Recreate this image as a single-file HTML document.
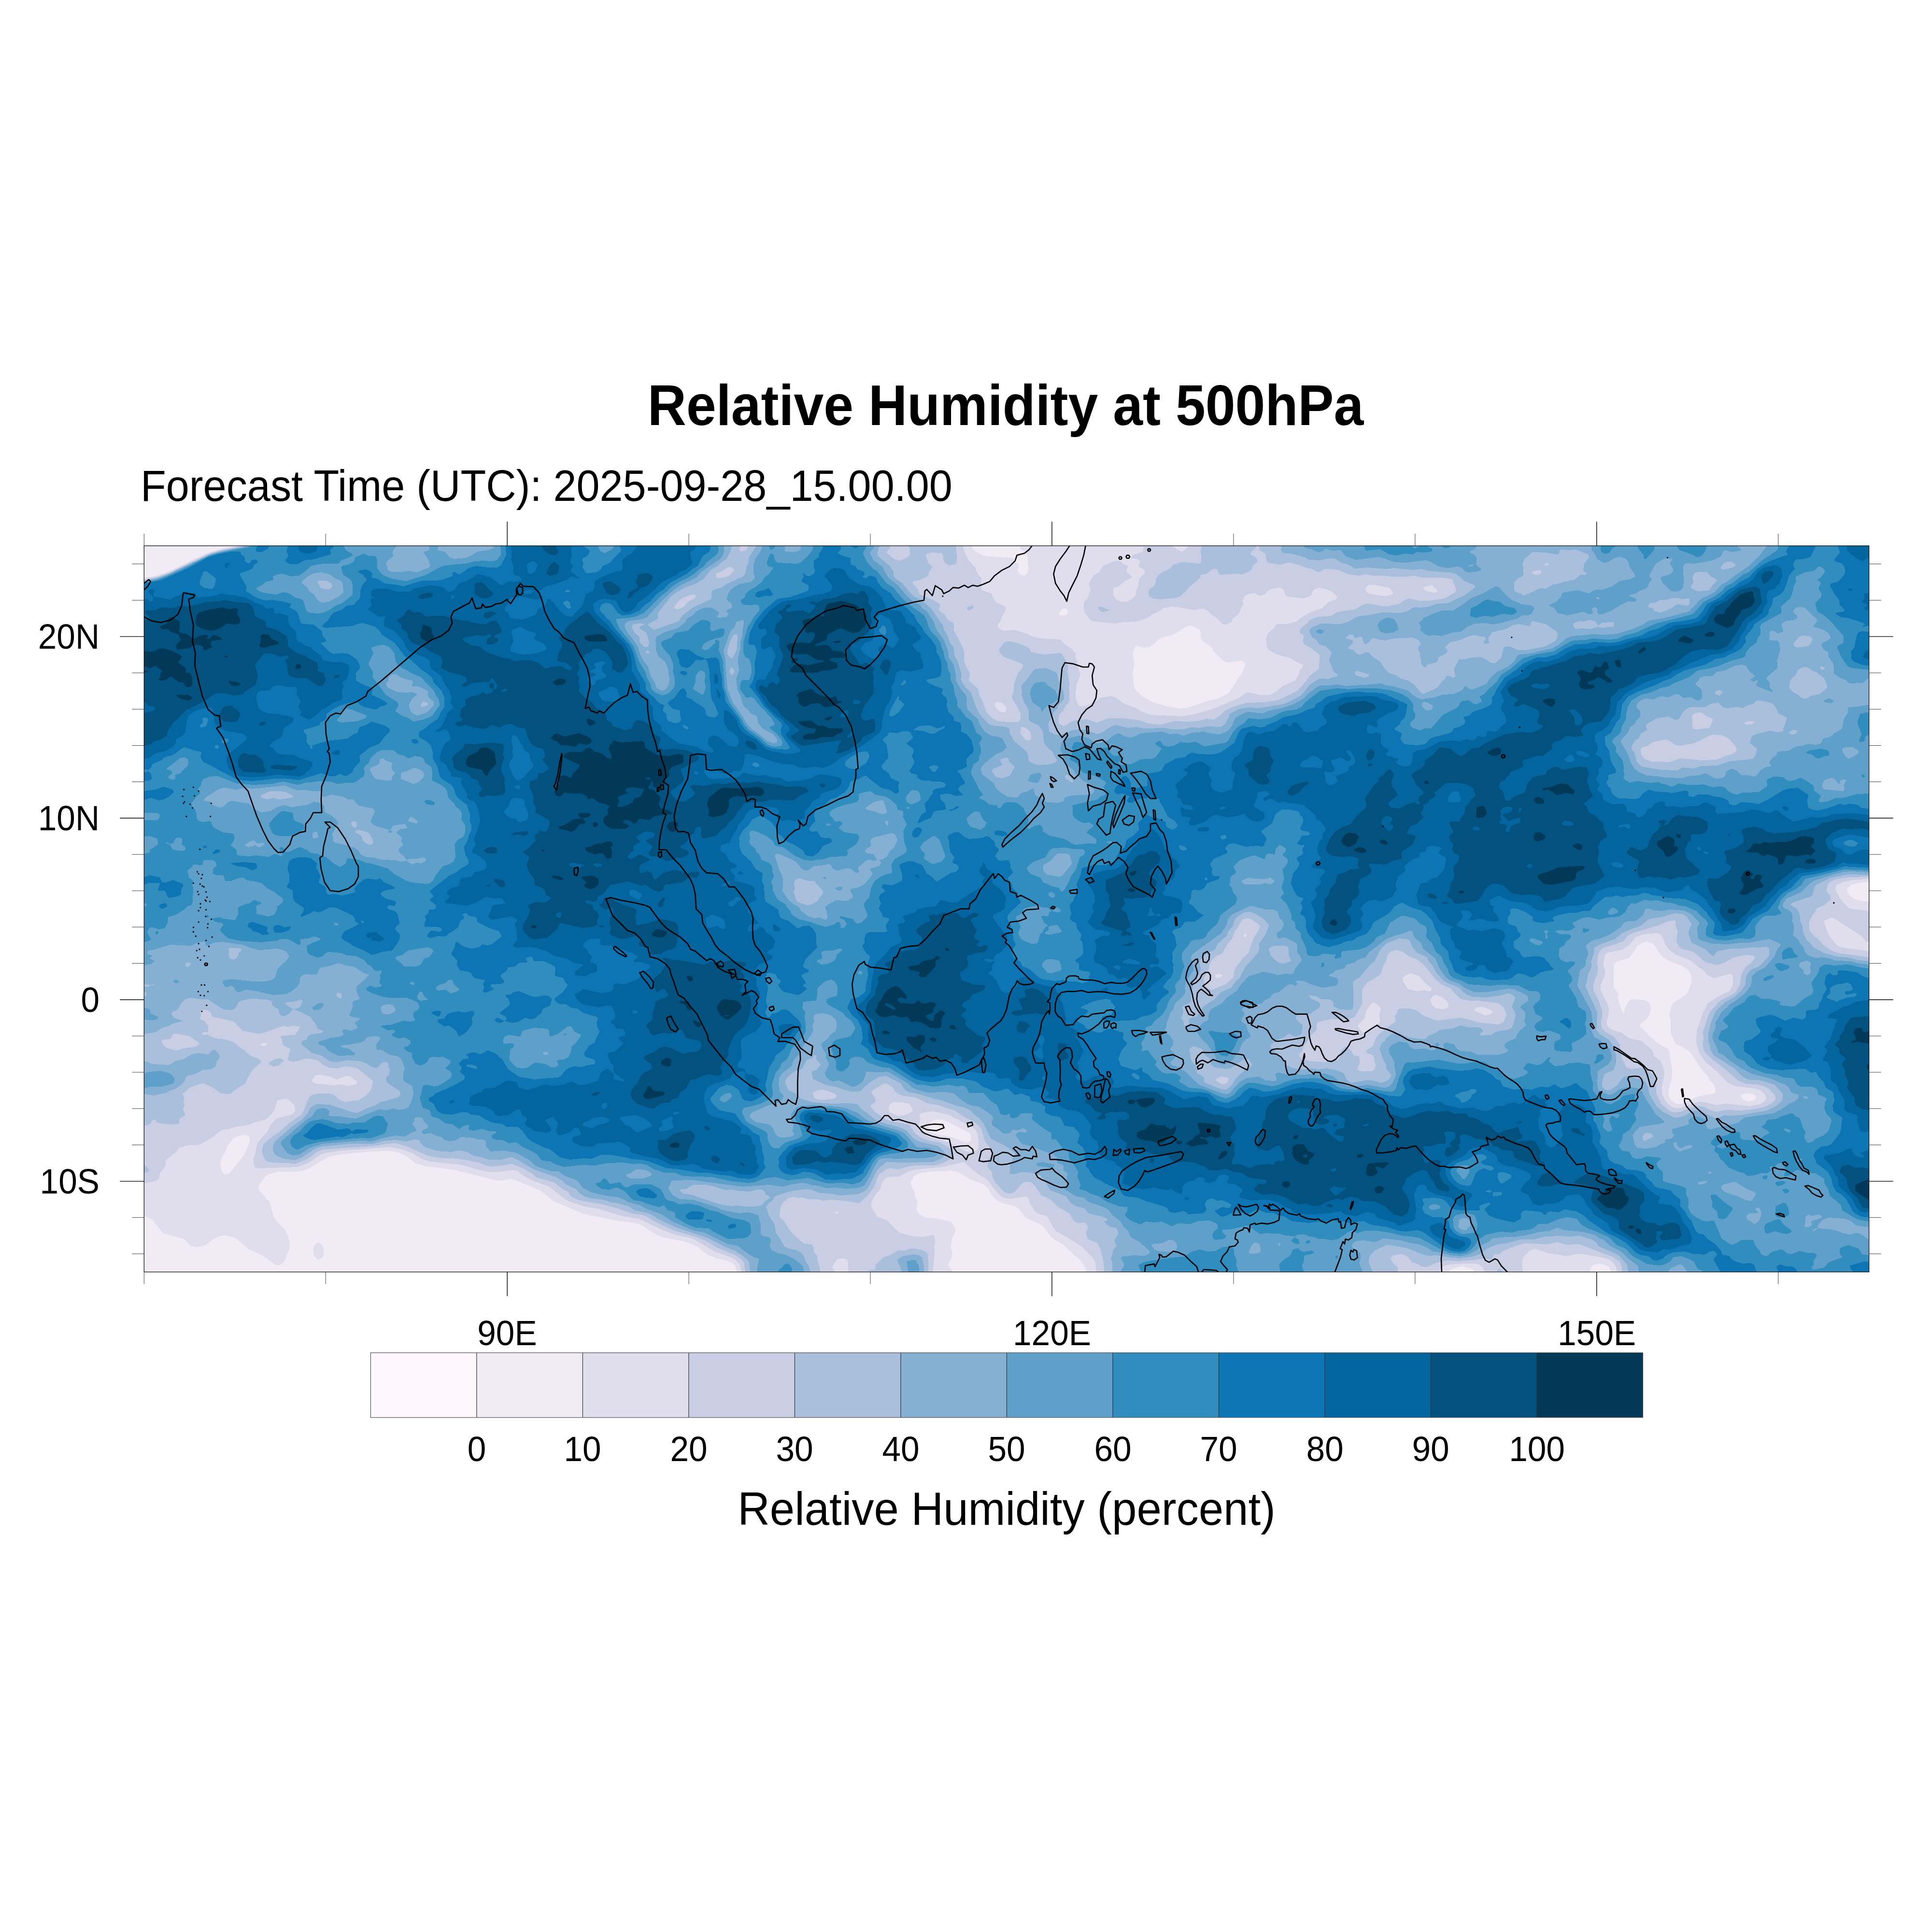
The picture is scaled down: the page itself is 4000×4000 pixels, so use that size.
<!DOCTYPE html><html><head><meta charset="utf-8"><title>Relative Humidity at 500hPa</title><style>html,body{margin:0;padding:0;background:#fff}body{width:4000px;height:4000px;overflow:hidden;position:relative;font-family:"Liberation Sans",sans-serif;color:#000}svg{position:absolute;left:0;top:0}.t{position:absolute;white-space:nowrap;line-height:1}</style></head><body><svg width="4000" height="4000" viewBox="0 0 4000 4000"><defs><clipPath id="c"><rect width="3571.3" height="1503.5"/></clipPath></defs><g transform="translate(298.3,1130.0)" clip-path="url(#c)"><g fill-rule="evenodd" shape-rendering="crispEdges"><rect width="3571.3" height="1503.5" fill="#f1ebf5"/><path fill="#e0dded" d="M175 3l16-3 1523 0 2 6 2 3 20 12 60 4 13 14 0 6-2 6 2 6 5 3 6 2 6-4 2-7 1-9-2-6 1-12-4-9-12-9 0-6 1757 0 0 696-21 2-15 4-8 6-1 6 4 9 11 8 12 4 18 2 0 767-534 0-2-7-5-6-8-3-9-2-9 2-7 3-5 13-108 0-129 0-3-5-6-3-18-4-18 4-6 3-3 5-750 0-4-13-8-11-27-24-9-9-24-14-15-21-6-6-33-15-13-17-8-6-27-7-12-6-8-8-10-17-9-8-27-10-27-16-12-2-45 2-21 3-12 6-7 12 1 6 7 15 1 9 5 9-2 18 5 9 14 8 15 1 33 6 6 3 6 9 2 9-7 15-3 18 4 12-4 15-6 9 1 3 7 8 1 5-445 0-4-12-6-7-15-6-18-4-18-7-20-16-13-6-16-6-47-9-18-9-21-14-12-5-42-6-33-7-18-3-18-4-63-27-25-21-56-23-9-1-15 3-12 0-87-22-63-8-18-6-19-15-11-5-12-4-15-1-33 1-63 6-20 3-10 4-36 22-12 5-15 2-38 0-21 6-4 3-14 18-2 6 5 9 19 21 8 30 8 12 15 14 6 11 3 8 1 18-1 6-10 24-8 7-9 0-27-19-30-14-24-21-12-5-12-2-9 1-13 5-20 15-18 3-9-2-6-3-7-10-5-2-42-12-22-28-8-5-9-1 0-1322 21-4 28-9 77-37 27-9zM198 1221l-12 5-4 4-9 12-3 9-7 12-4 9-1 12 3 12 4 5 3 1 9-3 29-36 12-27 1-9-4-6-8-1zM1639 1188l-9 4-6 8 1 9 5 6 12 4 30 5 27 11 9 0 4-5 0-9-4-6-48-24-9-3zM1900 131l-6 10 3 3 10 0 5-3 1-3-1-5-6-4zM2158 167l-19 13-14 6-15 3-7 3-14 13-9 5-9 1-18-4-6 15 3 21-3 24 3 27 4 6 13 12 23 12 26 8 27 5 18-2 45-15 18-4 20-10 5-6 17-27 9-12 5-15-2-5-6-3-27 3-9-1-21-21-5-9-18-12-4-9 0-11-3-4-6-4-9-4-6-1zM3103 821l-11 7-7 12-9 12-9 4-18 5-4 3-2 6 0 45 10 12-2 9 10 31 3 0 2-10 9-15 4-3 27 1 6 3 6 5 2 12-4 12-6 9-12 9-1 3 1 3 34 33 22 12 3 4 7 41-1 18-6 21 0 12 1 6 5 6 9 6 12 0 33-15 33-6 3-3 0-9-3-6-6-6-9-15-11-12-24-36-13-8-15-7-11-21 0-27-3-12 3-15 2-6 5-6 22-14 6-7 8-21 0-9-3-9-4-6-12-9-31-12-9-6-8-9-9-15-7-6-9-2zM3313 1134l-6 3-1 3 4 6 9 4 11-1 6-3 2-3-3-6-10-3zM357 1443l6 0 4 3 4 6 1 15-2 6-4 3-6 2-3-2-3-3-3-6 0-15z"/><path fill="#c9cee4" d="M184 3l16-3 1495 0 3 12 10 19 13 14 4 12 8 9 1 6-1 18 2 2 20 7 3 9 6 9 19 9 1 3-1 7-6 9-4 11-5 6 0 6 1 3 11 5 21-2 27 8 12 6 18 4 39 2 6 7 18 13 7 8 1 3 0 9 3 6 1 9 6 18-9 21-1 15 0 12 4 12 3 4 6 2 6-1 12-5 21-12 21-4 9 3 18 13 26 9 7 6 21 8 66 3 21-3 42-12 55-23 17-12 27 6 18 0 15-7 12-11 27-12 9-15 1-6 7-9 0-3-14-5-12-8-29-8-16-9-4-6-1-6-1-12 3-10 13-11 3-6 2-2 6-1 15 0 21-5 12-10 16-9 25-9 16-14 12-3 3-4 0-3-9-9-12-6-15-3-6 1-6 3-2 2-3 9-4 3-15 4-31-4-4-3-4-12-9-4-18 4-5 3-5 6-11 5-12-6-12 2-6 2-3 4-4 8 1 4 2 2-5 7-4 11-5 6-8 6-5 9-11 4-6-1-12-12-9-6-12-11-6-3-21 3-33-6-12-1-18 3-9 7-12 5-15 10-21 6-27 1-15 3-48-5-4-3-12-15-2-18 3-5 6-7 4-12 2-6-4-12 10-17 12-7 7-12 23-10 6-1 6 0 9 8 6 1 3 2-5 9 2 4 10 8 0 3-18 9-9 9-11 3 0 15 1 3 6 7 9 4 12 0 12-7 6-7 1-9 4-9 2-15 11-12 1-3-1-4-12-8 0-3 3-6 0-3-6-3-12-1-1-2 7-6 18-5 1-13 59 0 12 9 9 3 10-6 2-6 1410 0 0 690-27 1-26 5-13 6-2 3-1 6 2 6 10 17 15 16 6 2 36 4 0 65-7-2-6-9-4-3-55-36-6-1-6 2-9 5 0 3 9 24 12 17 6 6 9 4 9 2 48 6 0 79 0 586-522 0-1-10-6-9-7-6-10-4-48-9-12 0-21 5-12-3-24-3-27-9-6 1-8 4-12 12-2 15 2 16-79 0-5-10-7-6-9-2-21 0-30 2-12 3-7 3-2 3 0 7-711 0-3-22-6-9-21-21-27-18-27-15-7-9-9-18-5-5-15-4-9-6-2-6-7-9-3-12-6-3-30 5-9-1-9-2-9-8-24-30-20-12-18-15-7-7-3-1-42 10-60 6-13 4-17 10-15 0-11 2-5 3-5 8-4 13-10 12-8 15-1 6 2 6 11 18 19 7 21 21 6 5 24 7 24 2 21-4 3 1 2 12-2 12 1 9-4 43-173 0-3-7 1-12-2-6-3-3-9-1-9 2-9 14-1 3 6 10-194 0-4-16-9-10-15-7-30-11-38-23-18-6-22-4-27-10-48-23-39-7-45-14-30-5-33-11-11-7-31-24-36-13-14-8-13-10-6-2-9 0-24 3-24 0-21-5-36-10-36-3-30-4-12-4-22-13-17-6-15-4-15-2-96 7-36 5-9 3-24 17-24 9-81 3-6-1-3-4-2-15 4-9 3-18 4-9 17-18 4-6 3-9 11-12 7-4 24-5 6-4 3-4 1-7-2-6-11-11-6-2-18 3-7 22-13 15-5 3-23 6-12 5-26 4-16 5-12 1-24 18-21 12-9 2-18 0-18 6-4 7-23 18-1 12-11 15-3 12-9 5-21 4 0-1251 29-6 25-9 57-28 27-12zM246 1029l-5 3 1 3 7 1 6-4-3-3zM363 1095l-9 2-5 7-1 3 1 3 5 3 39 4 15-2 12 3 9-1 9-2 2-2 1-3-3-3-13-9-9 0-17 7-16-7zM1432 1379l-2 1 5 4 2-4-2-2zM1552 1152l-6 3-3 3-2 9 3 6 17 7 12-1 6-2 14-7-8-14-15-4zM1615 1173l-10 3 2 12-3 12 3 9 7 9 13 7 39 10 33 18 9 2 6 0 12-5 2-8-1-18-4-12-5-6-10-6-18-9-24-13-33-7zM1765 323l-4 4 3 9 7 7 9 2 3-1 2-5-1-6-7-8zM2218 888l0 5 3 2 6-1 5-3 1-3-9-2zM2278 804l-2 3 1 3 3 0 3-3 0-3-2-1zM2536 81l-5 3-3 6 3 6 5 3 30 5 12-1 8-4 0-3-8-9-30-6zM2623 885l-6 2-12 7 2 9 10 15 18 4 15-2 12 3 3-2 0-6-12-9-13-15zM2656 84l-8 3 1 3 7 4 15 3 5-1 2-3-1-3-6-2-1-4-5-3zM2758 956l-3 4 1 3 5 3 15 6 9-1 7-5-1-3-5-3-13-5-9 0zM3106 804l-17 6-16 18-12 8-30 6-6 4-1 3-3 18 4 15 0 6-9 20-1 7 1 6 14 27 2 6 1 12-5 21 3 9 6 5 22 7 17 12 24 5 22 19 2 3 2 9 13 11 4 7 5 18-6 30 1 12 6 15 14 13 9 2 9 0 30-11 12-2 9 1 24 6 18-3 51 5 21-4 9-6 4-7-5-9-7-6-10-4-42-5-18-9-20-21-25-21-12-18-7-24 2-24 5-12 6-21 7-12 4-9 19-13 28-14 6-15-1-17-6-3-27 8-6 1-6-2-9-6-6-8-14-9-10-9-9-5-24-9-13-10-8-9-6-15-6-9-9-2zM2542 947l-12 16-3 15-14 15 0 3 11 12 8 0 24-18 3-6-2-15 4-9 0-3-13-11-3-1zM2674 929l-3 1-8 9 4 12 7 7 18 1 6-2 3-3 0-6-5-6-10-8z"/><path fill="#a9bfdc" d="M192 3l15-3 1028 0-3 6 1 4 3 2 10-3 3-3 2-6 295 0-3 6-5 6 0 3 14 12 12 4 15-6 7-7 0-12-5-6 100 0 2 27-2 10-3 2-12 1-7-4-4-6 0-9-4-6-21-1-7 1-4 3 0 3 5 15 7 6 1 3-7 9-2 9-17 8-12 2-2 2 0 3 10 12 3 9 4 3 24 10 14 8 2 3-3 9 1 3 10 6 6 11 11 7 3 3-1 12 19 36 3 12 0 18 5 12 7 12 0 6-3 6 1 3 19 18 2 12 7 12 8 24 12 12 12 6 21 2 21 0 4-5 1-6-1-9-8-15-8-12-1-6 4-12 0-12 3-10 5-14 10-12 1-3-1-3-6-4-31-11-4-3-8-9 1-6 9-12 6-3 9 0 12 3 21 8 5 4 3 6 4 2 24 4 30-3 6 2 3 4 10 18-1 15 4 24-1 9 1 21-1 8-8 10-4 9-7 6-2 6 0 15 9 4 5-1 13-9 9-2 21-2 21 7 12-4 12-5 30 0 33 4 21 7 21 2 9-1 24-6 30 1 18-1 18-5 15 2 13-9 9-9 14-7 18-6 15-4 36-1 30-5 38-19 19-21 6-10 19-14 2-24-1-6-15-12-16-9-3-6 2-12-8-6-1-3 3-6 12-10 7-8 17-6 27-2 11-7 7-2 30-4 18-10 6-2 9 0 24 5 12 0 23-5 14-9 8-2 21 5 21 0 30-5 23-13 2-6-6-12-1-6-2-3-4-1-18-2-39 0-18-4-15 2-30 0-18-2-21 0-15-3-15 3-21-3-21-9-18-2-11 0-10 6-6 0-9-6-12-2-15-6-18-5-6 0-15 4-24-3-3-2-3-7 0-10-14-8 0-9 1262 0 0 685-39 1-27 4-15 6-4 6-3 12 9 12 0 6-13 12-15 6-5 9-5 6-7 15 1 15 3 5 6 7 11 9 7 9 16 12 15 6 65 9 0 652-324 0-187 0 0-10-5-12-15-10-69-26-27 1-18-5-21 4-48-2-27 9-18 8-6 6-11 0-4 9-3 2-18-2-21 3-27 2-27-1-21 5-15 7-6 1-9-1-6-5-12-3-9-11-6-4-6-2-9 0-11 3-5 6 7 10 9 8 0 10-609 0 1-7-2-15-6-27-7-12-16-6-4-3-3-12 5-12-7-9-15 1-6-3-6-7-4-9-26-15-15-15-19-9-12-18-6-6-5-3-9 0-6 2-15 17-6 4-6 1-11-3-17-18-7-12-2-12-8-9 0-15 3-4 7-5-2-12-14-18-8-27-5-6-11-8-15-7-24-16-15-4-18-7-21-3-27-13-24-3-9-3-8-5-7-10-12-8-4 0-23 13-5 5 6 9 4 9-2 3-8 6-1 3 10 12 26 17 42 8 3 2 13 18 8 6 18 7 24 5 17 9 8 6 3 6-1 6-2 3-8 6-11 6-18 5-39 0-15 2-21 6-15-2-8 1-17 12-10 27-13 16-15 14-3 2-30-5-30-2-15 2-9-3-18 0-16-4-9 1-9-2-9 2-11 9-6 9-3 21 10 9 13 21 22 21 8 5 13 1 3 3 3 6-1 6 8 9 0 9 5 15 1 10-155 0-3-19-4-6-7-6-10-6-33-13-27-16-21-8-42-12-37-17-26-15-27-4-24-9-36-10-42-7-10-3-12-6-6-9-14-8-15-12-36-10-11-9-21-12-16-6-6-1-25 4-14 1-12-2-15-6-24-5-30-4-21 0-21-3-12-3-39-18-24-7-21 1-18 4-114 8-9 4-21 15-24 10-48-2-12-2-6-6-5-15 3-15 10-9 21-15 20-18 26-18 5-6 12-30 4-4 6-3 12-2 21 0 9 3 12 10 6 3 6 1 27-3 13-8 12-12 5-18-1-3-20-16-10-8-8-3-18-2-18 4-15-1-14-7-11-9-17-3-10 0-14 5-12 1-8-3-1-3 3-6 0-6 3-6-1-3-11-5-4-4-2-11-3-4 3-3 27-1 10-14 1-3-2-1-12-1-12 2-9-2-39 14-12 2-13-2-20-4-16-17-5-3-42-9-3-9-6-4-6-1-6 0-4 2 2 9-2 6 2 3 7 3 4 6 4 3 0 9-1 5-9 0-4 4 7 2 6-1 6 4 12 4 18 2 18 6 12 10 9 6 12 11 18 7 6 6-21 20-3 7-6 9-3 9-21 13-9 8-6 1-15-1-18-13-18-8-6 1-23 8-6 6-8 6 3 9-2 9 3 6-4 9 5 9 0 3-10 6-2 3 0 6-2 3-17 1-21-2-6-2-3-5-3-1-5 3-3 6-7 3-6 0 0-1129 25-5 26-9 84-40 21-7zM1131 102l-18 7-9 8-6 9 0 3 3 2 6 0 9-4 12-13 9-3 3-3 3-6-6-1zM1209 44l-10 7-13 6-2 3 1 5 3 2 9-1 13-3 12-12-2-3-5-4zM1393 1128l-7 3-1 3 1 6 4 5 9 2 24-1 8-3 3-3-1-3-4-3-12-5-12-3zM1816 375l-2 12 1 3 11 12 5 1 4-1 2-6-3-12-9-7-6-2zM2275 773l-4 4-6 12-7 9-5 15-10 12-10 18-15 8-7 7-5 9-1 9-11 18 2 18 13 7 6-1 6-3 18-7 16-14 1-3 1-10 5-11 8-9 3-6 14-12 2-9 8-21 14-24-3-5-18-12-6-1zM2593 837l-12 3-6 6-3 12-5 9-7 20-14 10-12 6-10 12-2 6 0 27-15 27-7 4-9 2-33-1-27 6-3 4 0 12-13 12-4 9-11 15-3 9-6 6 2 6 4 3 16 5 33 2 24-4 5-3 0-9 1-3 9-12 3-1 10 7 5 10 3 2 9 1 1 2 1 12-4 9-1 3 2 3 7 2 18 0 6-2 3-3 2-9-5-18-3-2-10-4-2-3 2-3 13-9 5-15 4-6 18-16 17-11 2-3-1-9 1-3 4-6 1-6 6-2 18 0 9 2 7 3 11 9 30 11 48-6 15 3 24 7 39 4 10-4 7-12 1-3-5-15-10-9-9-2-36-4-18 0-18-4-21-22-18-8-13-11-21-27-8-7-9-7-15-5-15-11zM2881 51l-6 2-1 4 6 3 7 0 5-3 1-5-3-1zM2902 36l-3 3 3 2 3 0 4-2-1-1-2-2zM3217 345l-9 3-3 3 1 24 2 4 6 1 18-2 9-1 7-17-3-3-8-3-11-8zM3322 363l-9 3 3 4 9 0 5-1 5-3-4-3zM60 1011l-6 10-17 2-1 3 5 9 7 5 18 5 18-5 24-3 6-5 0-3-21-14-27-5zM2224 1101l-4 3 0 3 3 3 10 5 8-2 4-6 1-3-2-3-14-2zM3241 393l-15 8-18 8-27 5-12-2-8-7-10-4-27 5-10 8-11 3-4 3 0 9 2 6 5 6 15 6 18 0 18 1 24-8 42 4 30-1 9-2 12-6 13-3 9-6 1-6-3-6-11-13-8-5-10-4-18-1zM3157 777l-23 9-52 16-10 5-5 7-6 5-15 6-21 6-6 3-6 6-3 9-2 15 2 12-1 9-7 18-2 12 1 6 12 24 6 18 0 12-3 12 2 12 6 6 20 12 11 15 5 30 9 18 10 3 18-2 9 2 19 12 5 15 1 24 10 21 16 14 9 4 15-1 27-11 9-1 12 1 12 7 15 4 18-4 36 1 20-2 25-5 15-8 8-8 0-3-2-6-11-12-11-6-14-4-24-1-16-7-20-18-36-28-11-11-4-6-2-15 2-9-2-12 14-42 22-24 24-12 8-6 9-15 3-21 3-6 6-10 11-8 9-12-5-4-15-1-27 6-15 9-18 6-24-6-21-19-12-5-15-3-5-4-7-12 3-21-4-12 0-9-5-1zM2190 0l113 0-3 6-7 6-2 6 11 6 2 3 1 6-9 8-4 10-17 8-12-1-33 2-5-3-4-9-6 0-6 3-9 7-13 2 0 6-8 7-15 12-9 11-11 9-7 3-33 3-15-2-7-4-2-3-1-6 3-6 8-6 4-6 1-9 3-6 9-8 16-7 8-9 15-5 24 1 12 2 5-1 2-3 0-12-2-9zM1707 126l7-2 3 1 1 1-1 2-3 3-6 3-3-1-2-4zM1978 126l4 0 11 5 6 1-3 2-9 3-6-1-4-4-1-3zM273 1062l9-1 8 4-13 12-10 1-7-4-2-3 3-3zM0 1281l9 9 1 3-2 3-8 4zM1586 1455l8 0 12 2 9 3 6 4 2 6 1 34-84 0-41 0 2-3 3-2 9 0 1-2 1-9 16-15 12-4 18-10 15 0zM2806 1497l5 3 1 4-11 0 2-6z"/><path fill="#86b0d3" d="M200 3l13-3 1004 0-3 12-8 15-12 8-6 7-15 8-15 19-15 9-24 9-21 12-7 6-26 33-1 3 0 9-2 2-18 10 0 3 12 9 51-18 8-12 22-17 36-16 2-3 0-12 4-5 18-5 9-7 35-16 4-6 2-12 5-12 0-9 16-24 255 0-5 15 1 6 25 21 8 12 0 9 2 3 16 12 15 18 9 9 15 7 20 17 25 36 2 9 7 11 6 16 7 9 2 18 7 12 7 24-1 12 1 3 9 15 8 6 4 6 7 21 9 21 21 22 6 2 29 3 7 3 0 9 9 17 26 22 4 9 0 9 3 3 9 5 9 2 27-2 9-5 2-3-10-18-13-12-4-6-2-24-9-12-18-9-2-3-1-21-9-15-5-15 1-9-2-6 1-6 11-11 13-19 5-3 21-2 19 8 4 3 3 15 5 6 0 6 5 9 2 12-1 6-11 12-2 7-8 8-11 24 2 15 11 7 15 0 21-9 15-2 12 1 24 8 6 0 6-3 18-12 9-3 27 6 15-2 18 3 42-1 15 3 24 0 15-4 18 1 15-3 30 1 8-6 7-12 3-9 16-9 20-4 24 1 51-8 33-16 12-12 9-12 18-12 6-1 15 1 9-4 10-2 0-3-10-9-2-9-5-9 0-6 5-12-2-3-11-11-13-4-6-9-9-6-6-12 3-6 4-3 18-7 39 1 18-5 11-7 13-5 14-1 31-6 39 1 12-3 15-9 15 1 15-2 18-6 21-1 36-16 20-16 2-3-3-3-19-8-15-13-9-4-51-4-15-4-18 2-39-4-15 2-39-3-27 2-12-8-15-4-13-8-11-1-21 4-21-1-15-7-24-6-15-1-4-3-1-3 1-9 1216 0 0 681-42-1-36 7-31 15-3 3-5 18-3 3-36 12-5 3 0 3 11 7 4 5 4 12 0 9 4 9 3 18 6 12 6 5 9 11 21 11 24 7 30 3 18 5 21 2 0 644-189 0-309-1-3-15-15-17-9-6-31-13-4-3-4-6-8-6-25-8-27 1-12-1-33 1-24 6-27 0-30 8-18 2-23 9-10 9-6 3-15 5-24 3-18-1-30-5-18 1-12-3-33-13-33-6-9 0-24 11-8 8-4 9 0 9 8 19-540 0 1-19-4-9 4-9 1-9 8-9-5-9 2-6 6-9-1-6-2-5-3-2-12-2-10-9-1-3 5 0 2-3-4-3-10-4-23-5-5-3-4-6-4-3-15-3-12-8-9-13-33-13-12-20-7-9-4-3-22-5-15 0-15 4-9-1 1-19 4-6 2-9 5-6-1-3-17-13-33-17-15-31-9-11-9-6-8-9-13-7-15-3-33-12-18-4-33-10-18-3-8-6-7-12-30-15-15 1-21 13-18 17-3 1-15 0-20-5-10-4-24-5-26-12-3-15 11-5 8-10-10-12 1-6-5-2-3 6-12 5-10 18-17 6-14 12-4 9 6 15 2 2 12 6 12 11 25 8 39 3 36-1 18 2 9 11 12 8 18 15 21 7 21 5 15 6 7 4 11 13 12 8 39 9 9 6 7 9-2 6-5 6-18 7-60 1-36-1-15 12-6 8-17 33-7 7-12 6-39 3-21-4-21-1-18-7-13-1-33 5-29 10-4 7-15 14 4 9 2 9 12 18 3 18 9 13 6 11 3 5 9 4 15 3 11 6 5 6 4 12 6 9 4 13-125 0-3-22-10-10-18-12-20-8-37-19-66-22-36-17-18-11-33-8-9-7-24-7-15-2-15-5-27-3-12-4-10-6-8-9-21-10-7-8-14-7-48-17-27-17-15-7-6 0-15 5-27 0-15-5-16-3-14-8-9-2-9-1-15 3-30-2-24-8-9-8-4-7-8-1-18 4-24-3-21 2-24 6-48 0-60 6-12 4-27 18-15 6-22-3-14-5-5-4-5-9 2-12 3-6 38-33 18-12 11-12 6-12 10-7 6-1 24 1 48 16 9 1 10-4 11-6 18-6 9-7 9-1 27-8 6-5 0-3-3-6-23-15-4-6 0-6 6-6 2-9-3-6 0-6-2-4-3-1-6 0-6 5-5 6-4 1-9-2-12-8-12-4-27-2-21 4-10-1-5-1-18-12-18-5-21-17-1-4 1-3 3-2 6-1 2-3 0-3 4-4 6-2 18-2 3-1 2-3-2-2-9-2-5-11-11-15-29-14-6-1 12-4 3-3 4-11-4-3-12 5-18 1-2 3 17 12-3 2-9 9-9 3-6-2-4-12-2-2-8-4-3-3 0-6-2-3-11-3-33-1-18 4-5 3-7 12-6 4-9 0-9-1-6-3-27-18-15 0-18-3-9 1-6 3-8 8-6 12-12 6-2 3 7 9 18 6-18 4-12 6-15 5-12 8-24 4 0-77 3-2 3-5-2-3-4-1 0-10 9 0 6-3 8-1-2-1-9 1-12-2 0-834 27-6 24-9 87-41 30-8zM258 509l-15 7-2 3 3 3 11 3 12-3 12 3 12-1 12-2 7-3-16-9-12-2-18 0zM363 72l-4 3 6 12 10 3 9 0 6-6-2-6-11-6zM399 927l-1 3 1 3 6 4 3-1 2-3-2-6-6-2zM432 570l-3 3 0 4 3 4 6 3 3-5-1-6-4-3zM576 323l-2 4-1 7 6-1 8-3 1-3-6-4zM1014 162l-4 3 1 7 3 6 12 11 0 9 3 5 6 6 6 1 3-3 2-6-6-21-14-9 0-3 11-6-11-1zM1137 1323l-6 3-6 5-15 2 0 2 2 3 6 3 16 3 60 20 21 3 12-1 20 2 19 0 13-3 5-6 12-9-1-3-8-4-4-8-5-2-9 0-15 4-21-1-15-3-15 1-21-7-18-4zM1224 183l-6 5-5 10-5 18 0 9 5 6 2 2 3 0 9-17 2-30-2-3zM1353 689l-5 4-3 6 3 9-3 9 6 18 4 3 16 6 10-1 10-5 4-3 4-8 6-6 1-4-1-3-18-20-12 0-16-5zM1786 438l-11 3-3 3 5 10-19 8-3 3 7 12 5 3 10 1 15-5 10-17-1-3-9-8-3-8zM1909 474l-3 3 3 6 12 7 3-1-3-6-6-7zM2278 759l-15 9-6 9-3 11-9 10-3 9-20 18-4 9-2 3-14 6-16 15-1 6 3 12-9 20-7 7-1 12-4 15 1 12-4 5-10 4-4 3 0 3 2 9-5 12 5 6 1 9 5 2 4-2 2-3-1-9 3-3 7-2 6-1 2-3 12-18 23-15 14-15 21-9 8-12 10-9 2-6 6-9 2-6 27-30 3-9-1-9 14-21 7-18-9-12-21-13-9-3zM2341 828l-9 3-3 3 0 3 4 12 14 13 9 3 6-1 10-3 3-3-5-9-1-18-7-3zM2932 8l-3 9-3 1-24-4-27-1-17 14-4 12 2 6-1 9 1 6-2 3-9 4-8 8-1 12 1 6 4 3 10 3 2 3 4 1 21-9 9-5 6-1 9 1 15-9 9-1 12-4 24-5 12-10 9 0 3-2 1-1-7-5 0-4 2-12 10-12 0-3-2-3-25-10-15 1-12-1zM3166 108l-15 4-12 0-9 5-12 2-4 4 1 4 9 3 3 5 12 3 10-3 14-6 9-7 6-1 15 3 4-1 2-3 1-6-1-4-3-1-12 2-9-3zM3217 54l-6 2-3 4-2 6 2 9-5 9 0 3 5 4 9 3 18-1 6-2 7-10 9-9-2-3-11-5-9-10zM3277 33l-6 3-7 9 2 3 2 1 9-1 12-3 5-3 1-3-9-6zM3337 321l-4 6-11 3-12 6-12-2-21 2-6-1-4-2-8-8-15 2-12 7-30 0-6 2-11 9-6 12-4 3-6 0-12-6-6 0-21 4-19 11-2 3 3 9-14 9-3 9-7 3-8 12-1 5 7 10 4 18 10 10 42 7 33 1 9-6 24 2 15-5 33-1 27-9 42-4 6-1 6-9 2-12-15-12 6-15 10-4 15-3 9-3 6 0 12 3 9-1 2-1 1-6 7-18 0-3-3-3-13-6-9-16-4-5-8-3-21-4zM3436 186l-9 2-11 13-1 3 3 5 3 1 9 0 9-1 9-3 6-11-2-6-4-2zM3472 249l-2 3 1 3 4 2 3-1 2-1-1-3zM87 863l-2 4 1 3 4 2 4-2 4-6-8-2zM177 833l-2 1 1 18 2 3 8 2 6-4 3-4 1-6 6-6-1-3-9-1zM438 590l0 4 11 6 2 3 1 6 2 3 11 7 8-1 1-9-9-15-21-6zM1041 217l-2 2 0 3 5 1 2-1 0-3zM1215 252l-3 9 3 6 3-1 3-3 1-5-4-5zM2170 1037l-5 4-1 6 3 6-1 3 3 12 8 9 3 15 11 6 3 3 1 9 5 3 27 11 9 2 6-1 11-9 4-9 14-15 10-8 13-7-1-6-6-8-12 1-17 13-10 5-9 1-21-3-6-3-3-3-3-13-11-8-3-9-3-3-13-4zM2875 156l-4 3 0 6-2 1-9-1-12-3-9 1-7 2-11 7-30 7-7 10-1 3 2 9-3 1-6 1-3-2 1-3 4-6-2-3-21-4-9 1-21 9-21 5-11 10 6 6-2 6-17 9-1 6-5 5-15 3-6 7-3-1-7-8 1-6-3-9 1-6-5-9 1-3 5-6 0-3-5-6-12-5-39 2-18 4-9-1-15-4-3 1-5 6-7 6-3-1-3-5-2-9-4-1-9 3-3-1-3-5-6-2-8 6-1 3 13 3 2 3 0 3-10 9 0 3 12 3 4 6 4 3 7 0 10-5 6 1 6 7 17 12 10 15 9 9 12 3 12 8 16 4 12 9 14 17 6 1 21-9 9-6 6-9 7-6 3-6 5-1 9 4 3-1 2-2-3-15 10-20 12 0 12-3 21-2 9 4 12 8 9 1 12-10 2-5 3-15 2-3 2-1 9-1 18 8 15 0 39-7 21-11 5-6 2-9-3-6-22-15zM2974 156l-6 1-10 5 4 9 3 1 12-1 18 1 15-4 9 2 12-2 10 0 3-6-1-3-3-1-21 1-9 6-6-9-3-1-9-1-12 3zM3256 300l-4 3 1 3 4 3 5 1 5-4 1-3-2-3-4-1zM3163 762l-18 6-30 5-15 13-39 15-15 13-33 12-9 5-2 3-1 12-5 15 1 12-7 12-2 12-4 15 25 54-2 36 6 8 20 13 9 12 6 21 0 12-4 15-4 4-14 5-3 3-4 15 0 9 1 3 5 4 6 1 6-1 14-10 3-6 10-11 6-1 6 0 12 5 12 2 8 5 6 12 2 12 16 27 14 12 23 11 6 0 12-3 18-10 6-2 15 3 27 13 6 0 12-6 12 1 21-1 57-10 18-9 9-8 4-6 1-9-2-5-15-16-9-3-24-7-18 0-13-5-20-19-42-27-7-11-1-9-3-9 0-18 5-21 10-24 19-18 19-10 15-14 8-12 2-18 2-4 9-10 15-6 5-4 14-15 3-6 0-12-3-3-4-1-15 2-15-1-21 3-24 0-27 6-6 9-3 0-15-14-28-13-7-21 7-18-10-15-10-6-12-1zM3433 252l-10 6-3 9-10 9-2 3-2 15 9 10 9 4 9 8 9 0 9-5 18-4 16-13 0-3-7-18-10-6-5-5-9-3-9-7-6-1zM2506 261l2 6 5 3 14 3 9-3 0-4-24-7zM2599 813l-24 9-5 3-11 12-11 23-9 7-23 27-10 6-3 3 1 39-1 15-3 3-6 1-18-1-13-6-1-9-8-6-17 0-9-6-15-2-1 2 7 6 14 6 2 6-3 6-16 11-6 2-15 0-10 5-1 3 2 3 13 12-3 18-5 3-8 2-6-2-3-3-6 0-7 6-11 4-17 11-2 3 4 7 13 11 4 6 10 6 2 3 1 7 15 7 21 2 15-2 15 2 18-2 21 4 14 6 5 12 6 6 5 2 33-6 15 2 12 4 9-2 9-6 4-6 0-3-10-12 0-9-5-6-9-27 5-12 6-4 5-8 13-9 6 0 27 10 30 4 4-2 5-6 12-4 12-8 27-3 15-6 18 4 18 0 7 2 3 3 1 3-7 6 2 3 21-1 9-6 12-3 15-2 6-3 3-3 7-24-2-6-6-12 7-18-5-6-7-3-6 0-12 4-30 4-27-1-12-4-9-6-8-9-4-2-21-8-9-6-15-17-6-12-8-9-4-9-21-10-9-11-5-12-2-3-8-2zM3112 1215l-7 3-3 6 1 5 3 3 6-2 12-6 1-3-7-5zM3415 381l-7 3-3 3 7 4 6-1 4-3 1-3-2-2zM141 1044l7 0 9 12 0 3-7 9-1 9-5 4-6 3-15 1-18 9-15 3-2 1-5 12-6 6-11 8-12 4-6 4-27 6-15-2-6-1 0-69 18 7 33 2 6-3 9-6 15-3 18-10 15-3 18 3 4-3zM1592 1467l11 1 8 5 4 21-1 10-29 0-17 0-3-13-5-9-1-3 5-4 6-4z"/><path fill="#5ea0ca" d="M208 3l11-3 304 0-9 12 2 9-14 12-1 3 4 15 8 3 21 0 15-2 15 3 24-9 4-4-2-9-5-10-6-8 1-3 10-3 1-3-2-6 20 0-1 9 16 4 9 11 9 3 24-2 10-4 14-9 27-4 6-4 2-4 475 0 1 12-4 9-4 6-39 27-11 12-33 16-15 11-20 18-34 37-6 3-31 5-6 3-2 3-1 6 6 12 10 12 12 18 4 15 6 12 10 12 6 21 8 12 4 12 7 5 6 1 6-3 6-9 2-12-2-9-1-12-6-15-14-11-5-13-1-21 1-6 17-10 27-8 16-12 5-9 11-6 8-9 17-7 12 0 10 4 7 6 0 3-4 6 2 2 15-1 3-1 4-6-5-6 3-3 8-3 2-3-2-6-10-9 1-6 4-9 4-6 18-11 22-4 8-6 2-3-3-9 0-18 4-12 12-19 1-8 48 0-1 10 4 2 14 1 8-1 6-3 2-3 0-6 152 0-2 6-6 6-1 3 7 15 18 13 13 23 20 16 14 17 15 15 16 8 5 7 10 7 15 23 2 9 3 6 15 21 9 24 1 12 10 15 5 21 0 12 10 18 10 12 3 9-2 9 3 12 22 21 3 9 10 15 13 9 18 3 6 3 8 15 1 3-9 9-12 5-17 13-13 12-3 6 3 11 25 19 3 9 11 10 13 8 11 2 9 0 3-2 6-7 12-3 12-7 3 2 0 6 3 7 12 5 5 6 7 3 24 1 9-3 3-7 6-3 9-2 39-2 4-2 4-6-2-3-9-6-3-7-12-6-14-14-6-9-13-8-6-7-1-15-5-9 0-3 4-15 3-3 8-3 24-6 21 6 12 9 6 1 6-1 14-6 16-12 6-2 15 7 9 2 6-1 18-8 42-3 6 1 9 4 15-1 15 4 18-6 24-2 18 4 15 1 12-4 7-5 7-9 6-15 7-5 15-7 6-1 30 3 10-5 29-6 24-8 22-13 8-9 9-6 9-8 9-3 15 0 18-2 18 3 54-3 18-2 9 3 18 3 30 9 10 9 11 7 6 2 27-4 18-6 21-1 18-7 6-9 3 0 8 6 7 0 27-11 9-13 13-12 23-11 12-10 7-12 5-3 15-1 51-11 16-9 14-12 12-5 27-2 15-2 30 1 21-2 37-11 17-8 12-8 30-5 54-14 24-26 29-14 13-15 16-9 8-7 33-23 22-21 16-21 211 0 0 275-4 1-6 6-5 2-24 1-3-1-6-6-13-5-12-9 1-9-2-12-9-12-2-12-8-3-5-9 0-3 2-3 17-9 0-3-6-9-11-7-18-5 0-3 7-9 0-3-25-24-6-2-9 0-5 2-3 3-1 3 0 3 7 6 1 3-2 4-6 3-15 1-10 7 4 15-3 2-9 2-6-4-6-1-3 1-2 3 1 6-2 7 3 3 12 0 5 2 2 3 0 6 2 6-7 24 1 16-23 20 0 3 6 6 1 12 6 6-1 3-31-12-3-3 4-6-1-5-6 4-3 0-4-2-1-3 8-4 1-2-4-5-7-4-8-13-9-2-15 3-18 9-18 3-9 9-15 0-11 3-3 6-6 6 1 3 11 9 1 3 1 15-6 5-6 0-12-7-15 2-9-7-6-1-15 6-18-1-15 6-15-2-9 3-9 8-1 6 1 3 6 6 1 6-1 6-6 6-5 9-9 6-5 12-12 12-3 6 16 28 4 14 9 15 8 6 18 8 21 1 18 3 33 1 12-4 24-2 12-4 6 2 12 8 9 1 10-2 4-3 2-9 8-5 6-1 9 4 9 9 15 0 12 3 6-4 6-9 12-7 11-2-4-6 2-6 12-11 4-7 23-2 12-8 15-2 12-4 15 2 9-2 4-2 3-9 14-3 11-9 11-6 3-3 5-21 8-12-1-9 2-2 18-1 24-4 0 347-36-2-15 1-25 6-37 12-9 6-18 18-25 11-6 3-5 7-2 6 0 3 3 3 10 5 5 4 2 9-1 9 3 6 1 9-2 12 1 4 11 8 1 6 9 9 2 9 7 8 15 5 15-1 12 2 15 5 30 1 15 4 24 3 0 544-27-4-10-9-14-5-33-2-12 5-8 8-2 6 1 3 24 2 18 4 9 4 15 3 12-3 6 0 6 3 7 5 8 4 0 69-3 0-374 0-1-5-7-8-4-3-4 0-19 9-2 3 0 4-62 0-2-13-20-15-12-12-8-6-19-9-12-12-9-3-9-7-27-7-36-3-15-5-18 7-18 1-21 6-30 5-18 0-30 3-5 6-16 7-9 10-7 4-14 7-15 3-21-2-21-6-15-2-12-8-18-7-18-3-18-5-36-4-12 6-9 1-18-3-15 1-8 4-4 6 3 5 15 10 1 9-3 12 7 19-503 0 9-13-1-6-5-9 0-3 3-2 9 0 12-2 24 1 8-3 3-3 0-3-11-11-6-4-6-6-12-6-6-5-3-10-9-8-8-13-16-12-9-12-12-6-30-10-7-8-17-3-24-15-2-3 8-6 1-3-3-9 2-12-8-6-1-10-3-2-9-3-1-12-8-7-15-4-27-11-21-5-3-2-11-16 0-3 5-4 3-1 12 2 3-3-3-4-6-2-9 4-12-1-2 3-4 4-9 1-6-1-9-9-12-7-1-6 3-9-1-3-4-4-12-9-14-8-16-3-7-3-11-7-16-14-17-3-39 1-24-7-9-5-6-7-42-24-15 1-30-1-2 9-4 9-6 6-12 7-8-1-13-7-12-5-12 2-5-2-8-6-3-6 0-6 7-12 1-6-6-9-1-12-6-9-3-9 3-4 11-8 4-7 11-8 2-3 1-15-2-6-9-8-10-4-11-1-9 1-6 3-1 6 2 6-5 9 3 9-6 12-19 27-5 12-11 12-4 12-20 15-4 6-2 6-1 9 2 15 1 3 6 6 1 3-3 6-7 6-20 6-35 15-5 6 2 6 10 8 24 4 6 2 6 7 5 12 7 6 6 1 17-1 8-3 1-3-4-6 3-12-6-12 1-12 7-9 6-5 9-3 22-1 51 3 18 3 24 10 18 14 6 3 35 12 22 6 12 5 6 4 24 27 27 2 12 7 3 3 0 4-6 4-21 3-36 0-15 1-30-1-9 1-4 3-11 18-9 18-9 15-6 4-12 3-21 1-21-2-21 1-15-5-12-1-13-4-9-1-21 3-18 5-30-4-54 4-105-14-39 1-4 3-5 12 0 3 8 12 16 9 27 1 45 14 15 7 36 7 15-2 9 1 15 5 2 12 3 6 0 21 4 4 11 2 5 3 1 3-3 12 4 9 15 7 12 2 21 10 17 14 3 13-97 0-1-7 4-18 0-3-13-4-20-14-11-9-20-3-48-24-21-4-21-8-27-12-21-14-33-12-12-7-23-6-19-10-27-3-30-7-19-10-11-15-27-10-12-9-15 0-33-11-12-12-27-15-27-5-27 2-10-12 1-9-6-4-12 0-9-3-21-2-6 1-9 6-12 2-12-3-6-6-9-2-12-6-15 2-4-3 0-3 3-3 7-3 3-3 0-3-7-6-5-9-6-2-6 0-4 2 0 6-5 6 9 12-2 3-7 2-15 9-21-2-27 6-21 6-18-1-24 1-60 5-27 9-18 12-6 2-9 1-12-4-14-19 1-6 52-45 11-6 10-15 12-3 9 2 6 4-2 9 5 2 15 0 36 5 48-19 18 1 12-3 12 3 15-3 5-4 5-9 5-18-3-15-3-3-12-6-4-6 1-15 3-6-6-18-3-4-6-4-19-4-11-8-6-2-6 1-2-3 0-9 8-12-1-3-8-2-18 2-6 8-6 3-27 5-15 1-1 1 2 3 14 3 13 9 2 3-6 2-30 1-18-9-4-3-5-7-12-4-3-4 2-3 4-1 12-3 9-4 15-1 9-3 2-3-3-6 1-3 6-1 12 3 12-5 1-3-5-6 0-3 9-6 1-3-18-3-4-3 7-18 0-10 3-2 11-3-1-6-5-9 0-12 15-12 11-12-10-3-21-13-21-4-12-4-21 7-15 2-3 3-4 9-2 2-6 1-15-1-6 1-7 6-1 12-7 9-12 9-9 4-27 2-39-9-18-2-12 5-6 0-3-3-2-6-4-3-3-1-9 3-5-2-3-6 0-3 1-3 16-3 45 5 24 0 15-3 6-4 2-4 4-15 19-18 5-6 0-3-6-9-12-5-12-1-12 2-21 1-15-4-18-7-42-6-19 2-11 7-4-1-1-6-4-3-12 3-15 6-42-2-33 10-9 1-5 3-1 3 3 3 9 3-5 3 0 3 7 3 1 3-6 5-15 2 0-794 24-4 24-9 91-43 36-9zM276 498l-51 5-18-2-18 4-12-3-13-1-14 5-12 9-8 4-6 6 0 3 11 1 8 8 13 5 8-2 9-9 7-3 33 5 6 2 6 8 18 9 20-3 10-7 12-4 6-1 15 4 33-5 12-6 9 1 11 6 3 3-1 6 2 6 9 4 12 9 6 8 0 3-7 9-2 7-4 5 2 6 1 9 4 3 16 3 23 7 8 5 6 9 4 3 9 3 11 0 19 5 30 1 11 3 10-2 12 8 9-4 9 1 8-3 3-3-2-4-3-2-15 3-12 0-9 2-6-8-8-6-2-6 1-3 7-6 1-3-4-6 2-6-1-3-11-9 9-8 14-1-2-6-3-3-24 3-6 9-2 0 6 3-1 3-8 0 2-6-30-9-7-6-1-3 9-21-4-5-30-6-11-13-10 0-12-6-9-1-12-3-18 5-2-1-1-3 1-6-4-2-15 0-15-2-21 0-24-10zM351 57l-11 6-11 9-2 3 0 3 12 9 2 6 12 9 5 9 5 4 6 3 15-3 18-9 11-10-2-18-1-3-5-4-9-3-12-9-18-4zM489 441l-1 3 0 6-5 4-13 5-2 3 0 3 6 12 6 6 21 3 9 0 3-3 1-6 6-6-7-8-1-4 2-9-15-6-4-4zM513 266l-7 7 0 6-5 6 1 6 5 4 18 8 18 1 12-1 9 3 1 3-9 6-8 15 4 12 3 4 9 5 9-1 12-5 15-15 0-7-10-8-2-3 0-11-3-2-18-8-13 0 3-9-3-3-20-5-12-8zM828 1048l-3 2 2 3 4 1 5-1 1-3-3-2zM1017 1292l-9 7-10 3 1 3 3 3 6 2 24 0 16-5 3-3-1-3-6-4-9-3-12-1zM1230 156l-5 3-2 9-9 9-14 39 1 9 3 9 0 12 4 51 11 27 21 30 6 12 14 15 12 8 18 15 12 5 6-1 3-3-1-6-8-9-22-12-9-12-2-12-3-3-9-3-7-9-8-6-3-6-4-15-7-15-2-21 6-18-2-12 0-15 5-18 0-15 4-14 0-10 3-15 0-3-3-2zM1522 528l-12 3-17 12 3 3 20 5 6 3 9 2 6-3 1-4-7-21-3-1zM1543 596l-30 7-7 3-2 6 1 9-3 3-6 3-3 3 0 3 5 4 12 1 8 13-8 1-9-2-5 1-18 15 2 9-3 2-6-1-6-6-6-2-6 0-15 4-6 0-6-4-5-8-4-1-15 3-15 1-12 9-7 0-6-3-12-14-6-4-27-12-6-1-4 1-1 3 6 18 2 9 8 15 1 21-2 9 12 18 10 9 11 6 3 3 3 6 15 11 12 4 12-1 10 4 5-1 1-5-2-12-3-6 1-3 6-5 15-8 24 1 10-6 2-3-5-9-1-6 6-2 9-1 15-8 16-19 0-3-6-9 20-6 4-6-1-4-5-2 8-1 9-6 4-5 2-6 10-9 7-15-6-12-5-2zM1891 637l-15 16-13 7-2 6 2 9 7 6 24 4 6-1 20-24 1-3-4-15-2-3-6-2zM2287 687l-14 6 0 3 5 5 33 0 9-2 0-1 6 2 6 1 8-5 0-3-8-6-12 3-21-1zM2650 323l-3 1-2 6 4 6 7 5 9-1 3-4 0-6-12-6zM3109 752l-2 1-2 9-2 3-12 10-6 2-12 0-9 3-6 9-24 16-21 9-12 2-14 9-2 3 5 15 0 3-5 12-1 12-11 9-5 27 0 6 28 51 3 21-3 18 5 12 3 4 10 5 8 9 12 9 5 15 0 6-8 12-18 11-4 4 1 9-2 9 2 18 8 6 16 6 6-2 15-10 15-4 6 0 18 2 8 8 6 12 22 34 17 14 0 3-9 3-41 6-12 12-3 6 4 18 4 6 4 2 18 1 18-3 9-6 9-3 1-6 2-1 12-2 5-6-4-6-1-7 36-10-2-7 1-3 10-7 12 1 12 6 2 3 0 9 2 6 8 2 12-3 39-9 6-2 10-9 8-2 48-7 9-2 23-13 7-6 12-5 7-7 1-3 0-3-2-1-12-3-3-3-3-8-9-7-12-4-15-7-42-11-21-11-29-20-7-7-11-5-3-9-10-21 1-9 6-15-1-9 6-9 6-12 11-9 7-8 12-7 18-14 13-16 3-12 0-9 3-3 6-6 18-9 20-24 6-15 6-6 0-3-6-4-18-7-42 8-18 0-24 3-33-1-24-7-5-4-3-18 1-6 4-6 0-3-14-15-9-6-10-4-27-2-18 3-15-1-12-4zM3484 483l-6 3-3 6-1 6 1 3 3 3 39 4 3-2 1-5-2-6 5-9-1-2-6 0-5 2-1 3 1 3-4 1-9-11-6-1zM3523 417l-7 3-1 3 7 12 7 6 3-1 9-5 9-6 0-3-2-3-10-6zM3433 861l-5 3-2 6 10 9 0 6 6 4 6-2 3-5-2-9 2-9-3-3-6-2zM219 612l-9 6 0 3 6 3 15-4 5 4 4 0 9-6-2-3-13 1-6-6zM351 593l-3 4 1 6 2 3 6-1 4-2-2-9-2-2zM495 951l-4 3-1 3 1 6 4 6 9 1 9-2 6-4 2-4-6-9-8-2zM555 461l-9 5-12 3-2 2 0 12 26 10 9-3 11-10 2-6-2-6-8-5-9-3zM1534 570l0 3 3 5 3 1 1-3-1-6-3-1zM2287 747l-36 17-7 10-3 12-11 16-60 44-3 6 3 9 3 18-15 21-3 15 1 9-1 3-7 9-11 9-4 6-2 9-6 6-8 24 0 6-4 6 3 6 8 6 7 12 0 6-6 9 0 3 7 6 3 6-1 4-8 8-1 3 1 3 14 5 15 9 29 28 49 18 9 1 6-2 20-23 16-8 24-3 15 8 18 1 3-1 1-3-3-9 2-3 6-1 15 3 15-1 15 2 51-2 16 5 15 15 17 6 12 1 27-4 33 6 9-1 4-2 5-6 6-12 2-9-3-12 0-9-5-12-6-8-1-10 7-8 15-7 16 3 7 9 7 4 24-1 12 4 5-1 5-3 1-3-2-1-2-5 5-3 3 1 2 2-4 6 11 4 2-4-1-6 4-3 4 0 14 3 7 10 6 4 21 1 15 7 42 0 12-3 8-4 1-3-7-6 0-6 7-6 16-6 3-9 4-6 14-12 0-3-4-6 3-9 0-6-3-6-7-6 0-3 2-3 14-9 0-6-4-6-19-9-7-3-12-1-45 7-24 0-18-7-15-11-18-6-8-6-9-12-6-9-7-18-26-21-4-12-12-9-4-6-2-9-6-1-9 4-24 7-15 6-37 29-6 9-14 4-9 7-16 4-5 8-18 4-6 6-8 3 1 3 13 3 5 3 0 9-5 5-27 4-24-7-15-7-13-1-4 3 4 3-1 3-4 2-6-3-6 0-6 3-15 13-12 3-3 3-4 6-11 5-6 7-21 2-18 7-3 3 7 9-6 9-1 6 10 9 2 9 7 12-1 3-9 5-7 7-7 18-8 9-5 9-15 9-9 0-8-6-6-15-16-22-9-8-13-18 0-3 13-13 13-8-1-6 3-12 7-6 18-9 11-13 21-14 6-10 18-20 30-9 21 4 9 3 15-3 15 1 3-2 3-9 14-18-4-9-5-6 0-12-1-6-3-3-19-10-6-1-9 2-4-3 0-9 9-6 5-12-3-6-6-6-4-12-2-3-7-3-15 0-30-7zM3166 1236l2 9 10 9 3 0 9-4 12-3 4-2-1-3-3-1-9 1-9 5-3 0-4-2-3-3 0-6-2-1zM3220 1317l-2 0-1 3 3 3 12-3 4-3-1-2zM3241 1296l-2 0-1 3 3 2 4-2-1-3zM3292 1317l-24 6-3 3 1 6 5 5 15 6 15 4 11 6 10 3 6 0 9-12 0-3-3-3-15-6-21-13zM3436 1140l-1 0 0 3 7 3 3-3-2-3zM3445 1385l-3 2-3 5 1 6-2 9 0 3 7 1 8-4-1-6 1-3 19-6 2-3-3-3-5-1-12 2zM549 564l-3 6 18 5 3-5-4-3-8-5-3-1zM2122 1437l-15 7-20 2-1 3 6 8 6 3 9 1 21 1 9-4 2-6-2-9-6-5zM2299 1443l-6 5-6 16 6 2 9-1 9-2 1-5-2-12-5-3zM2350 1443l-2 3 1 3 2 0 2 0 0-5zM2731 1392l-8 3-2 15 7 6 9 1 9-10 1-6-7-9zM3337 1371l-1 3 6 6-5 2-12 0-7 4 0 6 1 3 7 3 5 5 3 1 6-3 5-6 4-15-5-9zM3460 1413l-7 6 4 0 9-6zM2401 0l359 0-5 7-10 5 1 3 6 2 7 7-1 15 10 9-1 3-9 3-18 1-6-3-6-7-9-2-18 3-10-1-12-3-15-9-11-3-42 5-21-1-33-11-48 6-21-7-9-12-3-1-15 1-15-4-9 6-6 1-15-6-12-3-3-1zM2749 39l-9 3 3 1 7-1 3-3zM2996 0l301 0 8 6 2 3-3 1-18 3-12-4-5 3-4 10-17 8-37 7-18-1-5 3-2 6 2 27-2 15-2 3-5 3-10 2-9-2-15-15-5-9 0-3 2-2 15-4 8-6 1-6-7-12 6-9-17-1-18 11-13 23-1 3 6 6-5 6-2 3-1 6-5 5-12 4-9 6-12 3 0 3 9 2 5 4 0 3-5 2-12-1-15 7-21 13-16 6-5 1-5-1-2-3 0-6-2-4-3-1-6 3-1 2 3 6-5 4-6-1-6-3-6-1-30 7-21-5-6-10-12-6 15-7 9-8 2-3 1-6 3-2 15-3 15-2 18 5 6 1 12-7 15 0 18-6 18-12 22-4 11-6-5-9-7-9-3-12-6-6-9-4-6 0-9 3-12 8-6 1-6-1-11-7-3-9-8-9zM3007 106l0 4 5 1 2-3-4-2zM2798 84l5 1 4 2 4 6 12 12 10 8 9 3 9 5 18 2 8 3 1 6-6 9-6 3-12 0-12 7-33 9-18 3-12-3-24 1-16 7-11 9-21 3-21 7-15-2-12 1-7-3-11-9 3-6-4-6 0-3 4-3 6-7 27-12 12-3 21 0 21-13 15-12 25-10zM2569 150l6-1 9 1 5 3 4 6 4 12 0 3-12 6-16 1-9-3-3-4-3-9 2-6 4-4zM2429 174l5-1 6 1 2 3-2 4-6 1-6-2-1-3zM1857 282l7 0 6 6 17 12 5 12 0 6-3 3-17 9-7 6-1 3-6 5-2-8-17-12-5-18 3-12 6-9zM3482 318l5-2 6 1 5 4-1 3-4 2-14-2-1-3zM1845 471l10-1 3 4 0 3-6 11-3 3-3 0-15-3-1-2 5-12zM1405 687l3-2 3 1 2 4-5 0zM1432 708l6-2 6 0 2 2-2 4-6 2-3-1-3-2zM61 900l5-2 3 1 4 4-1 2-6 1-5-3zM359 948l7-2 5 2 1 3-6 8-6 2-9 0-3-4 2-3zM0 957l0-1 9 3 3 2 2 8 15 6 0 3-2 2-9 2-18-1zM11 1089l22-2 20 5 9 9 1 6-3 6-12 4-12 3-24 0-12 3 0-31zM1849 1278l12-2 24 5-3 6-6 2-9-3-15-1-5-4zM1589 1479l8 0 7 12 1 13-8 0-15 0-3-22z"/><path fill="#328dbf" d="M216 3l10-3 188 0 2 6 4 5 9 4 3 3-1 3-8 4-15 5-4 6-5 1-30 0-21 4-3 1-9 9-15 11-18 1-15-5-12 1-9 4 0 3 1 3-3 3-13 2-7 7-12 6 0 3 4 3 9 4 27 4 15-5 12 2 12 9 15 4 3 3 5 18 4 5 6 2 15 1 9-1 15-6 12-9 15-6 20-16 1-6-1-21-5-6-14-9-4-15 3-4 12-2 11-6 4-10 15-6 3 0 9 4 12 0 3 2 3 7 0 18 12 13 18 7 30 5 39-12 33-18 6-2 27-3 18-1 18-5 21-1 15 1 9-2 3-2 7-10-1-18 201 0 6 11 9 4 15-8 5-7 214 0 2 9-2 6-6 6-16 12-8 10-12 8-6 6-15 10-18 8-17 12-9 9-10 7-36 36-18 8-21 3-18 1 0 5 6 15 29 36 12 33 13 21 3 12 7 12 3 12 8 7 12 5 6 0 9-4 11-11 2-6 0-12-4-15 1-15-7-18-12-13-6-9-1-5 2-3 20-8 5-7 4-3 24-4 11-11 19-12 12 2 6 4-1 12 1 4 3 2 18-6 6 0 2 3-2 12-6 4-9 1-19 7-8 6-3 6 0 3 6 3 6-1 16-14 0-6 2-1 6 4-1 18 8 21 4 57 10 30 24 33 6 12 10 12 23 16 15 14 9 4 9 1 12-2 2-6-2-6-9-12-15-12-1-3 8-3 3-3-7-12-28-30-8-11-6-3-9 2-3-2-11-16 0-6 2-10 3-3 12 0 3-3 4-14-1-15-3-9-3-4-6-2-4-9 0-24 9-30 15-24 8-9 1-6 0-3-5-4-18 1-9-1-4-2-3-6 2-3 6-3 3-9 6-6 14-8 13-10 5-9 9-7 10-14-10-2-3-4 0-6 4-12 2-4 3-1 4 2 3 12 5 5 39 2 9-2 15-14 10-12 1-3-1-6 113 0-9 15 8 18 14 15 9 6 15 20 8 7 10 6 9 12 18 19 36 26 6 12 2 9 6 12 12 12 8 12 1 6 5 12 3 15 6 9 0 12 6 12 0 12 5 9 4 21 4 9 1 15 6 5 11 16 13 9 9 24 9 6 3 6-6 9 3 9 1 9 0 3-5 9 1 6-12 9-5 15 1 6 12 21 3 9 8 9 1 3-6 3-3 3 13 6 9 8 16 1 2 6 6-1 5-8 6-3 13 0 9 1 14 11 3 9 5 6 2 9-2 12 0 6 2 2 15-8 9-1 5 4 1 9 13 9 32 7 18 11 6 1 24-3 15 1 3-2 0-6-2-3-19-12 5-6 8-6 2-3-9-6-12 1-6-2-12-8-4-6-1-21 53-12 5-6 7-2 4-4 1-3-5-9 0-3 5-6-1-3-4-3-17-9-25-7-6-5-8-15-13-6-1-3 6-15-2-9 4-9 2-1 6-1 15 3 3 2 3 9 9 4 9-1 15-5 6 0 3 2 3 7 9 8 12-1 7 4 1 3-2 3-8 3 0 3 2 3 6 1 6-2 12 0 18-9 12-2 12 0 8-3 13-18-13-9 0-3 7-4 3 0 6 9 2 1 10 2 12-3 12-7 12 2 18-2 6 2 9 6 6 1 42-7 6-5 9-16 9-11 16-10 7-9 22 2 15-1 12-3 15-8 12-5 24-3 11-6 7-9 31-24 35-5 24 2 21-2 36 0 30 4 21 7 16 9 8 10 2 5-1 9 5 9 0 6-1 3-9 9-1 6 5 5 15 5 5-1 5-3 14 0 24-28 28-14 6-6 2-6 6-3 12-1 9 7 6 1 10-4 2-3-5-9 11-6 7-9 17-15 10-15 19-12 25-22 27-8 36-6 36-21 6-2 24-1 15-3 33 2 18-1 15-7 24-6 42-19 75-19 5-4 19-22 24-12 14-11 8-9 14-7 21-17 12-5 27-24 32-22 4-9 186 0 0 257-36-4-8-4-13-18-9-21 2-3 11-6 1-6-1-9-28-32-12-10-11-6-3-3-4-15 3-5 8-7 2-6 0-3-6-9 0-3 4-9 0-3-5-3 0-3 5-3 9-12 0-3-6-6-5-2-3 0-9 9-18 3-18 8-2 3 2 6-6 12-1 9-4 12-1 3-20 18 1 12-2 2-40 22-2 6 1 15-7 9-2 9-13 9-9 12-1 6-3 3-26 7-24 10-21 6-24 4-18 14-33 13-9 6-15 3-24 10-18 4-17 10-4 3-7 12-3 15 0 9-10 18-1 10-4 5-11 9-4 6 1 3 8 9-1 9 14 18 3 15-1 6 2 9-2 6 4 5 9 5 18-3 24 4 18-2 4 3 11 2 12 5 15-7 18 3 18 0 15-1 18 6 15-2 9 2 3 1 6 7 12 6 6 1 12-4 33-1 17-12 1-3-2-9 3-3 11-5 9 0 12 1 8 7 4 1 9-1 15-6 6 3 18 12 3 3 1 9 12 9 1 3-4 9 3 3 14-1 18-8 15 0 30-8 24-1 0 159-51-2-81 20-9 13-12 9-15 7-13 13-8 18 8 9-1 3-13 4-18 0-6 2-11 12-6 9 2 12-2 6-2 3-8 4-24-1-21 4-24-1-15-5-6-3-2-4 1-12 4-9-1-3-4-6-8-6-11-12-24-10-12-1-12-5-18-2-15-4-15 1-12-2-18 8-9-1-6 6-7 13-8 6-7 3-23 2-15 4-21-5-12 1-22 10 0 3 5 6-7 6-6 2-21-1-6 1-2 1 10 6 19 0 4 3-1 6-9 6-4 9-8 4-2 2-1 15 3 7 6 4 9 2 9-2 6 2 1 2-2 3-13 12 0 3 7 9 2 6-1 5-6 7 0 3 15 24 4 18 14 9 2 3 1 15-3 9 3 9 0 12-12 10-17 8-2 3 3 12-5 4-27-2-5-2-1-3 0-12 3-4 6-2 4-3-1-6-2-3-19-7-6 0-9 3-12-3-3-3-2-5 0-3 5-6 10-6 1-3-2-3-12-6-5-15 4-6 8-6 3-6 0-6-4-6-6-2-12 0-24-12-42-1-15 2-45-3-16-8-17-5-9-10-2-9-8-12-5-14-12-10-8-18-10-9-2-6 2-12-3-6-3-3-9-4-7-8-5-3-21-5-6 1-22 13-11 23-17 7-6 9-15 12-16 5-30 3-4 1-3 3 1 6 0 3-12 3-3-3 4-6-1 0-27-1-8 4-10 1-9-1-5-3-3-15-10-21-1-9-10-9-1-12-7-6 0-9-5-12-6-12-12-12 1-3 6-6-5-12 5-18-3-21 9-9 2-6-1-6-8-6-2-3 6-6 1-6-2-2-9-5-3 0-7 7-2 12-12-2-6 2-3 10-21-8-6 1-25 9-12 12 0 3 5 9-1 3-9 6-2 3 0 9-2 6 5 6 4 12 6 6 1 6-3 9-32 24-1 6-6 12-19 18-4 9-7 4-18 2-6 3-5 9-11 12-2 6 0 12 5 12-7 18-1 9-7 6-4 6 0 6 2 6-1 3-12 15-5 9-2 9-10 15-15 12-6 9-9 3-4 3 2 9-4 12-7 9 3 9 0 3-3 3 4 2 9-2 3 2 11 16 6 6-4 6 2 3 12 13 9 3 12-1 9 1 8 5 2 3-4 6 1 3 20 12 24 2 18 6 18 9 15 5 6-1 11-6 10-12 18-13 15 0 36 7 15-3 12-6 21-6 39-2 24 2 27 17 9 3 24 2 27-3 36 6 15 1 6-4 2-4 7-24 6-12 3-9 3-5 6-3 9 1 54-6 39 8 15 0 24-4 12 0 9 3 10 9 17 5 3 3 3 7 3 2 21 7 21-7 7-5 1-3-9-6 1-3 6-8 3-1 18 4 6-1 6-3 12-12 4 0-3 6 0 3 11 9 18-1 12-5 21-1 21 4 2 0 1 21 5 18-1 9 1 6 10 13 13 11 6 3 8 1 18-9 6-7 3-2 18-3 6 2-2 6 1 3 7 6-1 9-8 15 4 9-1 6-7 9-5 9-14 9-2 12-7 12 3 6 5 5 13 1 8 12 6 3 9 0 15-5 27 3 2 2-10 9 3 9 10 9 1 9-1 9 5 3 32 8 9 4 3 3 0 12 5 9-1 18 5 10 9 8 15 8 9 2 12-2 4 1 15 36 20 13 9-2 12-8 23 0 3 3 3 9 8 9 4 9 7 3 6 0 9-8 18-5 6 1 6 6 6 2 6 0 15-6 18 4 12 0 5 3 1 3-6 9 0 9-5 6 1 3 4 2 22-5 7-9 5-3 26-9-6-6 0-12 6-4 12-3 21 7 7 12 14 2 0 35-345 0-1-4-8-3-3-4-5-11-19-9-9-2-15 2-6 9-15 7-9 1-24-3-31-17-11-12-6-4-15-6-17-17-25-11-19-7-14-9-6-9-3-2-18-3-15 3-27 11-18 0-11 9-8 3-23 2-12 4-24-2-30 6-17 11-7 12-9 9-9 6-12 2-21-2-23-9-40-22-18-3-15-1-30-7-27-4-24 0-15 5-3-1-3-4-3-1-9 3-21 15-15 3-15-3-12 0-9-4-9-1-9-4-15 0-6 4-24-3-9-3-12 0-15-1-12 2-23-15-7-2-30 7-18 1-1 3 1 3 7 6-1 4-3 3-18 2-5-3-1-9 4-6 7-6 0-6-5-5-12-5-24 1-15 6-27-1-12 6-21-10-15 2-18-2-3 1-6 5-6-1-18-8-11-10 6-9 0-6-1-2-15-1-27-10-18-12-15-4-9-6-14-4-1-3 3-6-1-3-6-15 2-9-7-12-10-12-2-6 0-9-3-4-9-4-15-20-9 0 0-11-2-3-15-9-22-17-3-4 3-6-1-3-2-1-21 0-9 9-10 1-4-3 0-6-13 3-7-3-7-18-14-9-14-16-30 0-5-11-7-4-15 1-15-3-33 4-18-4-15 0-57-35-15-1-26-9-6-3-7-7-6-3-12 0-9 4-2 3 1 9-4 6-10 8-6 0-6-2-3-6 1-12-4-6-5-18 0-12 4-6 7-4 23-5 6-3 9-15-8-15-12-9-6-8-29-16-6-6 2-6 6-4 12-2 3-3 1-18-7-11-6-3-12 3-16 14-1 3-1 19-3 5-19 1-7 2-1 12 6 9-2 9 3 15 0 15-5 9-11 15-13 12-9 21-12 9-3 9-10 12-7 24 2 18-2 9-25 13-33 8-3 4-1 5 7 16 5 5 37 19 4 5 0 9 1 6 8 12 5 2 9 0 13-11 28-9 7-5 1-4-5-15-9-15 0-9 3-6 4-4 6-3 9-2 31-1 30 3 18 4 51 29 54 15 8 4 16 15 3 6-1 6-14 11-36 5-12 5-9 10-15 28-12 13-15 5-21-3-33 1-39-11-43 5-24-7-21 2-24 9-15 1-36-4-36-8-60-2-18-7-21 0-21-7-15-9-12-3-18 1-18-3-33 1-27 5-27-1-36 4-18-5-12-7-15-1-3-2-9-11-9-6-20-9-13-10-15 2-15-7-12 0-6-2-3-4-1-3 11-6-3-3-13 0-15-5-15 4-9-1-2-1-1-3 2-6-5-1-9 3-6 5-3 0-13-10-14-1-15-11-12-3-3-3 0-6-3-4-3-2-11-3-6-21 3-9 3-15 2-2 6-1 15 3 9-1 9-5 15-10 4-5 0-6-4-5-8-4 0-3 9-9 1-3-2-3-12-6-3-1-9 1-12-1-6 2-5 8-4 4-9 4-6-1-6-4-3-6-3-6-1-9-11-4-5-5 1-3 7-2 5-4 1-6-3-3-9-5-12 2-10-3-4-3-1-3 6-3 1-3-1-1-3-2-12 1-13-7 1-3 18-1 27-9 12 2 9-1 3-3-4-9 1-6 10-6 2-6-2-6-4-4-20-8-34 0-15-2-24-8-9-5-2-3 1-3 7-4 12 4 12-3 0-3-4-3-1-3 2-6 0-9 3-6-1-3-8 1-6-1-7-9-8-4-6-8-18-9-18-1-12-5-27-2-6 3-5 5-10 4-18-7-3-3-1-3-1-12 11-6 16-6 2-3-9-3-6-1-12 4-12 1-4 2 1 9-3 1-4-1-17-10-6-1-9 0-12 4-15 1-15 2-42-3-26-5-11-9-8-9 8-9 0-3-5-3-12-1-5-5 0-3 14-2 9 3 21 3 3-1 6-12-1-12 3-3 10-4 12-3 9-7 13 5 2 3-9 3-2 3 1 15 22 5 9-1 7-4 4-9 1-6 11-9 1-6-3-4-8-5-7-6-15-8-11-10-13-4-17-2-10-6-9 1-15 6-12 0-3-10-3-2-12 0-8-4 1-9 7-6 0-3-3-6-4-3-19 0-2 3-1 6-1 1-18-1-4 6-8 6 3 15 8 6 1 3-2 6 2 9-2 30-3 3-8 3-6 6-17 11-15 4-2 3-1 12-6 9-12 2-12-4-6 0-5 8-1 3 8 12 0 3-14 5 0-74 6-3-1-3-5-1 0-103 9-1 3-3 0-3 17-12 0-3-2-9-15-5-12 1 0-34 27 0 4-4 2-6-3-4-6-1-24 0 0-477 27-5 18-7 33-14 56-29 21-6zM411 339l-3 3 1 6-2 3-7 9 0 3 8 3 34-3 16-6 3-3-1-3-31-12-9-2zM483 207l-11 3-1 3 4 9-10 21 0 3 9 15-1 9 1 3 27 36 24 15 2 6-7 12 14 10 12 4 12 8 19-4 14-5 6-4 15-21-2-12-6-9-4-9-27-28-21-9-9-6-9-4-9-7-4-6-3-18-11-13-12-4zM876 996l-20 15-13 5-4-2-1-12-4-2-27-2-21 5-3 2-3 9-3 2-18-3-9 1-4 3-3 6 1 7 3 1 12-1 7 2-1 6-5 3-2 3 0 6-2 9 1 6 5 6 9 9 12 2 9-1 15-10 6-1 18 3 12 7 6 0 7-3 2-3-3-6 1-3 14-2 8-4 6-12 1-10 9-8 11-15-2-3-12-5-6-10-3-1zM1152 258l-6 5-4 7 0 12-5 12 0 3 15 9 3 2 3 0 5-14-3-15 2-9 0-6-4-4zM1203 1134l-8 6-4 6 6 5 6 1 9-6 5-6-2-5-3-2zM1414 575l-2 1 2 4 6-1 3-3zM1492 510l-11 3-1 3 0 9-5 6-28 6-22 9-6 6 1 6 6 6 3 6 3 1 9-1 4 3 1 3-7 6 0 3 11 8 27 4 4 6-3 9-4 6-18 12 1 9-4 4-33 1-12 5-15 1-12 2-16-2-17-8-25-18-16-3-3-3-1-6-16-12-24-10-6 0-3 2-1 5 2 6-2 9 2 6 11 9 1 6 7 6 4 11 15 6 7 7 1 12 3 9-1 3-5 9 4 9 0 9 9 18 6 4 10 5 5 9 6 6 2 6 4 4 12 7 25 6 12 5 18 5 18-5 6-5 3 0 3 2 2 5-2 6-2 0 11-2 5-7-5-8-9-4-1-3 4-1 24 6 5 7 4 2 8-2 12-12 1-3-7-18 0-6 3-6 7-6 4-21 6-12 8-7 14-8 13-3 3-2-2-16 3-6 5-6 18-10 5-5 1-6-5-12-2-24 7-15-8-15 1-9-2-3-10-3-2-9-13-12-11-6-21-4-9-7zM1588 507l-10 12-1 3 2 9 9 4 6-1 9-4 5-5-2-12-1-3-5-3-9-1zM1633 601l-18 12-9 11 3 6 7 6 1 3-2 6 0 3 13 9 5 2 18-5 6-7 2-5-12-33-8-7zM1717 551l-14 13 3 12 6 6 20 6 8-6 5-9-8-6-8-16-6-1zM1882 626l-7 4-9 15-26 10-12 11 0 3 3 6 6 5 19 7 5 10 9 3 9 5 16 3 2 6 3 2 3-1 3-4 10-18 3-9 11-15 7-24 10-6 1-6-3-4-3-1-18 0-15-3zM1996 612l-2 0 0 3 8 1 2-1 0-3zM2872 812l-4 4 1 3 12 7 9 1 6-5-1-3zM2899 797l-1 1 4 6-1 9 4 0 1-3-2-6 4-6-6-2zM3040 749l-6 4-4 6 4 5 6 0 12-5 0-3-6-5zM2662 1365l-2 6 3 3 5 1 12-2 3-2 1-3-4-3-9-2zM2725 1283l-7 7-1 6 9 9 4 6 4 0 9-12 1-12-3-3-4-1zM3022 1176l-2 3 4 9-4 12 2 6 9 7 3 0 6-4-5-15-2-6 4-6 3-2 9 5 3-1 3-5-2-3-13 0-9-2zM75 439l-29 23 8 3 4 3 0 3-7 6-1 3 4 3 6 1 5-1 0-9 11-3 4-6 10-9 2-9-2-6-6-3zM492 423l-8 3-11 9-3 3-5 12-8 6-2 6 2 9-2 6-17 12-6 2-15 0-18 2-12-5-24-1-18 3-9 0-18 5-30-7-24 5-39 2-33-3-39-15-18 1-12 5-3 3-3 11-6 7 1 3 4 3 0 3-8 7-11 14 3 6 6 6 3 12 0 6 4 6 7 2 16-2 3 3 4 9 4 3 18 9 15 1 6 2 1 9-2 6-5 6 0 3 12 9 0 9 3 2 21 2 15-2 27 3 12-6 6 1 6 4 3-1 3-6-7-6-1-3 2-3 4 0 5 3 1 6 2 1 6 0 18-9 6-1 14 6 6 6 13 1 21 8 15 13 12 7 12-6 3-11 3-1 21 3 15 6 12 2 33 10 15 12 23 13 13 4 30 3 6-1 7-6 5-10 16-20 14-4 7-5 5-9-2-27 6-9 11-6 5-9 0-15-8-12 1-12-1-3-4-6-8-6-3-6-12-12-3-15-5-6-7-6-18-9-1-3 1-15-3-11-11-7-2-3-2-6-6-4-12-2-9 4-6 1-9-6-10-2-11-9zM1438 834l-12 4-15 0-7 2-2 3 2 9 0 3-10 3-1 3 9 6 15-2 12-6 3-4 3-9 11-9-2-3zM1480 881l-3 4 3 2 6 0 1-2-1-4-3-1zM1582 540l-4 3 4 2 3-2zM1837 747l-13 3-4 3-4 9-11 6 0 3 5 6 5 12-5 12 3 9 3 4 6 4 15 6 9 0 3-2 3-6 3-12 5-3 4-9 7-6-7-5-7-13 4-2 9 1 3-2 1-6 5-3-9-7-9 0-12-4zM1876 717l-3 1-1 5 4 4 6 2 4-3 0-3-4-5zM1888 750l-9 6 12 3 6-1 1-2-1-3-6-5zM2728 1383l-12 3-4 3-2 6 1 15 5 8 9 6 6 1 12-1 11-2 4-3 3-15-5-15-2-3-8-3-6-1zM66 605l-6 11-6 1-6-3-4 1 10 4 4 8 5 3 15 2 6-2 2-3-1-3-7-6 1-12-7-2zM393 781l0 2 3 3 5 0 2-3-7-3zM588 831l-42 7-12 10-9 1-4 3 0 3 11 9 5 6 3 1 24 0 9-4 6-12 12-4 8-11-1-3-3-3zM630 899l-6 6-15 5-5 5 1 3 4 3 15-2 4 2 5 5 6 0 12-5 2-3-11-9-3-9-6-2zM1879 786l-6 3 0 6-8 6 1 3 10 1 9-2 12-2 3-3-9-13zM552 903l-2 3 2 2 6 2 3-4-5-3zM570 924l-5 9 2 6 6 3 9-1 6-2-8-6-4-9-3-1zM1867 857l-7 7-1 6 11 14 9 1 12-4 6-2 3-3-4-15-2-2-12-3-9 0zM1294 0l13 0-2 4-6 4-3 0zM2527 0l97 0 5 5 3 0 10-5 13 0 11 6 2 3-3 3-15 2-15-1-9 5-15-2-18 4-15-2-18-11-30 3-3-4zM2686 0l18 1-3 3-6 1-6-2zM3016 0l33 0-9 5-7 10-8 2-5-2-5-6zM3093 0l34 0-1 9-8 9-8 9-5 0-1-9-10-12-2-3zM3173 0l63 0-6 15-7 7-9 1-9-5-26-9zM2773 114l9-3 9 3 12 1 6 2 9 8 19 4 5 6-1 3-5 4-6 1-15-2-6 1-18 5-15-2-18 4-10-2-3-3 2-15 11-4zM3566 345l5 0 0 46-8 5-1 9-9 1-2-1 0-3 5-12-8-21 0-6 5-15zM3471 420l14 3 3 3 1 6-1 3-7 0-12 5-6 0-9-7-13-4 2-3 5-2zM3556 474l5 0 2 3-1 2-3 1-3-3zM581 528l4-2 9 1 6 3 2 4-2 3-3 0-12-2-4-4zM280 552l8-3 18 3 2 3 2 12 5 4 15 5 2 9-2 3-21 11-9 2-18 0-12-3-5-4-6-15 1-6zM128 765l4-1 2 4-2 2-3 0-2-2zM2980 792l9 1 4 2-3 3-7 3-3 0-2-6zM26 798l1-1 2 1 1 3-3 4-3-1-1-3zM3406 831l7 3 3 9 8 6-3 4-15 1-12 3-2-2-1-12 4-6zM2438 864l2-1 3 1 0 5-3 4-3-2zM3381 864l7 0 18 5 1 4-4 3-12 5-6-2-6-5-2-4 0-3zM3478 867l9 0 12 2 12-1 18-1 30 7 12 1 0 524-15-2-12-4-27-16-2-3-2-9-11-10-12-9-3-14-8-12 0-9-4-3-15-9-18-1-18-6-6 2-6 6-6 4-9 1-2-3 5-9-1-3-8-11-3-1-6 1-6 7-9-1-2 2 3 6-7 6-14 0-7 3-18 3-3-1-6-5-12-3-21-9-10-12-7-6-4-9-7-6-1-3 2-5 2-1-10-6-2-3 10-12 21-3 6-2 6-6 6-1 12 3 1 3-1 7 2 2 4 3 33 1 9-8 10-5 3-3-4-4-13-8 9-6 2-6 5-3 15-1 9-5 21-7 6 1 3 5 10 4 7 21 4 6 1 3-3 9 5 11 3 1 9-2 8-7 15-6 10-9 7-21-2-6-9-9-4-12 1-12 4-6-2-3-16-7-1-8-5-5-6-3-24 0-7-4-7-12-4-2-18-1-15-6-23-3-31-12-7-6-5-7-15-6-6-8-6-11-11-13-13-5-3-4 6-15 11-6 3-3 0-3-10-9 2-5 8-7 13-16 21-11 6-9 6-5 11-1 13 8 15 0 19 4 6 3-3 3 1 3 25 3 6-1 21-17 12-6 3-3 2-6-3-12 0-6 13-18 3-12zM3262 1239l-5 3 0 3 11 3 6-2 3-4 0-3-3-1-6-2zM3397 1206l-2 3 5 4 6 2 3-3-1-3zM3424 1269l-2 3 2 2 6-1 3-1-1-3zM3362 891l8-2 5 2-2 3-9 5-9 2-3-4 3-3zM2205 1005l4-1 15 3 30 2 9 5 3 3 0 3-4 6-4 12-4 6-7 9-5 4-9-1-6-3-9-9-2-18-10-15-2-3zM868 1011l5-1 3 1-6 3zM3010 1053l9 0 4 6-1 3-9 6-6 4-7-1 6-6 1-9zM475 1182l8-2 9 1 3 1 10 15-4 15-2 3-4 3-27 9-15-1-18 1-72 7-27 7-15 8-6 1-8-5-5-9 1-6 6-9 14-9 10-12 12-9 24-4 15 3 12 5 27 2 12-3 21 0zM3352 1305l6-2 3 2 0 4-3 3-6-1-2-3zM950 1311l1-1 6 1 6 9 3 1 18-3 3 1 6 7 3 2 6 0 9-5 6-1 33 0 18 9 6 8 4 11 5 5 12 2 12 6 21-1 21 4 24 10 15 3 29 13 25 4 10 5 3 3 2 18-6 8-6 3-6 1-30 1-32-16-8-6-26-1-18-7-24-14-2-2 1-6-2-3-15-5-6-10-7 3-5 1-24-7-12-5-15-2-6-4-12-14-15-8-6 0-12 4-15-1-12-8-1-4 10-3zM3379 1317l12-2 6 2 1 3-1 1-6 3-9 2-3-3-2-3zM3393 1332l7-1 3 1 3 3 0 3-6 3-3-1-5-5zM3244 1344l6-1 5 1 19 17 15 10 0 4-9 11-3 5-6 3-6 0-6-2-3-15-8-6-2-3 1-9-4-12zM3390 1362l4-2 6 2 4 9 2 12-1 3-5 3-6 1-9 1-6-3-2-5 1-15zM3379 1395l6-1 3 2 5 8 16 12 2 3-2 3-9 3-15-3-9-3-15 5-5-2-2-12 3-6zM2379 1434l4-2 6 3 3 5 0 5-3 1-10-3-3-3 0-3zM2406 1440l4-2 3 0 2 2-1 3-7 2-3-2zM2233 1452l9-1 9 1 5 3 1 12 5 12-1 9 5 16-174 0-28 0-5-13 1-3 14-6 60-9 18-1 18-11 15-4 18 4 15-1zM2384 1455l5-1 6 6 6 2 15-3 5 2 1 3-6 3-9 1-5 2-1 12-4 9 5 13-4 0-46 0-2-17 12-11 11-6 5-12zM2466 1470l6 0 0 3-2 3-3-2zM1325 1488l7-2 4 2 6 9-2 7-8 0-19 0 1-5 7-5z"/><path fill="#0d75b3" d="M233 3l2-3 24 0-2 6-14 7-6 0-4-1-2-3zM298 0l96 0-9 9 2 6-1 3-14 4-21 6-19 2-14 8-15 0-9-4-2-4 7-9-4-9zM748 0l161 0 13 9 1 3-5 9-9 4-3 5 4 6-2 6 0 3 7 11 3 1 21-3 7-6 3-6 14-6 23-24 2-3-3-9 188 0-1 9-2 3-13 9-11 21-9 5-12 10-38 21-11 12-14 9-13 15-13 9-10 11-21 9-15 1-10-6-11-16-6-3-6-1-9 3-3 5-2 6 2 4 6 5 4 6 10 9 12 18 27 30 9 18 8 33 18 30 0 12 7 9 10 8 9 10 6 4 7 2-4 9 0 3 7 6 2 12 3 3 12 4 9-1 3-3 2-3-2-9 0-10-15-3-11-11 4-6 10-6 12-17 6-3 3 1 5 10-2 6 4 3 8 3 7 6 15 9 6 6 1 9 4 5 9 2 6 0 3-2 4-5-7-18-7-12-2-12 0-18-2-12 0-12-4-21-3-6-3-2-6 2-12-1-12 14-6 3-12-3-5-7-1-9-4-9 1-6 6-5 18 1 18 13 12 3 3 3 21-3 6 3 3 6 2 18 3 12 1 21 5 15 1 12 2 6 26 33 5 12 9 12 7 6 20 14 15 14 15 5 27 2 7-2 1-3-18-27-1-9 3-9-3-6-34-33-14-21-17-21 7-10 5-17-1-21 5-24-4-12-2-2-9 0-3-4 3-22 10-20 18-24 29-25 27-4 37-13 1-9-1-3-12-6-2-3 5-9-3-3 2-3 1 0 5 5 7 1 6-3 3-3 2-6-2-6 0-15 9-6 2-9 7-9 1-6 37 0 0 6-5 6-1 3 1 2 15 6 9 2 1 2 0 9 1 3 9 3 4 7 12 4 3 4 0 3-4 3 0 3 7 1 4-4 5-1 6 1 6 3 3 9 9 12 18 11 9 13 24 18 16 15 5 12 10 12 7 12 13 14 9 13 2 6 0 9 5 6 5 15-1 24-2 3-6 3-21 4-2 2 5 5 15 7 12 4 3 2-3 9 9 8 3 7-2 9 5 15 9 8 2 10 10 2 3 2 2 8-1 9 12 6 10 12 5 21-3 6-7 6-5 6-1 6 2 9-3 3-8 4-10 2 7 8 5 10 5 6 0 3-11 6-4 6 11 12-15 2-12-4-9-1-12 3 1 9 9 9 1 6 2 3-1 3-22 3-4 3-4 9-2 3-10 3-15 8-2-2 8-16 9-6 1-2-3-15 8-9 6-9 3-3 0-6 4-3 8-2 12-2 2-2 1-3-3-4-9-3-15 0-6-2-12 0-6-1-8-5-1-7-9-1-6-4 0-3 8-12 2-6-6-12 5-9-2-6-12-9-1-3 12-9 1-3-7-11-3-1-12 0-12 4-15-2-4 7-8 6-2 3 8 9 4 24-1 5-14 16 3 6 13 9 4 10 18 8-3 9 2 9 0 3-5 3-3 0-12-8-15-3-22-16-11-10-6 1-9 6-15 4-3 2-2 9-9 12-19 12-12 3-12 12-15 6-3 3-3 12 3 12-11 12-2 6 4 4 13-1 7 12 7 2 12 0 4 4 0 3-3 3-15 6-8 12-7 6-7 4-10-1-6-3-3-8-3-2-18-11-14-6-10-11-9-5-3-11-8-12-16-11-6-2-6 0-13 7-8 12-10 9-9 15 1 21 6 15 6 4 12 11 9 15 15 9-2 15 5 12-1 6 2 9 0 9 2 8 26 16 1 6 4 12 17 6 18 15 6-2 6-3 13 0 6 5 8 12 0 21 2 6-24 24-6 15 2 3 11 6-1 3-14 6-1 3 9 12 0 3-5 3 0 3 6 3 1 3-13 10-6 2-27-6-5-3-7-9-1-3 5-6 0-3-7-5-3-8-12-3-6 1-3 6 0 8 5 16-4 21 0 9 3 9-5 12 4 9 3 1 3-1 4-6 2-1 9-1 9-7 6 0 9 3 21 20 5 10 0 6-9 9-7 12-14 12-5 9-19 15-1 6-12 18-5 27-3 9 3 12-8 11-21 11-15-1-6-4-7-17-3-3-11-7-12-2-15 6-18 21-1 3 3 6 13 14 6 3 24 5 6 2 15 20 10 7 12 12 13 6 1 9 5 15 0 9 4 12-1 12 4 9-12 15-6 5-15 4-24-2-18-5-18-1-27-5-18 0-48-8-18-1-39-15-15-3-18-1-15-4-30-5-21 0-18 8-15-1-30 3-18-4-3-1-21-17-9-2-29-14-7-6-12-16-9-8-24 0-9-6-21-3-18-9-9-6-15-1-9-5-12 0-21 5-18-2-6-3-6-5-7-13-9-6-1-3 2-4 6-2 6-6 24-10 33-17 3-3 1-6-10-9 1-3 3-6-6-6 0-3 8-8 10-1 2-3-6-6 12-4 6 0 12 4 15-8 3 0 17 8 4 6 6 3 12 21 21 15 9 3 12 1 12 3 18-2 32-2 6-3 10-13 9-5 6-2 18 1 12-4 12-1 4-3-1-6-3-2-14-4-4-3-1-6 10-15 12-6 3-9 6-11 1-4-5-9-1-9 3-9-4-3-27-8-12-9-12-1-12-8-12 0-7-4-5-6 2-3 16-12 9-12 1-3-6-6-2-6-3-3-14-3-2-3 2-12-3-6-21-10-21 0-3-8-3-1-8 1-3 3 4 6-2 2-15 0-9 8-15 2-1 6-13 9-1 3 7 9 1 3-2 2-6 2-18 1-2 1-1 3 8 6-17 7-6-1-1-3 3-6-2-9 4-6-1-1-21-4-4-4-3-6-5-3-18-3-7-12 2-6-1-3-12-12 0-3 6-9 3-13 3-1 12 9 18 5 15-3 5-3 1-3 12 2 9-2 19-15 1-3-5-9-19-6-26-13-1-2 0-6-4-3-13-2-3-4-3-1-6 1-1 3 3 3 1 3-8 6-4 12-12 9-9 5-3 4-6 2-12-1-15 4-8-2 1-6 7-7 6 0 12 2 3-1 2-3-2-3-6-3-24 0-3 0-2-3 1-6 3-6-3-6 2-3 5-3 1-6 2-3 9 0 4-3 1-3-2-4-10-8-1-3 7-6-1-3-6-6 0-3 41-32 15-7 6-6 15-8 3-4 0-6-6-9-4-18 7-12 3-12 5-9 1-9 0-3-4-9 1-15-4-9-2-9-19-15-6-9-2-9-6-9-19-12-5-6-5-21-9-15 0-12-4-15-9-9-15-8-1-4 0-6 2-3 11-6 6-6 21-15 5-12 8-12 0-18-6-15-16-16-4-11-10-9-10-6-24-22-12-7-21-28-27-17-6-10-9-7-24-7-9 1-12 5-45 3-9 1-6-1-2-1-1-3 12-11 6-10 6-6 15-5 12-9 15-2 3-5 9-9 1-6 0-9 4-12 8-9 1-3-8-9-10-6 3-3 13-2 6 2 8 6-2 9 12 2 15 10 27 3 12 3 39-12 30 0 12-2 20-7 1-3-1-3 3-3 2 0 8 5 3 0 15-11 12-5 9-1 21 3 21 0 8-6 10-21zM873 92l-2 4 9 0 2-3-3-2zM1116 370l-1 2 4 6 6 2 3-2-2-3zM1263 448l-3 3 0 4 3 2 6 1 5-2 0-3-5-4zM1489 426l-9 2-18 10-10 9-1 6 1 3 7 4 6 2 15 1 4-7 11-6 5-9 2-6-4-9zM1531 165l-3 1-6 8 0 3 2 3 7 5 3 0 3-5-2-12zM1561 311l-14 25-4 12 0 3 3 3 8-3 10-8 9-13 0-3-11-9 1-6zM1573 279l-7 9 4 1 6-4 2-3-1-3zM1618 372l-15 2-10 7 1 1 18 1 15 6 9 0 9-6 11-5 2-3-1-2-9 4-6 1-15-6zM669 1074l-3 4 21 5 3-3-3-3-9-3zM873 114l-5 3 0 3 8 9 3 1 5-1-3-12-4-3zM1627 456l-2 3 8 9 5 0 2-3 5-6-1-3-8-2zM1464 0l16 1-6 4-3 0zM3406 0l54 0-1 6-4 6-3 9-4 3-15 4-12 0-3 3-4 8 4 9-12 13-5 17-6 15-9 9-13 6-3 15-6 9-1 9-5 5-24 16-4 9-15 18 0 3 2 6-10 14-12 8-15 6-7 5-18 3-23 12-42 12-18 9-9 7-15 5-21 10-37 14-17 9-12 15-1 3-4 27-6 6-13 24-13 9 2 18 7 9 3 18 3 9 9 15-2 6-13 3-2 3 1 6-4 5 0 4 3 6 5 3 2 9 2 4 11 8 4 1 36 1 6-3 6-8 12-8 15 4 24 1 9 2 27-5 4 0 4 3-1 6 2 3 9 1 9-5 21 0 12 4 12 1 12 4 6 4 2 6 7 3 7 0 8-5 6-1 18 1 15 3 18-9 33-20 9-3 21-2 22 15-3 12 2 12 3 4 9 3 9 1 21-5 24-9 9 3 9-3 18 2 9 7 15 1 0 123-51-3-15 5-42 10-30 5-23 24-19 12-29 36-13 6-18 10-21 28-9 3-27 5-18-1-6-3-2-3 4-15 0-6-14-15-3-6-7-6-11-11-27-11-36-2-18-4-15-2-9-4-9 0-12 5-15 0-15 3-12-3-12 3-12 0-25 20-6 9-14 0-15 4-15 0-15 3-17 5-2 3 4 6-21 4-13-1-9-3-3-3 2-3-2-3-14-10-18-7-9 0-5 2 1 9-5 6-1 12 4 4 12 3 3 3 2 8 6 6 0 3-2 3-12 9 0 12 2 3 10 6 4 9 5 3 18-2 12 0 9 2 5 3 1 3 6 5 4 7 7 6-5 3-12 1-12 4-10 7-5 2-6 0-9-5-15-3-3 1-9 8-9 4-33 1-12-2-12-5-15 2-21-3-17-9-2-3-5-15-5-9-2-15-15-15-2-13-12-23-2-9-4-6-11-12-10-7-17-5-22-11-6 2-11 6-6 9-6 6-31 18-5 12-10 12-18 6-9 7-15 2-13 6-23 6-9-2-18-7-6-9-9-10-5-14 1-9-2-9-3-4-8-5 5-11 0-4-3-6 0-3 5-6-1-3-10-3-3-3-4-6-8-18 5-21 8-9 5-9 0-3-6-9 3-4 9-5 2-3-3-6 5-9-1-2-6 1-6-2-2-3 6-6 2-6 3-3 12 0 4-3-1-3-5-3-10-1-3-2-2-3 6-12 1-6-2-6-5-3-1-6-5-3-19-3-12 0-13 9-8 20-15 10-7 6 1 3 6 6 4 6 0 3-4 6-1 6-5 2-9-2-24 2-24-7-12 2-6 6 0 4 4 5 0 3-28 12-7 9-1 3 5 9-2 6 2 6 3 3 12 0 0 3-2 3-22 8-3 2-5 8-4 3-6 2-12-1-3 2-2 6 0 9-4 6-1 3 1 3 9 6 9 11 12 7-18 13-15 0-6 1-9 12-12 3-5 4 0 3 5 6 4 21-10 15 2 9-2 9 4 6-2 6 1 9-5 12-7 6-9 12 1 3 9 6 2 3-2 3-12 9-10 12-2 6 1 9-14 8-18 4-12 7-63 3-6-4-1-3 1-3 6-2 12-2 2-2 7-15-9-9-1-6-11-1-24 5-25 11-2 3 12 3 4 3-1 3-8 6-13 6-2 3 5 6 11 6 3 6 24 9 7 0 9-6 12-2 25 8 1 3-2 9 9 9 0 3-11 12-7 18 6 15 30 9 12-6 2 0-1 6 2 3 11 6 10 11 30 7 33 16 18 2 15 0 20 3 16 14 15 5 9 0 12-6 11-7 10-11 12-7 15 3 12 5 9 0 18-3 36-13 27-4 12 0 21 4 15 5 9 7 15 3 21 2 33-1 24 3 21 6 24 1 6-9 3-6-5-15 2-9 9-12 9-5 36-6 15 4 45 5 21-1 15-4 15 3 18 10 9 10 8 2 5 12 23 7 18-2 18 2 18-6 18 1 12-6 11 7 4 1 12-3 15-7 4 0 9 9 12 6 5 12 12 22 1 8-4 9 0 9 0 3 6 6 2 9 5 9 2 9-3 12 6 7 10 8 1 12 4 9 9 6 15 4 12 9 21 2 12 3 7 6 0 6 11 9 6 9 9 4 15 2 10 3 3 3 1 3 15 12 1 3-1 9 1 3 9 10 6 11 8 9 3 9 7 13 3 3 12 3 7 8 17 12 11 12 4 10 12 2 3 2 2 4 10 6 15 4 15-1 6 2 2 1 6 16-17 0-58 0-14-25 0-3 7-9-4-5-3-2-9 1-8 6-4 1-9-2-12 0-18-5-24 2-12 4-10 9-11 4-8-1-10-8-18-3-9-5-20-20-22-13-15-6-42-29-9-9-15-8-21-4-6 1-9 5-18-2-5 2-4 5-3 0-6-5-9-2-24-2-5 1-5 6 1 10-15 8-36-8-16-7-9-12 13-12-3-2-6 1-12 4-3 3 2 6-2 2-36 0-15-2-6-2-13-16-8-4-12-2-24 1-4 2 4 9-4 9 4 10 18 9 18 0 12 4 3 4 2 12 8 12 11 7 18 3 6 4 2 7-5 9-9 8-12 2-15-2-12-5-45-33-9-4-6-1-24 3-15-2-24-8-30-4-18-8-30 4-12-4-12 0-15-2-12 5-12-2-18 3-33-3-6-2-12-8-15-3-9-5-15 0-18-7-6 2-6 4-9 4-6-1-6-3-6-4-3 0-24 12-9 1-11-9-3-3 2-1 15-7 12 2 3-1 3-5-3-3-12-6-6-1-9 1-9-5-9 2-4 3-3 9 4 9-3 5-6 3-30 2-3-4-6-3-18 4-9-1-4-3-3-6-5-3-41-12-16-7-24-2-5-3-6-9-5-3-27-12-8-6-12-5-9-10-5-9-6-6 3-9-6-6 3-12-6-12-11-9 5-15 0-3-4-6-9-9-12-1-7-2-5-12-6-6-15-2-9-4-4-3-1-3 1-9-14-9-17-3 0-6-2-3-17-6-12 3-3-1-11-11-4-1-18 5-9 0-24-10-12-10-30-6-30 0-18 6-9 1-12 0-24-5-9-4-39-26-39-12-5-4-10-18-14-9 4-12-3-24-8-15-11-9-10-15 7-18 14-4 12-8 5-6 0-9 5-24-2-18 6-18-1-3-7-6-7-12-1-3 5-6-1-6 3-12 7-4 33 0 5-2-4-12 8-12 0-2-14-4-1-6-6-9-1-3 5-9-4-9 0-6 3-5 8-4 1-3-6-6 0-6 6-1 15 2 21-10 0-12-6-18 1-3 5-3 12-4 9 0 18 7 3 3 8 15 13 9 6 7 3 1 3-2 24-15 12-3 5-6 1-3-3-5-9-4-2-3 5-9-9-12-2-12 0-9-4-9 3-4 12-6 9 0 12 10 9 4 27-2 9-4 6 2 10 9 2 3 0 6 7 6 1 3-8 12 6 8 3 2 18-1 3 3 2 6-1 6 6 9-1 3-9 9 0 3 1 3 8 9-1 6 13 12 0 9 6 9-24 22-5 8 1 6 6 12 5 21 1 9 5 9-9 15 4 12 14 9 4 9 16 7 18 16 6 4 27 4 18-2 15 3 12 0 12 4 10-3 5-3-1-9 3-6-2-3-15-2-6-3 0-11-9-8 13-9 5-6-2-21-1-3-4-3 3-9-3-6-7-9-1-11-9-4-5-6 4-9-4-18 8-9 3-9 7-12 0-3-4-9 9-21 2-12 4-3 21-5 24 0 19-7 10-21 11-9 4-15 13-8 13-13-2-12 1-3 9-9 1-6 2-2 6 1 12 6 12 2 11 5 4 3 0 6 1 3 11 6 8-3 4-6-1-3-5-6-15-10-10-20-6-9 0-6-11-3-12 0-24 3-9 7-6 0-4-1-2-3 1-3 5-6-15-6-12 1-3-2-2-5 2-7 10-8 3-12 4-3 5 0 6 6 4 6 0 12 4 2 6 0 12-5 11 0 2-3-1-3 1-9-1-9 3-3 21-3 6-3 6-12 22-12 8-2 12-1 9-8 6-2 12 3 27 1 9-1 12-4 27-19 9-21 4-6 5-3 21-5 15 3 9-1 6-5 15-5 18-10 24-5 12-4 15-7 12-3 5-9 10-5 12-10 33-7 24-3 9 0 18 2 18 0 16 2 46 21 3 3-1 3-4 21-9 9-3 7-10 8 1 3 12 6 2 3-3 9 4 7 6 5 24 2 15-2 5-3 7-8 9-4 34-9 4-3 2-6 12-3 11-6 2-6-4-6 1-3 10-2 9-9 18-5 17-8 4-6-1-9 7-9 3-9 17-24 26-18 14-12 27-12 18 0 21-6 19-12 21-9 23-1 15-4 33 2 18-2 18-6 30-7 15-9 21-6 24-12 30-4 21-4 6-4 10-12 5-9 5-6 25-13 18-16 12-6 12-10 18-9 18-19 15-10 18-8 31-11-5-6zM3529 609l-9 4-2 2 2 3 6 3 12 2 6-2 5-6-12-6zM2047 1092l-3 3 2 3 7 6 6 1 2-1 0-6-11-7zM2746 1125l-6 4-12 2-13 6-1 3 8 4 6 9 3 0 9-4 7-6 2-6 9-6 1-3-3-3zM2761 1260l-9 3-12 8-23 7-12 15 0 6 5 11 12 11 9 3 12 1 4-2 3-6 7-18 7-6 9-4 3 0 8 4 4 1 7-4-1-3-5-3-16-3-4-3-1-3 11-6 1-3-2-3-8-3zM2803 1298l-1 10 4 9 3 3 3 0 12-7 7-5-1-6-15-5-6 0zM2146 620l-3 1 0 3 3 5 6 2 5-1 2-3-3-3zM2200 687l-3 0-2 3 2 2 3 1 2-3zM2230 600l-2 3 1 3 4 2 6-1 2-4-2-4-3-1zM2779 1335l-1 3 10 1 2-4-2 0-3-1zM2794 1338l-2 3 1 6 16-2 3-4-2-3zM3507 0l64 0 0 165-12 3 0-2 5-4-6-3-23-7-9-3-12-1-12-7 2-3 13-1 4-2-1-3-9-9-2-12-8-9-10-18 0-3 2-3 12-3 5-3 12-15-1-12-1-3-6-6-11-3-3-3 0-3 8-9 3-6zM181 12l20 0-2 3 2 3 8 6-1 6 2 3 6 3 3 0 3-6 6-2 6 2 1 3-1 3-6 3-2 6-3 3-24 9-1 3 14 24-1 9 20 14 15 5 6 1 12-1 21 3 20 5-4 6 2 3 9 4 5 5 3 6 4 15 6 3 21 1 15 12 2 2 1 9 8 9-2 4-10 2 18 18 10 5 15-2 12 1 9 4 12 9 4 7 2 9-1 3-8 9 1 15 20 11 12 4 2 3-2 9 1 3 14 6 16 9 1 3-3 3-11 3-9 6-24-5-8-4-7-7-3-1-30 8-18 9-12 9-1 9-2 3-9 5-4 7-31 9-1 3 7 9-1 12 3 6 5 3-1 3 2 3 4 0 0-3-2-3 31-10 39-4 6-2 9-7 10-4 3-9 2-3 15-5 9-6 27 8 9 6 2 3 0 3-12 12-8 12-9 5-12 4-19 15-3 3 1 12-14 15-1 6-12 8-6 0-9-4-9 5-12 0-12-5-6-1-45 14-30-3-18 0-48 5-30-2-39-20-15-9-18-8-6-10 0-3 2-6-2-3-9-1-24-8-6 3-18 13-18 5-6 6-15 6-4 3-3 6-5 5-9-1 0-385 36-7 60-27 36-20 18-6zM123 53l-8 22 1 6 10 7 15 1 5-5 3-15-2-3-15-11-3-2zM168 399l-6 3-2 6 8 1 7-4 1-3-5-3zM123 356l-2 1 1 9-7 6 2 4 9-1 3-3 4-12-2-3-2-1zM147 414l-1 3 1 2 6 1 2-3-2-5zM1288 90l5-3 9 12-1 3-5 2-12 0-6 2-6 1-6-2 0-6 6-5 12-2zM3548 180l8-3 15 1 0 70-12-1-19-7-5-6-1-15 7-9 4-21zM1110 261l3-2 9 1 3 4-2 3-4 1-5-1-4-3zM554 402l4-2 6 0 4 5 0 3-7 2-5-2-2-3zM5 468l4-1 5 4 2 12-4 3-12 1 0-18zM34 501l5-2 9 2 9 3 4 3 0 3-10 10-10 5-11 2-6-2-9-3-15 4 0-18 27-4zM1681 540l3-1 3 1-1 3-14 6-8-3 11-1zM1596 585l4-2 6 0 5 5-4 9-4 5-6 2-3 0-4-4 1-9zM1761 591l7-2 12 2 6 3 2 3-1 3-10 1-12-2-4-2zM123 621l6 0 2 3-5 2-3-1zM147 630l3-2 8 2-1 3-4 3-9 2-3-2zM320 645l13 0 9 1 5 2 11 9-2 9 9 18-3 12 1 3 11 6 3 6 0 6 4 5 12-1 18 3 27-7-3-6 1-3 17-16 9-3 18 2 9-2 7 7 20 9 3 3-2 3-13 1-12 5-2 3 2 5 9 6 18 4 3 3-3 8-12-2-3 3 0 3 3 3 9 2 6 4 3 4 4 17-1 3-7 6-1 3 2 5 7 7 1 6-3 9-11 16-6 4-15 1-18 6-6 1-15-9-24-10-9-7-12-6-3-5 6-11 31-16-8-6-1-6-5-6-32-15-6-1-9 0-21 10-12-3-9 6-16 6-2-3 5-6 2-9-19-13-4-8 0-15-11-6-2-3 6-9 0-15-4-12 3-15 7-6zM450 776l-1 1 1 3 3 1 3-1-1-3zM179 657l28-2 24 2 3 5 0 5-6 4-6 0-12-6-15-1-11-4zM6 684l6-2 18 4 3 1 4 9 2 1 6 0 15-5 18 7 3 3 0 3-4 6 0 9-2 3-6 3-18 3-3-3-3-9-3-3-12 0-1-3 4-12-3-1-21 0-9 4 0-16zM36 741l9-1 3 4 0 3-6 3-6 2-5-5 1-3zM218 780l7-1 30 10 1 3-2 6 6 6-14 2-8-5-13-3-4-6-6-3-1-3zM271 786l8-1 12 5 12-2 1 1-1 3-3 4-15 5-12 0-3-1-2-5 0-6zM3509 879l8 0 30 4 11 8 13 4 0 495-9 0-9-2-9-5-6-5-14-25-10-10-9-5-5-6-4-9-2-12-8-15-24-18-1-6-5-9 4-9 12-10 12-1 9-4 17-21 3-9 3-24-2-3-12-7-5-5-1-12 4-9-3-18-15-9-5-12-9-9-5-9-3-3-9 2-12-8-33 1-15 2-27-3-16-6-8-5-13-16-14-9-1-9 1-9 3-4 12-3 18-14 1-3-1-3-6-7-4-14 7-5 24-5 12 3 18 9 18-6 18 4 6-3 2-6-1-6 2-4 15-1 9-3 2-10 6-9 2-9 8-12-5-12 3-15 8-7 6 5 9 0 2-4-1-3zM3520 906l-15 2-10 4-5 6 2 6-2 3-6 6 0 3 21 8 6-4 9-2 6-3 15-1 5-4-2-3-3-1-15 4-4-3-1-3 2-2 9 0 6-4-4-9-5-4-3-1zM765 924l12-2 25 11 8 1 21-3 6 1 5 4 2 3-3 12-4 3-9 3-3 3-2 6-13 12-6 2-6 0-9-3-15 9-12 2-15-4 4-6-2-3-11-6-1-3 19-14 1-4-2-9-6-6-1-3 11-1zM602 963l10 0 3 3-2 6-4 3-12-6-3-3zM677 963l4 0 3 6-6 9 2 9-2 6-9 12-12 9-6 1-4-10-11-9-6-3-9 2-3-2-9-6-1-3 1-4 12-1 8-10 13-4 9-1 15 2zM729 978l6 0 12 6-3 1-6 3-7-1-4-3-1-3zM2942 978l5 0 7 6 1 12-5 3-5-3-4-4-9-5 0-3zM1366 1170l12-2 18 0 33 3 15 4 6 3 24 16 21 9 60 18 4 3 10 12-2 6-19 9-23 6-9 4-9 8-10 15-5 6-4 9-17 9-9 3-15 0-15 2-21-1-25-13-8-2-13-1-15 6-9 1-16-4-8-6-4-9 2-6-1-9 2-6 20-21 32-11 13-10 0-3-10-9-13-21-1-6 2-6zM356 1197l4-1 6 0 36 13 19-3 7 3 1 3 3 0 4-3 5-1 21 1 3 3-4 3-26 3-6-2-9 5-9 3-12-1-45 7-9-1-13-5-3-3 10-7 6-8zM1026 1332l12-2 9 2 15 12 0 4-6 3-15-1-15-3-3-3-4-6 1-3zM1128 1380l6-2 15 0 8 2 3 3-3 9-5 3-24 0-6-5 0-4zM1163 1395l7 0 3 0 3 3-3 2-8-2zM1217 1404l7 0 2 3-2 4-6 2-6 1-4-4 2-3zM3561 1482l10 0 0 22-30 0-2 0-5-7-3-6 1-1zM3388 1488l12 4 12 0 8 5 3 7-2 0-37 0-4-10 1-3z"/><path fill="#04649d" d="M319 0l39 0 1 6-4 6-16 4-9-1-7-3-2-3zM759 0l127 0-2 9 2 12-4 12 6 9-5 9 1 3 17 12-4 2-9-4-6 0-4 5-5 2-24 9-18 4-6 5-7 4-1 3 8 9 1 3-4 2-15 1-27-6-20 3-4 3-3 9-6 9 0 5 6 5 4 8 2 2 24 4 25-9 4-3 3-9 18-12 1-9 3-1 6 2 18 23 12 10 9 2 6-2 20-22 7-23 15-7 3-9 0-9 2-3 7-5 27-11 20-5 2-3-1-18 9-9 12-6 10-15 122 0-2 6-9 6-1 3 1 9 3 9-2 6-11 10-12 4-9 8-29 14-14 15-25 21-10 6-7 12-8 6-9 3-6-1-6-5-9-16-3-3-9-2-15-1-7 1-11 6-3 3 0 3 1 9 5 9 24 23 8 10 29 30 10 21 3 21-1 12 18 30-1 12 20 18 1 9 7 9-1 9 2 15 15 12 1 11 9 6 11 10 19 11 33 6 18 9 12 3 6-1 0-4-9-9-2-3 0-9 2-4 6-5 9 0 3 2 12 9 6 7 6 3 12 2 3-1 3-4 1-9-2-6-11-10-9-5-7-12-2-9 1-15 0-3 2-2 9 4 12 13 9 21 4 6 11 8 19 10 20 20 42 9 21-2 9-3 0-3-23-21-7-9 0-4 8-8-2-6-14-15-10-7-21-20-23-36-1-9 3-9 3-2 12 0 3-2 5-11 9-12 1-12 5-9 1-3-9-19-6 1-9 4-3 0-3-2 0-20 11-9 0-3-2-9-12 2-3-2-1-6 24-30 25-19 9-2 25-3 39-10 12-1 17-7 2-3 1-6-11-16-6-5 4-6 11-9 6-2 18 2 3 3 9 15 12 8 12 7 18 3 12 7 15 17 9 23 6 2 15 1 9 2 9 14 1 9 17 8 4 4 2 6 9 12-3 5-15 10 0 3 9 12 8 3 0 9 4 9 1 12-4 3-21 5-21-2-8 3-4 9-2 12-6 9 2 12-4 15-3 6-8 12-6 27-1 18-8 9-27 20-27 18-26 13-15 12-19 7-18-3-16 3-15-1-13-6-20-1-24-6-30-12-18-3-7 1-1 9-3 15-4 8-3 2-12 0-9 5-9 1-9-2-9-5-12-4-6 0-7 4-1 3 8 11 6 3 6 1 43-3 11-3 6-6 3-1 27 6 18-1 15 5 15 0 9 6 6 2 30-2 19-5 12-6 9-2 36 6 6 4 0 9-6 8-9 5-24 7-3 1-4 9-14 7-6 10-10 10 0 13-2 2-10 4-9 2-12-3-15 2-7-2-3-3-1-6 5-6 1-3-4-5-6-2-21-2-18 3-12 4-5 5-9 15-9 9-3 9-11 18-3 9-3 3-14 4-3 3-1 8 2 3 9 6 8 14 13 7 2 3-1 3-11 3 0 3 0 3 9 9-2 6 1 3 28 8 9 4 4 6-1 9 0 4 5 5 0 3-20 12 0 3 3 6 0 6 12 10 9 11-3 3-15 2-4 7 1 6 3 1 12-3 9-7 3 0 5 3 4 8 9 6 7 7 4 6-3 6-1 6-12 9-1 3 11 6 0 3-2 3-9 6-17 6-11 15 1 6 5 9-1 12 8 18 0 6-8 12 0 3 3 9 0 12 6 12 3 9-12 15-22 10-9 8-1 6 2 15-1 6 2 6 0 3-8 12-2 6 2 3 12 3 4 6 0 3 17 5 9 7 3 3-4 9 0 15-3 3-5 2-6-1-4-4-2-6 1-12-9-12 2-9-3-3-6-1-18 6-3 7-3 2-18 7-12 3-15 8-7 13-1 9 1 9 3 9 3 12 2 3 8 5 26 7 16 3 19 15-3 9 2 3 12 1 9 5 2 12 6 6 1 3-1 12 4 12-2 6 6 9-1 5-8 10-4 2-6 1-21-1-15-7-21 1-18-2-21-3-12-8-9-2-33 3-12-1-27-13-30-5-15-5-9-2-5-3-1-9-3-2-15-9-6 0-9 2-30 1-6 1-3 4-6 2-21-1-16-7-4-6 2-6 13-3 4-3-5-11-3-2-6 0-9 9-18 6-6 0-3-3-2-5 4-18-11-12-14 6-1 3 10 12 2 6-1 3-8 3-24-3-6-3-1-3-11-4-4-5 5-9-1-3-9-6-3-9-3-3-6 0-12 9-6 3-21 1-6-3-3-7-17-9-28-2-6-4 3-6-1-6 8-6 16-6 7-7 21-2 21-13 6-2 17 3 6 12 19 5 31-11 8 0 12 2 21-2 18-7 15 7 12 0 27-8 3-4 3-12 12-9 6 2 9 7 1 12 17 5 5-2-21-15-3-9 1-6-1-3-6-3-1-6-3-6 0-9 2-1 12-2 15-14 1-4-9-9 3-3 9-3 3-3-3-9-7-2-9 0-1-1-2-6-9-6 1-3 8-6 1-6-6-18-4-2-6 0-18 3-33-5-13-11-3-6 0-6 10-4 6-5 3 0 10 3 26 5 18-3 6-5 0-9 6-3 18 2 24-10 6-4 4-9 18-12 0-3-2-3-17-5-15 0-1-1 1-3 8-6-1-3-10-6-48-16-15 0-4-2 0-3 1-6-3-3-18 1-6 3-7 5-2 6 1 3 8 6 2 6 6 6 1 3-3 9 12 6 2 3 0 12-13 3-10 6-18-1-4-2-1-3 0-3 15-12 2-3-3-1-18-3-12-8-27-6-14-9-25-8-15-1-24 1-6-3 0-4 8-9 0-3-2-19-3-8 0-3 5-6-1-3-7-5-6-2-18 4-18 3-6-1-4-5 0-3 5-9 2-9 3-3 24-3 1-3-7-8-6-1-12 1-15-3-21 12-18 6-42-5-4-2 1-3 7-6 2-3-6-6 2-6 7-5 14-4 3-3 1-9 3-5 21-3 6-9 17-4 7-4 2-5-3-9-13-12-13-6-2-6 8-12-3-6-1-6 9-21 4-18-4-21-5-12-3-4-12-5-3-3 0-9-13-21 0-3 2-6-1-3-21-2-2-10-6-6-2-9-11-6-3-6 3-15 7-15 3-3 10-6 0-3-5-14-4-4-5-1-9 5-8-1 1-3 7-3 6-8 11-25 11-9-6-12 3-9-5-15-12-18-3-9-1-3-21-15-3-6 0-9-5-6-5-3-19-6-14-6-9-12-2-9-13-14-10-10-14-5-4-4-1-9 4-9-2-1-12 1-21-14 0-4 7-6-3-9 0-3 2-3 7 0-7-4-2-8 5-5 9-2 21 0 18 6 27 0 12-7 30-6 15 1 12 3 3 1 6 7 6 2 11-6 3-6 5-6 17-6 12-6 6-6 3-1 9 1 18 5 21 16 7 0 5-6 6-1 9 1 15-3 2-3-2-3-3-3-9-2-4-7 1-12-5-12 1-15zM789 92l-4 4 3 3 4 1 8-1 5-3 1-3-8-2zM804 32l-9 4-2 3 0 3 1 12 1 2 3 2 6-1 5-3 6-15-5-5zM777 168l-15 6-2 3 5 21-7 12 1 8 6 3 18 4 18-1 12-2 9-2 9-4 3-3 0-3-9-9-15-6-3-3 5-9-2-2-18-6-9-6zM948 239l-15 4-2 3 5 6-3 3-8 3-2 3 10 3 2 3-2 3-12 2-2 4-1 4 9 5 0 4 6-1 3-9 18-6 4-3-2-3-7-6-1-3-1-6 8-9-2-3zM963 292l-7 5-14 6-2 3 8 13 4 2 11 2 15 0 3-2 4-9-4-9 0-6-9-5zM1008 712l-4 5 1 6 18 9 3-1 5-8-1-3-16-8zM1089 1182l-19 9 4 6-1 3-7 6 0 3 2 3 6 0 9-1 11-5 3-3-4-12 2-6-2-3zM1095 1173l1 3 2 2 8-2 3-3-2 0-6-1zM1140 467l-2 1 1 3 4 4 2-1 3-3-1-3zM1519 144l-4 6 1 9-5 15-1 19-3 3-15 5-9 12 6 9 14 9 7 3 6-1 3-2 5-6-1-3-3-6 2-7 6-3 9-2 3 1 6 6 6 0 3-4 8-12 0-3-11-15-2-12-5-12-17-10-6 0zM1173 765l-10 6 0 3 2 15 2 2 6 0 15-4 6 5 6 2 3-2 1-6-3-12-4-3-18-7zM1209 696l-12 5-1 1 1 2 3 1 9-3 4-3 1-3zM1224 727l-3 6-11 5-1 3 3 5 6 1 5-3 4-6 10-6-4-4zM945 1182l-16 3-8 5-9 3-4 4 1 4 18 5 3-1 9-6 15-3 9-5 1-3-7-4zM951 1154l-3 4-1 3 1 4 6 1 4-5 1-6-5-2zM1014 962l-2 1-1 3 3 3 3 0 6-3 0-3zM636 103l-1 5 4 1 3-1 1-3-1-1-3-2zM762 393l-2 12 4 12-2 9 3 9-9 15 0 6 9 22 6 7 6 1 9-7 18-20 2-3 0-3-7-12-2-12-10-6-3-9-5-6-5-11-6-5zM1011 1179l-24 4-3 2 12 14 9 3 12 11 6 1 27-11 2-3-5-6-9-7-18-8zM762 523l-5 8-3 9-7 6-2 6 2 3 9 8 12 2 6 6 6 1 12-4 4-7-3-15-5-9-1-12-7-2-15-1zM774 495l-7 3 1 3 3 2 6 1 2-3-2-4zM3525 0l46 0 0 25-5 2-7 4-3 0-15-8-15-14zM170 36l4-1 4 1-5 6-2 5-3-2-1-6zM3367 42l9-2 6 1 8 7 2 15-5 9-1 6-10 11-12 3-3 3-2 10 2 12-8 12-2 9-14 12-15 9-7 15-10 12-3 12-13 15-24 11-18 1-6 2-42 17-18 10-14 4-11 9-47 15-42 23-9 12-8 7-4 26-9 10-5 12-13 10-12 6-3 5 0 12 6 12-2 9-4 6 12 7 4 8-2 9-7 6 1 9-6 12 1 3 7 9-6 9 2 3 9 7 2 11 4 4 15 6 22-1 7 6 1 9 3 2 12 2 6 8 3 1 6-1 8-6 5-9 11-6 2-6 16-5 6 2 1 6 3 3 14-1 18 3 15-3 18 0 12-7 6-1 18 9 1 3 0 9 5 3 27-2 21-1 21-6 12 1 21 6 6 0 9-5 6 0 15 12 18 11 6-1 30-8 18 1 15-3 15-5 39-1 33 3 0 47-36-6-9 1-24 7-6 5-1 4 4 8 15 5 7 8 5 3 9 0 9-6 12-4 15 0 0 32-27-3-15 0-12-3-11 8-7 2-46 10-26 3-19 15-7 9-16 10-9 11-6 4-15 21-32 20-13 18-15 9-21 3-6-1-3-14-18-30-8-9-4-10-21-17-12-6-3-6-3-2-5 2-7 8-30 4-12-3-15-6-24-1-12 3-12 0-27-4-21 1-24 9-9 16-6 6-6 4-18 3-18 0-21 3-15 7-12 2-21-4-5-3-5-6-14-5-27-3-15-6-6-4-6-1-15 7-3 3 3 8 6 4-1 9 10 12 2 6-2 3-6 1-15-1-12-4-6-1-24 5 8-9 1-6-6-6-12-2-5 2 4 9-1 6-9 9-3 6 23 10 15-1 15 3 24-6 15 3 5 3 4 9 0 3-7 12 0 3 9 15 1 10 10 5 4 6-11 18-6 2-9 0-12 4-14-6-4-3-2-6-7-2-9 2-2 6-7 3-9 1-6-2-1-2 0-3 15-6 0-3-23-7-6-4 5-10 0-3-13-9-1-9-7-9-2-18 6-6-18-7-9-5-4-6-7-12-10-11-3-1-15-2-6-4-4-18 9-24 13-2 9-8 11-2 9-9 7-9 4-21-2-3-11-6-3-3 6-9-1-3-17-3-9 1-3 2-3 9-12 3-1 9-14 4-17 14 2 9-1 3-13 9-6 18 3 9-10 15-3 2-18 8-15-3-9 1-9 4-6 5-5 7 0 3 6 9-6 9 0 6 4 9-5 9-4 3-11 3-12 5-27 8-9 1-15-3-6-5-13-15-1-6 6-18-5-18-5-9 0-3 9-8 2-4 1-6-3-6 0-3 13-15-4-6 1-3 2-4 7-5 1-3-2-4-3-2-18-2-3-1-1-3 4-6 14-9 1-3-6-7-2-11 4-15 7-6 0-9 7-9-2-6-8-10-9-5-3-9-3-3-21-18-21-4-9 0-9-3-15 1-12-7-6 0-9 5-3-4 1-3 11-6 2-3-5-4-6-1-12 2-4 3 1 9-8 15 1 3 19 12 3 3 0 9-6 5-9 2-9-1-10-6-8-9-18 5-18 2-21-5-9 2-18 13-21 7-6 0-3-2-1-4 4-9-6-3-9 0-3-1-4-17 4-2 8 5 7 1 7-1 1-3-6-6-14-1-2-2-4-9-7-6 2-9-6-15 24-21 1-6-8-3-1-3 7-1 7-8 17-6 9 0 17 12-1 6-4 6 8 15-3 6 4 12 4 3 14 4 21-6 3-4 0-12 5-15 0-3-8-9 1-12 5-12 9-4 3-4 5-10 3-18 7-15 9-2 12 5 6 0 12-5 15-1 21-15 6 0 6 5 3 0 5-8 4 0 4 0 14 18 3 1 6 1 18-3 3-1 5-7 11-6 2-3-1-6-6-6-4-6 5-9 0-6 12-9 15-4 15-7 54-2 12 1 9 5 30 7 5 3 2 3-1 6-6 6-15 5-21 13-2 3 2 9-3 3-3 0-9-4-6 0-2 10 2 6 3 2 6 0 9-3 9 3 1 1 0 12-1 6 1 3 6 6 11 6-6 6-1 3 4 3 22 6-1 3-4 3 1 3 4 3 11 4 9-1 5-3 2-3 3-12-1-6 1-3 8-5 18-3 30-16 24-2 15 2 18-5 6 3 6 0 6-4 3-5 15 2 3-3 1-6 2-4 15 2 8-4 3-6 10-7 3-5-4-15-8-9 3-12 4-6-6-15 0-6 15-21 23-12 4-3 7-12 14-9 14-4 18 1 24-7 22-14 20-6 25 0 8-1 9-5 15 1 24-2 36-12 18-2 21-5 41-22 31-3 21-6 14-15 8-15 5-6 22-9 11-10 21-15 19-8 12-9 5-9 8-9 10-6zM3040 656l-2 1 0 3 3 3 14 4 4-1 4-3-2-3-3-2-9-3zM3067 576l-13 3-4 3 5 1 9-2 9 5 4-1 1-3-2-4-3-2zM3217 623l-3 4 3 3 3 1 4-1-1-3-1-3zM3229 633l-2 0 2 3 7 3 3-3-1-2zM2230 540l-3 3 0 4 7-1 6-3-4-3zM2419 434l-3 1-6 6-12 5-5 7 1 3 6 3 16 0 21 1 2-4 2-9-10-9zM2491 423l-2 3 9 12 1 3-2 3-3 2-6-1-9-7-21 6-1 3 8 15-1 3-6 4-14-1-1 3 3 6 0 6 0 6 6 6 6 1 6-3 6-4 1-3-3-6 0-3 22-9 4-3 0-6 3-3 6-2 3-3 1-4-1-9-9-14zM2707 510l-5 6-4 12 6 3 12 0 6 0 4-3 0-6-4-12-6-2zM2953 432l-12 9 0 3 6 4 9 0 6-4 0-3-5-6-1-3zM2968 425l-3 4 1 3 14 5 9 0 3-2 0-3-3-2-18-6zM12 90l6 0 4 3-3 9 2 3 30 6 4 0 9-6 10-3 6-6 4-1 18 3 3 2 4 5 5 2 30-3 12-4 6-1 12 3 12 0 24 5 21 11 14 5 7 7 16-1 2 3-1 6 1 2 12 0 15 5 2 2-1 9 5 11 11 10 1 15 3 5 18 11 9 2 5 6 16 12 4 9 23 4 18 0 11 5 3 6-4 21-2 3-8 6-1 3 3 6-4 12 2 9 0 5-8 4-10 3-12 9-13 6-11 11-15 10-20-9 4-6-7-12 5-9 0-3-8-12 1-12-5-5-15 0-15-3-9 0-7 2-5 8-18 1-7 3-2 3-2 9 4 18 1 3 12 9 9 2 18 1 9 3 12 1 13 5 0 3-4 6-17 12-4 18-17 9-9 9 9 6 5 7 9 5 27 1 15 7 18 5 4 2 3 6-5 9-13 12-10 4-24-3-24-1-24 4-33 1-21-2-9-8-10-7-5-18 0-6 4-6 8-8 12-8 16-14 2-6-9-7-36-6-12-6-6-5-4-6-4-27-4-4-6-1-24 7-16 10-4 15-3 21-4 5-13 7-2 3 0 6-6 8-18 10-18 3-12 10-12 2 0-331 8 1 4 5 7-2 0-6-9-12 0-3zM3528 90l4-2 3 0 2 2-1 3-7 0zM3562 99l9-2 0 38-7-3-2-3 6-6-3-3-9-3 6-9zM3569 216l2-1 0 20-6-1-6-3 0-3 5-9zM1181 267l1-3 3 1 3 5 1 9-2 6-2 2-3-2-2-6zM1185 297l0-1 3 2 3 4 3 8-3 5-3-1zM398 423l4 0 3 3 0 3-2 3-4 1-9-1-2-3zM3393 540l4-1 5 1 3 6-2 3-3 0-6-3-3-3zM2199 582l4 0 3 3-3 5-4 1-11 0-6 0 0-6 3-2zM2084 588l2-2 3 1 9 8 7 11 5 12 2 9 13 9 3 9 9 6 3 6 5 6-11 12 0 9-1 3-18 15-1 9-5 6 0 3 4 4 18 3 15 6 2 2 2 12-4 13-18 1-6 9-15 4-9 11-27 13-4 3 4 4 11 2 0 6 13 11 1 4-1 15-2 6 8 7 1 5-1 3-3 3-12-1-3 1-2 3 5 3 12-2 12 8 6 6-1 3-8 5-7 7-13 9-4 6-5 3-2 3 6 3 2 3-13 13-4-4-1-12-7-10-6-2-9 3-6-1-4-5 4-9-3-4-6-2-9 3-6-1-6-8-9-1-3-2-1-6-4-6-10-6-9-3-4-3-2-9 4-9 2-15-4-9 1-3 12-7 6-2 9 1 4-4-1-3-4-3-26-4-15-14 0-3 5-6 8-15-4-9 5-9 1-12-6-15-8-9-2-6 2-3 7-6 2-6 3-3 29-7 15-1 14-10 7-9 3-9 7-6 4-9 9-6 3-9 19-12 4-6zM2011 869l-3 1-1 3 10 5 5-2-1-6-4-2zM2038 855l-6 2-6 4 1 3 29 3 3 1 3-2 0-2-3-3-9-4zM2083 749l-3 1 2 6-5 10 3 1 12-2 9 2 4-2 0-3-9 0-1 3-7-6-2-9zM1736 657l2-2 3 5 4 9 9 6 3 3-1 9 1 12 19 15 9 15-3 12 1 9-9 7-13 5-4 6 11 18 6 6 3 6 10 9 0 6-2 6 1 9-12 13-11 5-4 9-3 2-9-2-6 0-1 3 4 3 6 1 9-2 2 1-6 9 1 9-9 6 3 3 7 3 9 12 8 18 9 5 3 0 9-4 12-10 2-3 2-12 5-3 6-1 9 1 17 12 37 9 3 3 1 6 11 6-5 6 0 3 6 6 4 15 1 9 3 9-2 9 5 6 21 13 0 5-5 6 2 3 5 3 4 12 6 9-7 18-6 9 3 6 0 9-6 12 2 6 4 3 13 1 6-2 9-6 15-3 21 2 3 1 5 7 1 4-5 8 5 3 9 0 15-4 12 0 27 3 33 1 18 6 31 18 26-6 18 1 6 3 9 14 33 7 15-4 15-1 18-20 3-1 9 0 9 3 36-7 21-8 27-6 24 3 15 0 15 9 18 4 63-1 15 3 27 12 12 10 18 5 18-4 15-6 18-2 12 1 15-4 4 1 5 5 33 8 24-2 9 2 12 5 11 0 7-2 12-8 15 0 12-6 12-1 6 3 6-1 26-18 4 0 2 3 7 5 17 1-7 6 5 6-1 3-14 6 1 9-5 12 1 9 2 12 7 6 5 12 1 12 6 6 6 1 6-2 18-22-3-13 0-9-4-6-2-9-3-6 11-15 1-6 6-3 9-1 18 3 12 7 4 6-3 21 1 3 10 6 1 3 3 12 0 21 8 12 9 21 1 12 2 6 3 3 6 3 18 1 18 7 15 0 6 2 26 26 19 15 7 3 2 3-5 9 2 3 24 3 10 6 11 15 4 12 12 15 8 21-3 9-3 3-15 2-17 7-10 2-12-1-7 5-5 2-27-3-12-5-12-12-18-12-24-12-3-3-6-13-30-19-3-7-11-12-7-13-9-9-18 1-9 2-10 10-14 6-18 0-12 4-15-4-9-18-13-6-3-3 0-3 9-12 10-9 3-6-3-5-5-4-28-10-15-2-8-3-9-6-4-12-3-3-24-13-6-1-15 1-9 4-10 12-25 12-10 7-3 5 0 15 6 12 18 16 30 11 0 6-8 9-4 9-8 3-7-1-8-8-7-9-12-3-21-4-15-8-3-3-1-6-4-3-10 0-5 3-7 18 5 30-2 9 0 11-5 4-25 9-6 0-8-6-32-9-5-3-3-6-10-3-8 0-21 8-24-4-5-4-1-2-3 0-24 4-30 2-33-1-6-2-9-8-12-4-14-10-7-2-15-3-36 1-18-4-4-4 0-3 7-9-1-3-14-10-15-2-3-3 5-9-1-3-7-3-8 0-6 3-7 10-12 5-9-3-1-6-3-3-5-1-6 0-9 7-13 3-10 9-1 3 1 9-1 4-12-3-9-7-12 2-24-5-24 3-24-4-17-8-2-3 4-9 0-16-17-11-2-6-2-1-15-3-9-5-9-10-1-5 3-6-3-6 0-6-13-9-3-12 3-9 0-3-16-22-6-4-12-5-15-1-18-9-3-10-12-5-12-1 0-3 8-6-11-12-9-2-18 6-24-3-17-10-2-9-2-2-6 0-15 1-7-5-2-6-6-1-15-1-9 2-33-4-12 3-33 3-15 5-9 1-21-2-12-4-15-11-7-9-8-6-15-1-19-14-11-4-8-5-14-18-1-15 2-18-23-24-3-12 3-6 11-8 15-19 4-33 3-9 0-9 5-10 19-17 11-15 18-8 5-7-1-3-4-6-1-12-2-9 2-3 10-3 3-3-1-3-5-6 3-2 9-2 14-5 5-6 20-5 15-1 6-4 6-9 6 0 18 5 12-1 18-13 33-20 3-3-3-6 1-3 5-6-10-9-2-6 3-6 5-6zM1858 1014l-7 3-2 6 7 12 0 3-10 8-4 4 1 3 9 7 6 4 4-5-3-21 6-15-2-6-2-3zM1861 1098l-3 3 3 6 3 0 3-3 0-6-3-1zM1231 675l2-2 3 1 5 4-2 1-6 2-3-2 0-1zM1597 681l3 0 3 1 3 5-6 0-3-3zM1301 786l1-2 3 0 9 6 3 2 0 3-3 3-10 0zM467 801l13-1 17 13-2 4-9 2-17-3 3-3-1-3-3 3-6-2-3-4 2-3zM1991 915l3 0 2 3-1 3-1 3-4 2-7-2-2-3 3-3zM3558 942l13-2 0 241-2 1 2 1 0 29-9 2-9-2-4-15-2-9 2-6-2-3-21-7-6-5 1-18-14-24-2-9-12-9-1-24-3-6-2-7-11-5 0-3 5-9 4-6 0-3-6-6 1-3 12-15 3-12 5-9 1-9 4-6 0-3-3-2-15-1-2-3 5-6 12-5 16-10 11-2 12-7zM1324 990l17 0 7 3-1 6-8 12-4 3-6 0-9-2-5-7-2-9 3-3zM3385 996l7 3-1 3-4 6 1 7 12 5 12 1 6 2 18 14 15 16 1 3-10 9-22 6-11 3-9-1-22-8-10-6 1-3-2-3-5-6 0-9 2-3 12-6 6-6 1-3-4-1-9 0-3-6 1-2 8-6 1-6zM3355 1059l6-1 6 1 0 3-4 3-11 0-1-3zM2647 1092l15 0 9 8 3 1 15-4 9 4 5 12-2 2-12 2-12-1-5 3-10 7-9 1-9-2-12 1-10-10-3-6 5-12 5-3zM633 1149l6-1 4 1-1 3-6 3-4-3zM1376 1173l20 1 39 6 38 26 19 3 32 9 19 6 3 3 0 6-4 6-5 5-27 13-9 9-9 14-13 10-4 6-25 4-15-1-21 3-7-3-14-8-28-3-24 4-6-2-5-6-1-18 1-3 17-18 31-8 15 0 17-4 6-6-2-6 2-3 6-3 2-3-2-3-2-1-18 4-13-3-8-4-6-6-9-14 2-7zM3531 1248l4-1 1 1 0 6 3 6 14 7 7-1 2-3-9-6 6-1 12-7 0 131-12 0-7-3-6-6-11-21-26-24-2-18-8-9-3-11-6-6-3-5-9-8 0-4 3-3 30-5zM2155 1350l3-2 3 1 2 1 0 3-5 2-3-2zM2674 1404l6-2 6 0 6 6 9 20 3 3 29 9 2 3-1 6-9 7-12 0-9-4-9-6-6-9-21-12-4-6-3-9 3-3z"/><path fill="#03517e" d="M823 0l32 0-2 3 1 3 4 6-3 4-6 4-9-2-12-9zM845 36l4-2 3 1 7 7-2 15-5 3-12 2-4-2-3-3 6-15zM3356 54l11-2 5 2 2 3-2 6-11 12-4 3-5 0-4-12 1-6zM1036 57l8-1 9 7 0 3-6 12-7 6-14 4-3 5-10 6-2 6-6 3-4 0 4-12 18-9-1-6-5-6 5-9 0-6zM954 75l6-1 6 0 18 12 3 4-1 3-4 6-13 3-10-3-9-15 0-6zM686 78l10-3 8 3 4 6 15 15-1 3-8 5-9 2-5-1-10-4-6-5-1-3 2-9-1-6zM3318 87l16-2 8 2 4 3 0 9 4 18-13 18-12 10-9 5-7 9-8 15-24 35-21 7-27-2-24 4-15 9-20 19-28 15-9 3-15 1-21 6-6 3-9 11-15 7-15 5-6 9-8 6-2 3-1 21-4 10-11 14-4 3-24 4-10 5-7 9 0 3 5 9-18 3-12-2-6 0-12 9-12 3-3 2-3 6 1 6-16 13-3 2-12 0-29 9-1 3 2 9-10 6-17 6-4 9-5 3-4 6-8 3-3 12 9 9 4 17 6 1 6-3 6-6 21-7 3-5 3-12 6-9 9-8 21-4 4-3 2-6 9-5 6-2 6 0 12 6 33-7 15 1 6 13-5 18 4 6 1 9 7 12 0 3-19 15 7 6 3 9 2 4 15 7 5 7 9 6 1 12 7 15-1 3-13 9-5 12 2 9-3 21 14 27-1 4-15 12-6 3-36 6-10 5-11 13-6 4-11 4-13 2-12 3-3 0-4-8-5-4-18-3-18 1-19-3-6-3-14-13-12-4-12 0-9 5-6 6-3 9-12 15-36 6-9 0-6-3-1-6-8-4-4-5 6-9 2-15 4-6 4-9-3-18 11-12 2-12-10-6-5-6 3-12-6-6-3-9 1-3 7-6 1-3-9-15 1-3 4-2 15 0 3-3 1-4 7-9 3-15 6-6 5-9 8-6 1-3-4-14-11-7-7-2-15-2-21 0-6 2-11 11-9 6-1 3 3 3-1 3-11 6-3 7-11 5 2 6-7 9 0 3 6 6-1 3-7 5-6 7-9 3-5 3-7 12 4 3 13 3 2 3-7 15-21 15-2 6 1 9-20 5-15 7-30-2-4 2 1 3 5 6 0 6-5 6-18 9-2 9-3 6 3 9 0 6-4 6-11 9 0 9-11 12 0 3 7 9 2 9 0 3-11 15-18 7-9 2-15-6-6-9-2-12 7-18-2-6 2-9-2-6 1-6 8-9 5-15 9-9 4-15 6-5 9-2 12-7 20-1-5-9 3-9-3-5-12-3-21 1-18-2-9-5-4-4-1-6 1-6 10-20 9-10 15-9 15-5 15-19 18-17 1-4-3-12 1-6 6-6 10-16 10-8 2-9 9-6 9-10 3-1 3 1 6 7 0 6-5 12 2 9 11 15 0 3-3 3-15 12-1 3 2 5 3 3 18 2 15-8 12-4 6-1 3 4 6 1 2-2-5-6 2-9 10-6-1-3-17-17-2-7-6-9 0-3 5-5 14-7 9-9-1-6 2-3 15-11 15-16 21 3 5 3 4 5 12 7 3 0 6-3 14-12 16-2 14-10 37-17 30-5 27 1 18-7 6-5 0-3-9-3-3-3 6-18-5-9-28-11-3 0-11 5-4 0-3-3 1-3 7-6 1-3-15-8-7-10 1-6 6-6 33-15 4-3 5-9 4-3 68-20 18-10 18-1 12-5 21 2 45-9 21-7 15-8 21-1 18-3 12-5 27-17 57-11 6-4 3-9 15-24 24-12 27-23zM2824 540l-9 2-5 4-2 3 1 6-2 6 4 6-6 6 4 3 9 1 3 2 1 3-4 6 3 4 6 0 2-10 4-2 6-4 9-2 2-4-2-6-3-1-21 7-1-3-11-9 4-3 11-2 5-4 1-6-3-2zM2848 542l-1 1-1 9 2 0 4-6-1-3zM2866 659l-4 4 1 1 3 3 6 0 3-4-1-3-5-2zM2938 570l-2 6 2 3 15 1 5-1 2-3-4-4-12-3zM2755 581l-3 1-2 3 2 3 9 1 3-1 2-3-5-3zM2569 560l-6 7-2 6 14 17 3 1 6-3 2-6 0-3-5-3-1-3 5-6 0-3-7-4zM2878 285l-5 3-1 3 3 3 12 1 9 2 9-2 5-4 0-3-5-3-12 2-9-2zM2953 339l-2 0-1 3 11 12 1 9-1 6 7 3 6-2 5-7-3-12-14-12zM1485 93l5 0 3 3 6 9 1 15 8 9-4 12 3 18-5 15-4 6-19 18-14 7-3 8 3 9 10 12 5 10 6 2 6-4 3 0 17 10 0 3-4 6 3 12-2 9 2 12-1 12-20 27-6 18 2 6 6 5 6 0 9-4 3 0 4 8 0 15-6 6-20 9-5 9-24 18-21 7-7-1 6-6 0-9 6-9 1-3-79 12-9-3-15-12-2-6 16-9 1-3-37-30-8-13-13-8-11-18-12-11-2-7 2-4 3-1 9 4 3 0 3-5 6-5 3-1 9 6 6-9 0-3-7-9 12-33 1-9-8-15 1-21-2-3-8-6-1-3 3-14 14-13-3-6-8-6 3-3 9-3 7-9 5-1 5 1-1 3-12 6 5 5 33-4 6 5 7 1 5-4 7-9 0-3 0-1-11-2-1-3 3-2 6 0 6 3 15-8 21-2 21-9 15-2 12 3zM1468 321l0 5 3 2 11-1 2-3-1-2-6-3-6 0zM1450 342l-10 9 1 3 3 1 6 0 6-4 3-6 0-3-3-2zM1462 387l-7 9 4 1 3-1 5-3 4-6-3-2zM577 99l14-2 7 2 0 3-2 3-10 3-13 2-6-2 1-3 3-3zM160 114l8-2 15 4 27 2 9 2 5 6 7 21 20 9 2 3-2 3 1 3 2 3 19 5 20 13 5 9-1 12 12 10 7 5 17 6 9 6 15 7 3 5-1 12 4 3 10 3 0 3-1 3 5 6-6 12-5 2-6 0-24-16-15 0-18-3-5-7-2-18-4-9 8-6-1-3-5-1-12 3-18-7-12 0-6 2-6 9-11 12 4 12 2 15-4 15-24 15-3 5-21 2-15-5-15 0-9 2-13 11-20 11-24 11-18 19-9 7-5 9-5 6-3 12-14 9-13 3-7 6-13 3 0-68 18-4 4-3 1-3-2-3-12-2-3-4-6-3 0-170 7-1 4-3 0-3-10-9 5-4 15-1 15-5 24 1 12-5 15 1 18-2 24-7 27-1zM543 135l3-2 3-1 9 6 12-1 6 3 6 6 3 1 12-2 24 0 12 4 21 5 15 1 15 5 21 3 6-2 6-5 9-1 7 4 8 18-2 3-15 6 1 3 7 3 2 3-2 3-9 6-12 0-3-3 3-9 9-6-6-3-9 3-15-1-24 4-6 3-1 3 4 3 15 8 18 3 12 11 32 11 16 3 12 5 12-2 21 0 16 6 14 11 15-4 15-1 6 2 6 4 6 2 7-2 0-3-3-3-10-7-12-2-6-3 3-15 6-9 2-6-1-6-6-9 1-3 9-6 4-12 9-9 33-25 6 1 18 21 26 21 14 18 11 9 8 18 4 18-2 6-10 12-3 2-6-1-11-7-1-3 1-9-2-6-13-18-16-6-9 0-4 6-12 6-15 18 4 9-1 3-6 9 5 9-2 9 4 9-3 9 1 3 12 12 14 9 9 12 12 7 6 5 4 6-1 6 3 3 8 3 1 7 27 9 13-4 2-3 3-9 3-3 6-2 12 2 16 12 2 3 1 9 2 3 12 6 2 3-5 15 3 5 9 3 21-2 24 3 12 5 13 7 2 3-3 6-34 18-1 3 7 18 0 3-14 12-12 8-2 4 2 5 9 10 6 4 9 1 9-4 11-7 5-6-9-12-1-3 6-3 24 2 21-5 21 1 24-4 27 2 15-3 15 3 27 3 18 5 27-1 15 3 5 6-1 3-16 6-9 7-6 4-48-1-15 5-15-2-24 4-6 10-6 6-9 15-11 9-5 9-11 7-9 11-24 6-6-1-2-11 1-9-2-3-6 0-4 3-3 9-11 10-4 8-5 5-8 4-1 4 13 5 5 6-1 3-14 7-9 0-11 5-7 1-6 0-18-9-15 0-3-7 9-12-1-3-13-9 2-3 14-6 3-6-3-3-13-3-10 3-14 9 9 9-2 3-12 6 1 9-13 12 1 4 6 3 3-1 12-8 6 0 17 8 1 3-3 2-9 3-7 4-3 9 1 7 6 2 9-4 6 1 5 3 2 9 2 3 6-1 12-11 24-7 12 2 15 5 12-3 9 0 4 3-2 6-5 3-15-1-12 10-21 4-15 1-4 4-2 8-9 3-9-2-18-12-12 1-24-8-35 7-4 3-12 16-12 5-1 6-3 3-5 2-12-3-4 1 0 3 1 2 14 4 1 9 6 3 5 6 1 6-5 9 1 6-2 3-12 4-18 1-42-10-6 3-1 8-23 20-15 1-9 2-6-1-6-3-10-10-4-9 1-9 10-15 4-12 0-3-5-6 2-3 14-6 21 1 13-10-12-6-2-9-5-5-16-7-1-12-11-15-5-15 6-15-13-9 1-4 12-7 11-13 2-3-3-9 2-2 8-4-1-3 2-2 9 3 6-1 6-15 0-3-4-6-26-15 1-12-5-6 0-15-8-21 1-9 2-2 12-4 3-6-1-6 10 0 13-9 0-3-13-15 0-3 3-2 2-4-2-12-3-3-12-2-12-8-4-8-7-21-2-3-14-2-12-7-9 0-18 7-15-5-11 7-7 1-21-3-15-5-15 3-7-5 1-3 13-3 1-3-4-6-1-6 3-11 10-7-3-6 2-6 12-6 16-3 4-3 1-3 3 0 6 4 9-1 4-3 2-6 6 0 3-9-6-6-3-7-3-1-6 8-30 1-9 3-9 6-7-1-2-3 10-6 2-3-3-7-9-4-27-7-11-6-4-3 0-3 3-9 0-3-5-9-22-10-6-5-29-12-4-3-6-9-1-9-12-9 0-9-6-3-3-3 4-5 10-7zM747 296l-10 4 4 3 10-3 3-3zM858 759l-5 3-1 3 3 4 6 1 2-2 1-6-2-3zM882 657l-3 3 2 3 16 4 9-2 4-2 2-3-12-1-9-3zM930 659l-1 1 7 5 9-1 2-1 1-3-6-2-6-1zM709 138l8-2 10 2 2 3-9 5-9 5-6-2-2-5 1-3zM1530 237l10-2 6 5 0 6-6 20-3 1-3-1-11-14zM401 267l4 1 1 2-7 4-7-1 2-3zM716 285l1-2 7 2 1 6-2 6-6-2-3-3zM2497 324l30-3 15 5 6 4 2 6-7 6-10 4-15 1-5 1-7 4-6 0-18-4-6-4-5-8 3-3 11-6zM167 333l7-2 6 0 18 14 1 6-4 9-6 5-24-1-6-5-3-5 0-6 7-12zM240 366l6-2 3 0 3 2-1 3-5 3-6 0-2-3zM1245 405l6-2 9 3 5 5 5 9-4 2-3 0-13-5-5-6zM708 408l12 0 18 1 5 2 2 3-2 18 3 9-5 9-2 12 0 3 8 18-1 9 2 15-2 6-5 3-15 2-15-1-9 4-7-2-2-3 0-4 7-8-1-3-6-6 0-6-1-3-14-5-5-7-7-5-16-4-6-3-3-3 0-9-4-9 6-9 16-12 5-9 2-1 21 1zM2311 414l18 5 4 19 6 6-2 6-5 9 1 6-9 9 0 3 7 9-1 3-4 3-9 3-6-1-6-3-15-13-3-4 0-9-8-9 0-3 3-3 13-6 1-3 0-9 2-9 7-7zM2536 423l3-2 6 2 3 6-3 10-6 5-3 1-3-2-3-5 2-9zM205 429l5 0 9 4 12 0 12 8 4 6 1 12 6 6-3 3-8 2-35-2-4-2-6-6-4-7 1-9 3-9zM2539 450l5 3-3 3-7 0 0-3zM270 453l9 0 15 2 21 1 2 0 0 3-8 5-6 1-39-3-2-3 1-3zM2403 489l7-1 2 1 0 3-9 6-11 12-15 8-6-2-5-6 9-12 8-4zM1401 492l4 0 6 3-1 3-5 2-5-2-2-3zM3174 558l4-1 12 3 26 1 19 9 2 3 1 12-6 9-9 3-18 0-3 2 1 10-7 6-6 15 4 18 8 6 19 18 0 3-4 5-24 7-18-1-15 5-12-4-12-1-9 1-12-3-12 4-7-1-2-3-3-12 1-9 4-9-2-3-22-12-2-3 1-3 4-6 4-3 3 0 9 5 6 2 11-4 6-6 2-9 8-15 8-6 9-12-5-6-1-3 10-3 6 2 2 1-6 6 1 3 3-1 4-2 9-12zM3503 567l23-2 24 3 21 4 0 18-12-5-27 2-15-2-24 11-10 10-2 6 6 15 16 9-1 12-3 6-4 3-17 7-33 6-6 0-12-4-9 2-9 9-21 16-12 12-7 9-12 9-7 12-7 5-12 5-13 17-11 8-6 11-9 4-6-1-18-15-6-10 0-3 3-15-3-5-10-1-13-24-3-12 1-6 4-5 12 2 6-1 18-11 5-6 4-6-1-3-9-6-1-3 1-9-4-9 0-3 5-3 15-3 19-12 1-12-4-9-1-3 2-3 7-4 18-2 16 3 7 6 19 5 9-2 33-1 12-4 15-2 18-5 12-9 12-1zM786 591l9 0 0 6-3 2-6 2-9-3-12 1-5-2 7-3zM3280 597l3-1 2 1-1 3-4 1zM716 624l10 0 5 3 0 6-1 3-10 2-10-2-5-3-1-3 4-4zM2079 633l7-1 7 1 5 3 7 9-4 12-17 15-3 6 2 6 2 3 10 5 1 7-1 5-10 10-2 9-5 3-10 3-12 0-12 2-14-2-3 3 4 6 0 3-7 9-1 3 10 6 9 24 0 6-9 6 0 3 8 3 5 6-5 0-6-1-12 2-1-4 4-6-38-12-5-3-1-3 7-9 5-15 7-9 0-6-4-12 2-6-8-9 1-9-2-9 3-4 33-15 17-17 10-14 6-6 15-2zM725 690l7 0 13 3 3 9-1 3-6 2-6-2-9-9-2-3zM710 702l6 0-2 3-7 0zM2660 720l5 0 8 3 4 6-3 2-15-3-2-5zM953 729l10 0 30 15 12 3 14 6 1 3 0 3-4 6 3 9-1 6 2 5 3 0 21-4 24-8 13 1 20 6 4 6 1 9 0 6-2 9 0 12-6 11-6 3-12 2-12 8-19 0-3-3 3-6-3-3-21-6 0-6 4-6-1-3-8-5-6 0-15 5-12 1-21-8-2-5 3-9-3-6 0-9 1-6 5-9 1-9-2-2-3-1-12 3-12-9 8-6zM1073 729l4-1 2 4-4 6 0 6-4 4-6-1-2-6zM2686 738l9 0 3 0 2 3-11 0zM1647 762l10-3 12 2 12-1 5 2 4 6 6 3 6-2 15-9 6 0 3 2 1 3-1 3-9 1-5 5 0 3 11 18 1 3-5 9 0 6 12 6-7 6 0 3 8 2 9-3 3 1 3 3-6 10-18 2-18 6-2 6 4 9-3 9-8 7-6 2-1 3 2 12 5 4 24 8 18 0 5 3-5 8-15 6-8 4-7 10-11 5-3 6 0 3 9 6-1 3-9 6-1 3 1 3 8 6 0 12 25 20 12 3 5 4-8 12 2 9-2 5-16 13-10 6-5 6-9 0-3-3 1-9-12-7-4 1-1 6-14 6-5 9-15 8-12 3-25 1-8-6-4-9-22-15-7-9-18-6-15-2-7-7-10-6-2-6 2-12-2-9 1-9-5-9-12-9-3-6 4-18 4-6 12-12 2-12 5-12-1-12 7-6 14-3 1-3-1-9-2-3-5-3 1-3 15-6 10-12 9-6 17-3 12 0 4-3 8-12 2-6-1-6-10-9-2-6 14-12 16-6-3-9 2-3 6-2 9 2zM940 786l11 0 3 3-9 1zM2041 822l6-1 2 1-1 3-8 3-8 1-4-1-2-3 9 0zM1076 852l19 5 33 4 27 6 6 0 9-5 6-1 12 1 9 6 3 0 1-7 11-3 33 5 1 4-9 12-1 3 8 9-1 3-10 6-2 3 7 6 0 3-5 9 2 3 15 3 6 12 1 16-3 14-6 18-6 9-12 9-8 9-5 9-8 21 1 9-2 6-9 9-7 12 4 9-1 6-7 2-18-3-15 4-12 6-12 2-9 18-12 7-6 12-10 3-5 6-21 3-12 10-12-1-9-4-15-5-9-9-4-9 3-12 11-12 8-17 5-4 18-9 0-3-2-6-3-3-12-8 0-4 6-5 17-7 7-6 9-4 13 1 29 14 12-3 18-2 4-3 4-9 0-3-3-6-5-2-24-5-7-14-3-3-5 0-9 6-9 2-12-2-24 6-6-6-1-6-6-6 0-3 2-3 10-9 1-3 0-12 4-9 1-12 10-6 12-3 5-6 0-3-8-9-6 0-9 7-9-13 4-6-3-9 15-12 12-18-1-6-7-6zM1827 918l10-2 12 2 13 9 11 12-1 9 1 12-6 9-6 2-12-3-14 1-13 1-12 3-9-1-5-3 0-3 4-3 16-2 3-3-8-19 2-2 9-1 3-3 1-3-3-6 0-3zM3560 975l5-1 6 2 0 192-13-1-14-9-2-6 0-9-7-7-2-5-8-9 4-9 0-3-8-15 1-9-7-12 1-3 7-9-3-4-8-5-2-3 0-9-8-6-1-3 2-3 7-6 1-3 0-6 8-9 3-12 12-15 4-2zM1813 984l12 2 9 7-1 3-5 3-2 6-2 3-5 1-9-3-3-2 0-11zM1892 1032l2-2 6 0 9 2 2 3-4 9 7 12 0 3-4 3-13 5-3-1-3-4-1-6 3-9zM1806 1059l10-2 6 1 4 4 11 18-1 6-11 12-1 3-1 3-4 3-3 0-5-3 2-15-3-7-6-6-4-11 0-3zM936 1131l7 0 0 3-7 4-6 1-3-2 1-3zM2036 1131l8-1 21-1 30 2 18 12 1 3-3 9 17 8 9 1 39-2 11 2 7 6 21 8 12 0 12 3 12 1 6 7 4 17 0 3-9 9-3 6 2 9 7 6-2 9 2 12-5 12-1 6 2 3 3 0 6-1 6 0 21 9 12-6 24-3 12 2 6-8 6-1 6 2 4-3 1-3-1-6-5-15-5-6-6 0-15 10-6 1-16-5-4-3-1-3 4-9 1-12 7-9 2-18 6-9 0-15 6-12 14-12 38-10 42 3 12 6 15 0 18 6 27-3 15-5 15 2 12 0 6 1 9 9 18 6 3 3 3 10 33 11 21-6 14-6 16-3 18 2 24-2 11 6 10-1 15 1 5 6 19 5 12 9 15 4 6 10 9 5 6 0 9-5 15-3 9-4 5 3 1 9 6 6 0 3-3 4-9 2 0 3 30-2 9 3 11 20-3 9 2 9 8 6 2 3-2 4-15-1-24-9-15-4-8-5-3-12-4-2-18-1-12-7-8-2-3-6-7-4-12-3-16-2-9-6-8-2-9 0-3 2-2 3 3 9 0 3-5 6 3 6-14 12-12 6-3-3-2-6 2-9 2-3 11 0-4-6 0-3 10-9 2-3-2-9-4-2-12 0-8 2 5 9-1 6 1 6-3 2-12 0-15 5-15 0-3 2 4 6-5 9 3 12 4 6 6-1 9-5 17 0-2 9 2 9-3 9 1 6 5 12 13 9 2 9-5 2-12-2-9-4-3-5-3-9-6-6-8-15-4-3-6-1-15 5-20 14-2 9-6 9 2 6 8 9 7 21-6 18-13 6-15-5-17-16-18-9-10-2-18 0-12-7-12-2-9 1-9 5-15-2-15 5-21 10-12 0-12-5-18 2-30-17-21-5-21 1-7-2-11-6-1-3 7-9 3-2 9 1 3-1 4-4 0-3-1-1-36-5-15-10-18-2-12-6-18 3-18 0-3-1-6-7-9-2-12-6-24-2-12 2-6-1-10-7-2-6-6-2-24-1-30-10-18 2-10-4-3-3 4-3 0-6-10-6-5-6-3-9 0-12-3-6 2-6 2-3 14 1 6-3 2-4-2-6-9-5-15 2-12-1-12 4-2 3 4 3 0 3-9 3-7 0-4-3 10-6 1-3-5-3-9-3-9-12-12-5-1-4 10-6 12-3 24 9 3-2 0-7 3-3 15 2zM2392 1149l-3 0-3 3 3 2 5-2zM2395 1164l-15 3-8 6-4 9 3 6 3 3 24 14 15 0 9 4 18-4 6 4 4 6 24 18 8 0 2-9-2-2-12-2-4-2-1-3 5-7 12-2 3-3 0-6 2-9-3-3-14-7-19 1-7 3-2 3 10 3 2 3-1 3-10 4-9 1-9-5 1-6-5-9 0-9-2-1-6-3zM2530 1197l-6 2-1 1 4 2 7-2 2-3zM2458 1290l-1 0 0 3 4 3 6-2 2-4-2-1zM2464 1326l-10 6 2 3 11 11 7-5 17-12-12 0zM1383 1179l7 0 15 5 1 4-2 3-8 3-12-3-6-6 1-3zM2842 1194l9-2 2 2-11 2zM2462 1197l8 0 0 4-6 1-3-2zM1160 1203l1-2 6 1 5 4-2 3-3 1-5-1zM2956 1206l14 0 4 7 9 5-1 3-2 1-9-4-12-3-4-6zM1117 1212l14-1 6 4 3 6-1 9-7 9-7 18 1 9-7 5-15 3-9-1-9-3-11-7-7-6-5-12 2-9-2-6 17 0 18-13zM1465 1218l27 0 20 6 11 9 0 3-2 3-26 21-7 12-5 6-12 4-18-3-27-3-21 1-12-3-9 3-9 3-25 2-3-1-3-2-3-13 15-14 9-1 25 1 15 14 6 1 12-7 2-3-1-6 1-3 10-12 10-6 8-6zM1179 1263l5 0 9 6-2 6-3 3-3 0-9-4-2-5 1-3zM2083 1269l3-2 5 2-1 6-3 3-4 0-1-3zM1233 1278l3-1 3 1 6 6-6 0-4-3zM3518 1284l11-2 15 6 12-1 15 2 0 83-3 0-9-2-8-11-4-9-11-9-8-12-4-21-12-9-2-3 4-9zM2908 1296l4 0 11 15 9 2 5 4 0 3-2 1-12 1-6 2-6 2-18 0-6-2-3-4 2-6 9-12zM2983 1302l6-1 18-1 35 11 9 6 16 4 27 11 9 6 2 3 2 15-10 10-1 5 2 9-3 6 5 8 11 7 16 1 9 6 6-1 18-6 6 0 9 3 5 6 3 18-5 6-30 4-7-1-3-6 0-3 6-6-2-3-10 0-1 3 1 6-3 6 5 6-2 3-14 9-6 1-8-4-7-6-15-9-9-7-14-8-5-6-1-15-3-3-10-7-18-5-24-24-3-6 6-21-1-3-11-4-27-5-2-3zM2447 1365l2-1 6-1 6 2 1 3-7 2-5-2z"/><path fill="#023858" d="M3320 96l8-2 4 2 0 9 3 6 0 3-7 12-21 7-3 8-10 12-3 9-5 5-9 3-12-5-12-6-3-6 2-6 7-6 12 0 3-9 6-5 7-10 20-17zM1431 117l10-3 9 1 18 5 11 6 7 9 6 3 3 4 1 8-2 15-13 12-7 3-9 0-21-9-6 1-22 11-2 3-1 9-23 9 0 3 3 0 15-2 9 1 9 11 18 2 6 3 2 6-2 3-3 1-21 0-6 2-1 3 13 5 3 3 1 4-1 4-19 5-14 1-9 4-15 0-34-1-6-1-2-3 11-12 15-1 13 2 33-7-3-3-9 0-9-4-12-8-10-1-12 1-12-2-6-6-4-7 0-3 2-3 5-2 24-2 13 2 6-2 6-8 2-9-2-3-3-1-13 1-3-3 1-9-5-6-1-6 3-3 18-3 12-7 6 1 3 2 3-1-1-10 7-13 3-3zM154 129l8-1 15 3 13-2 6 3-4 6 7 15 0 6-5 3-5 1-18-2-12 9-18 6-15-2-8-3-9-6-3-6 3-15 5-6 21-6zM51 150l3-2 6 0 13 8 1 12-2 10 3 2 15 3 12 10 12-6 12-3 7 2-3 6 2 1 4-1 5-6 3-2 13 5 3 3 1 3-20 1-3 5 1 6 5 3-6 1-12 6-3-1 0-7-6-3-6-1-9 1-9 6-24 3-3-5 1-6 9-9-4-10-6-4-9-2-9-7-9 1-5-2-1-3 3-3 9-3 3-3zM576 165l3-2 13 5 3 3 1 3 0 6 4 6 0 3-3 6-3 3-9 0-11-6-3-12 5-6zM3236 180l8-2 7 2 1 3-1 3-4 2-12 0-4-2 1-3zM246 183l12 1 6 9 13 5 2 3-2 3-13 3-15 4-9-1-1-3 3-12-1-9zM916 186l23-3 12 1 6 5 2 6-2 3-6 0-30 0-7-3-2-3 0-3zM3190 186l19 9-5 6-5 2-21-5-2-3 8-7zM1428 198l10-2 6 2-6 3-6 0-4 0zM3104 210l5 1 0 5-11 6-4 1 0-4zM30 213l9-1 18 5 21 11 0 3-7 9 1 3 13 9 2 3 0 8 6 0 3 2 4 8 0 15-4 4-6 1-4-2-5-8-9-1-5-3-10-8-3 0-12 8-8 0-5-3 5-3 0-9 3-6-13-9-3 0-9 5-12-5 0-31 18 1 6-2zM166 228l8 0-2 3-5 0zM1344 234l6-2 3 2 1 3-5 3-5 3-3 0 0-6zM3046 237l6-1 4 1 2 9-1 6-5 0-4-3-3-9zM3023 240l4 0 3 3 3 9-1 3-7 3 0 9 15 12-1 3-8 1-15-9-6-1-9 5-13 4 1 4 12 2 2 3-1 3-4 2-15 1-9-2-4-10 4-6 0-3-1-6-6-6 1-3 6-4 3 0 15 6 6-1 6-13 9 3 3-1zM315 246l3-1 5 1 2 3-1 4-3 2-6 0-2-3zM0 258l6 1 2 2-2 1-6 2zM855 276l9-1 6 1 3 2 0 5-9 5-9 1-8-4-1-3zM174 282l3-2 15 2 7 3-1 2 0 1-6 2-6 0-6-2zM1377 297l6 0 5 6 11 6 18 5 9 0 6-3 3 9 3 2 6 0 1 2-7 2-6 4-15 4-9 0-9-7-3-1-15 1-10 6-3 0-6-1-5-5-3-3 1-9-5-6 8-6zM68 309l4-1 9 1 9-1 7 4 3 3-1 2-6 3-13-2-8-3-4-3zM2898 318l13-2 6 0 3 2 2 6-3 6-5 3-3 0-14-9-2-3zM1418 354l6 0 1 3-8 4-6 0-2-4zM916 360l2-2 3 0 12 5 1 3-2 3-8 4-3-1-4-6zM1355 363l26-1 15 11 9-1 15 6 24 0 3 2 0 4-4 3-8 3-9 6-9 0-12 0-18 5-16 0-6-1-2-4 3-3 5-3 16-2 3-4 1-3-1-2-15-2-13-5-8-6zM849 390l6-1 15 6 30-7 21 8 4 3 2 6-1 3-6 3-5 1-15-3-4 5-5 2-15-3-12 0-4-2-5-6-9-3-3-3 0-3zM971 405l1-2 15 4 45-3 5 4 0 9 3 3 22 13 24 2 21-4 6 1 3 3 1 3 0 9-3 3-19 7-6 5-3 3 2 9-2 4-9 5 1 9-4 6-9 3-9-1-2-2-1-9-3-3-1 6-6 9 4 3 9 2 5 7 7 6 1 6-4 9 2 6 4 4 10 2 16 9-38 4-4 2-8 7-21-3-3 2-3 6-6 2-12-7-6 0-4 2 0 3 10 5 2 1-1 3-7 4-27 0-6-2-10-8-2-3 0-9 10-9-2-9 5-6-4-3-6-3-12-2-15-10-6 3-3-1-2-5-3-3-9-3-16 0-18-2-6 7-6 1-6-3-3-6 3-5 3-1 0-6 5-6-2-12 2-3 10-2 12 5 3-1 3-8 6-5 8-10-1-3-4-2-29-13 2-6 3-3 9-2 21 0 5-1 7-7 6-1 3 1 9 7 15 4 12 10 6 1 2-3 0-3-6-15 2-6zM1002 501l-5 3-1 3 5 6-17 5-4 4 4 6-4 9 1 3 6 1 12-4 13-6 2-7 14-5 8-15-22-4zM1038 480l-1 0 3 3 7 1 3-1-3-3zM694 420l8-2 9 0 12 7 3 4 3 21-1 3-12 12-5 11-6-1-2-4-2-6-2-1-27-6-3-2-3-6 1-6 5-9 19-9zM2794 420l9-2 5 2 2 3-1 6-2 3-10 3-9-1-7-5 2-3zM2656 486l4 3-1 4-6 0-3-4zM2935 492l9 1 5 2 5 6 8 6 0 3-3 4-18-2-12 4-6-1-15-10-12 1-2-2 7-3 13-2 12-5zM1199 501l28 1 27-1 15-2 6 1 7 4 2 6-4 6-5 3-15-2-18 3-15-2-12 4-5 6 1 9-5 15-9 6-18 4-6-1-4-3 1-12-5-9 4-15 22-18zM2879 522l8-2 9 4 3 4 0 3-3 3-13 0-5-6-1-3zM2763 540l10-1 3 1 4 15-6 6-10 3-6-3 1-18zM899 555l4-2 15 0 7 2-1 3-6 4-10 2 5 6-1 5-12 3-6 9-9 5-24-6-2-1-1-3 12-4 18-11 18-3-7-6zM930 573l3-1 4 1 3 3-1 4-6 3-3-2-1-5zM1086 573l6-2 13 2 1 3-5 14-3 2-6 0-7-4-3-6zM2494 594l12 1 8 5 1 3-6 13-9 6-6 2-6-2-6-4-3-6 3-9 6-6zM2880 594l10-1 7 4 5 6-3 4-12 5-9-2-1-10zM3173 597l5 0 3 2 1 4-1 2-3 0-5-2-2-3zM3150 603l7-2 9 5 3 3 0 3-2 9 9 3-1 6-2 3-12 9-7 2-4-2-5-11-10-7-3-6 1-6zM3425 603l14-2 15 3 4 2-1 9-5 6 0 3 8 6-1 3-8 8-9-2-21 4-18-2-3 1-2 3-3 12-7 3-3 0-2-3 0-9-11-6-11-3-9 4-12-8-12 0-17-2 5 0 9-6 6-10 6-1 9 1 9-4 12 2 15-2 18 0 14-4zM2560 609l6 0 6 2 3 5-3 3-7-1-5-3-2-3zM958 612l8 0 5 6-5 6 3 8-1 13-2 2-6 1-5-3-3-6-4-2-6 0-9 2-15-5-4-4 0-3 1-3 9-1 12-6 15-2zM2961 618l7-2 6 2 3 3 1 3-4 6-6-1-8-5-3-3zM2516 624l8 1 6 5 1 3-4 3-6 0-13-3-4-3 5-4zM823 630l2-1 5 1-1 3-4 0zM3448 648l9 1 5 5-3 3-5 1-15-1 2-6zM2969 663l11 0 3 3-3 4-12 5-3 3-1 9-1 3-4 3-45 9-9-1-8-2-10-10-2-5 2-3 30-10 9-5zM3318 672l4 0 3 2 7 7-7 6 3 3 6-2 1-1-1-3 4-3 8 0 3 2 1 4-5 6 9 12-5 3-9 2-24 13-6 0-7-3 0-3 6-6 3-9 0-3-5-6-1-6 7-12zM2043 675l10-2 3 2-3 4-6 4-3 0-3-2-1-3zM844 684l5-1 12 1 8 6-5 2-15-3-4-2zM909 684l21-1 11 7 1 3-2 9-7 6-9 3-9-3-4-3 0-3 4-3 0-3-7-6-2-3zM2036 711l5-2 6 1 4 1 1 3-2 2-6 1-7-3zM2725 714l6 0 2 3-4 3-6 0-1-3zM3280 753l3-2 6 0 5 2 1 4-6 4-9 0-2-2zM2460 774l4-1 5 4 1 6-3 3-6 0-5-3-1-3zM803 786l7 0 3 3-3 3-6 0-3-3zM1059 795l3-1 9 1 10 3 2 3-1 3-6 6-11 1-12-3-1-4 1-3zM1658 834l2-1 6 1 1 3-4 2-3-1zM1637 852l5-3 6 3-1 3-7 3-2 3 1 9-11 12-10 10-6 2-7-3-2-3 3-3-1-3-20-4-3-5 4-3 17-2 9-8 21-4 2-1zM1124 891l4-1 6 2 3 5-1 3-5 3-3-2-5-7zM1553 912l5 0 6 3 15 16 0 6-3 1-9-3-8 4 2 3 6 5 27 1 4-3 2-3 3-1 4 4 8 3 15-4 9 4 1 3-5 6-1 9-14 6-1 3 5 6 9 3 2-3 1-9 12-10 6 1 4 3 0 3-4 5-4 10 1 9-1 3-5 3-18-1-15-10-15-3-9 1-2-2-2-6-5-3-12 2-15-5-18 4-9-1-11-9 0-3 4-6 1-9 10-12 2-6 6-8 9-7zM1537 947l-3 1 0 3 18 10 3 0 1-4-13-9zM1199 939l7 0 18 2 6 3 6 6 1 4-2 6-17 15-2 0-1 3-3 2-6 1-12-8-6-10-2-6 0-3 8-12zM1200 972l3 2 6 0 3-2-3 0zM1110 942l18 2 1 7 5 6-1 3-2 2-6-2-4-9-2-1-12-5zM1136 984l1-2 3 1 11 4 3 3-2 5-3 2-6-2-4-5zM1669 993l6-1 4 4 2 4-3 2-9-3-2-3zM3544 999l9-1 3 1 3 7 3 1 9-2 0 25-12-1-12-2-9 2-3-1 0-2 9-3 0-6-5-9zM1529 1005l5-2 6 2 5 3-2 3-12 0-3-3zM1600 1014l6-2 6 1 3 1 2 6-2 9-8 9 3 9-1 2-6-5-9-4-14-14-1-3 0-6 3-1 15 1zM1626 1020l7-2 6 2 2 3-2 3-3 1-6-2-3-2zM1077 1062l6-2 6 2 3 3-2 12-4 1-9-1-6-4-1-5zM3567 1074l4-1 0 10 0 3-5-6zM1043 1119l5 0 6 9 20 2 3 1 1 3-2 3-8 3-24 6-9-4-2-5 8-12zM2080 1143l9 0 4 3 0 3-4 6-12 7-6 1-9-3-6-8-3-2-3 5-9 2-5-5 1-3 4-2 6 0 6 2 6-4zM2184 1194l31 3 12 3 2 3-3 6 3 12-1 3-10 2-9-4-12 4-9-2-1 0 0 3 10 1 6 8-3 3-18 2-12 3-11-5-1-3 15-9 4-6 5-1 4-5 0-3-5-15zM2083 1197l3-1 12 4 15 0 7 6 5 2 4-2 5-4 3 0 0 4-4 12-14 9-6 6-6 4-6 0-18-5-18-2-9-6-1-3 1-6 4-3 12-3zM2382 1221l4-1 3 0 0 4-2 3-4 2-3-2-1-3zM1472 1230l8-1 14 1 3 3-1 3-4 3-9 2-12-1-3-4 0-3zM2137 1233l3-2 6 1 3 1 2 3-2 1-6 2-3 0-4-3zM1094 1236l7-1 5 1 3 3-2 7-6 0-12-1-1-3 1-3zM2388 1239l13 0 3 6 6 8 12 5 1 2-1 3-10 9-2 9-8 0-8-3-8-5-6-7-3-9 1-12 2-3zM2404 1260l-5 3 2 3 3 1 4-1 1-3-1-3zM1455 1245l10-2 2 2 4 13-15 0-6-10zM2232 1254l7-1 3 2 1 2-1 3-9 8-6 3-3-2 0-3zM2514 1260l9 0 2 3-4 3-3 2-6-2-2-3zM2539 1278l36-2 3 2-12 11-15-4-2 2 5 9-1 3-8 6-6 0-6-1-2-2-1-3 1-12 2-6zM3570 1311l1 44-15-10-12-8-1-5 0-6 1-3 6-3zM2358 1317l7-1 7 1 1 6-5 6-4 0-6-3-2-3 0-3zM2553 1326l7-1 7 4 1 3-8 9-8 0-5-6 1-6zM3053 1329l5 0 6 3 3 12 5 3 2 3-2 9-4 6-11 9-5 1-9-4-6 0-9-1-17-14-2-3 0-3 22-19zM3077 1407l4 0 4 3-2 3-4 1-7-1 1-3zM3089 1413l8 2 3 4 0 4-3 2-6-2-3-4z"/></g><path d="M0.0 91.4 7.8 83.7 13.6 73.9 9.7 70.0 0.0 77.8M0.0 147.1 15.6 155.6 35.0 158.8 54.5 153.7 70.0 142.0 77.8 124.5 80.6 101.2 81.7 97.3 105.1 101.9 102.0 107.0 92.2 110.9 93.4 116.7 95.3 134.2 102.0 163.4 100.4 198.4 105.9 221.8 105.1 249.0 112.9 280.2 120.6 311.3 132.3 338.5 145.9 350.2 155.7 352.1 158.8 373.5 149.8 377.4 163.4 396.9 175.1 428.0 182.9 451.4 190.7 478.6 202.4 494.2 215.2 507.8 223.8 533.1 233.5 560.3 245.2 587.5 256.8 610.9 268.5 626.5 277.1 635.0 288.0 634.2 301.6 618.7 307.4 601.2 323.0 593.4 333.9 591.4 334.7 575.9 344.4 564.2 350.2 552.5 367.8 552.5 366.6 525.3 367.8 498.1 377.5 474.7 385.3 447.5 383.3 430.0 379.4 426.1 383.3 420.2 379.4 404.7 376.7 389.1 375.5 365.8 385.3 352.1 396.9 346.3 406.7 348.2 420.3 330.7 439.7 323.0 459.2 311.3 463.1 301.6 490.3 280.2 517.6 256.8 544.8 233.5 572.1 210.1 595.4 194.6 614.9 186.8 630.4 175.1 638.2 159.5 635.1 147.9 640.2 136.2 661.6 124.5 673.2 118.7 679.1 108.2 681.8 116.7 686.9 130.4 698.5 128.4 700.5 120.6 706.3 127.6 719.9 125.3 727.7 120.6 739.4 118.7 751.9 110.9M374.4 572.0 385.3 572.0 400.8 583.7 416.4 607.0 428.1 630.3 439.7 657.6 443.6 663.4 443.6 684.8 435.9 700.4 422.2 710.1 402.8 716.0 385.3 714.0 373.6 696.5 366.6 669.3 363.9 645.9 369.7 642.0 371.6 622.6 377.5 599.2 380.6 585.6 385.3 582.9zM751.9 112.8 758.9 119.8 771.3 101.2 770.5 90.3 779.1 77.8 784.9 83.7 806.3 84.8 818.0 97.3 825.0 116.7 829.7 136.2 839.4 155.6 849.1 171.2 856.9 177.0 862.8 182.9 868.6 190.7 880.3 196.5 890.0 200.4 895.8 212.1 901.7 223.7 909.5 237.4 917.2 252.9 922.3 272.4 923.1 291.8 918.4 311.3 913.4 336.6 921.1 333.9 925.0 341.6 938.6 346.3 942.5 341.6 952.3 346.3 962.0 335.4 975.6 323.0 989.2 314.4 1000.9 309.3 1006.8 286.0 1012.6 303.5 1020.4 301.6 1030.1 311.3 1041.8 319.1 1042.9 342.4 1045.7 361.9 1051.5 385.2 1059.3 408.6 1063.2 426.1 1067.8 423.3 1071.0 439.7 1078.0 459.1 1080.7 478.6 1074.9 488.3 1085.7 496.1 1084.6 513.6 1078.7 533.1 1074.1 552.5 1080.7 556.4 1074.9 572.0 1070.2 591.4 1067.1 610.9 1066.3 629.2 1080.7 629.2 1094.3 645.9 1109.9 661.5 1121.6 677.0 1131.3 690.7 1137.1 704.3 1141.0 719.8 1143.0 751.8M1253.9 751.8 1242.2 731.5 1230.5 716.0 1222.7 706.2 1211.1 706.2 1199.4 688.7 1187.7 679.0 1164.4 677.0 1154.6 667.3 1146.8 653.7 1141.0 630.3 1131.3 614.8 1127.4 595.3 1117.7 591.4 1106.0 592.2 1100.1 583.7 1097.4 560.3 1102.1 537.0 1111.8 509.7 1125.4 482.5 1129.3 455.3 1131.3 433.9 1144.9 430.7 1162.4 432.7 1164.4 463.0 1174.1 465.0 1195.5 463.0 1213.0 474.7 1224.7 484.4 1234.4 498.1 1244.1 513.6 1248.0 529.2 1257.8 523.3 1265.5 525.3 1264.8 540.9 1277.2 540.9 1288.9 544.7 1300.6 554.5 1316.1 561.1 1310.3 579.8 1311.1 603.1 1314.2 616.7 1323.9 612.8 1335.6 599.2 1347.3 589.5 1357.0 585.6 1358.2 575.9 1354.3 568.1 1364.8 579.8 1370.6 575.9 1374.5 560.3 1390.1 546.7 1413.4 537.0 1436.8 525.3 1458.2 517.5 1467.9 509.7 1469.8 494.2 1473.7 478.6 1473.7 463.0 1478.4 461.1 1475.7 428.0 1471.8 404.7 1464.0 373.5 1452.3 350.2 1438.7 334.6 1429.0 328.8 1413.4 311.3 1390.1 287.9 1370.6 268.5 1362.8 252.9 1347.3 241.2 1340.3 229.6 1343.4 210.1 1353.1 186.8 1370.6 163.4 1390.1 147.9 1413.4 134.2 1436.8 128.4 1448.4 123.7 1471.8 128.4 1475.7 134.2 1489.3 130.4 1493.2 151.8 1499.0 163.4 1503.7 171.2M864.7 430.0 860.8 447.5 856.9 470.8 852.3 490.3 848.4 498.1 853.8 505.8 857.7 486.4 861.6 466.9 863.9 447.5 865.5 431.1zM891.2 667.3 897.8 665.4 899.0 673.2 895.8 682.9 891.2 680.9 890.0 673.2zM1065.1 465.0 1069.0 463.0 1071.0 474.7 1066.3 475.5zM1069.0 496.1 1074.9 494.9 1075.6 503.9 1070.2 505.1zM1062.4 501.9 1066.3 500.0 1065.5 507.8 1062.4 508.9zM1065.1 635.0 1071.0 633.5 1071.7 642.0 1067.8 645.9 1065.1 642.0zM1275.3 549.4 1280.3 546.7 1283.1 554.5 1281.1 560.3 1277.2 556.4zM771.3 87.5 776.0 83.7 783.8 86.4 783.8 97.3 779.9 101.9 774.4 100.4zM1503.7 188.7 1479.6 190.7 1464.0 202.3 1452.3 216.0 1454.3 237.4 1464.0 247.1 1483.5 251.0 1491.3 254.9 1503.7 245.9 1519.3 229.6 1532.9 210.1 1538.7 194.6 1527.1 186.0zM1503.7 171.2 1515.4 167.3 1519.3 155.6 1511.5 147.9 1519.3 138.1 1542.6 130.4 1566.0 123.7 1593.2 116.7 1614.6 112.8 1616.6 93.4 1620.5 90.3 1632.1 103.1 1638.0 82.5 1651.6 91.4 1655.5 99.2 1667.2 93.4 1674.9 86.4 1686.6 87.5 1698.3 81.7 1706.1 86.4 1715.8 81.7 1725.5 83.7 1737.2 79.8 1750.8 73.9 1760.5 62.3 1776.1 50.6 1791.7 42.8 1803.4 31.1 1807.2 19.5 1822.8 15.6 1832.5 7.8 1838.4 0.0M1916.2 0.0 1908.4 11.7 1896.8 27.2 1887.0 42.8 1883.1 58.4 1887.0 77.8 1896.8 93.4 1904.5 103.1 1910.4 114.8 1914.3 97.3 1922.0 81.7 1931.8 62.3 1939.6 38.9 1945.4 19.5 1949.3 0.0M2018.2 25.3 2019.7 22.8 2022.8 22.8 2024.4 25.3 2022.8 27.8 2019.7 27.8zM2033.0 22.6 2034.9 19.5 2038.8 19.5 2040.7 22.6 2038.8 25.7 2034.9 25.7zM2077.7 8.6 2079.3 6.1 2082.4 6.1 2083.9 8.6 2082.4 11.1 2079.3 11.1zM1906.5 242.0 1924.0 244.4 1943.5 251.0 1955.1 251.0 1957.1 243.2 1962.9 244.4 1967.6 251.0 1962.9 268.5 1964.9 287.9 1972.6 299.6 1970.7 315.2 1962.9 330.7 1951.2 338.5 1941.5 350.2 1933.7 365.8 1937.6 381.3 1943.5 389.1 1941.5 400.8 1947.3 412.5 1961.0 418.3 1962.9 410.5 1970.7 404.7 1984.3 401.6 1996.0 412.5 1997.9 422.2 2003.8 414.4 2013.5 416.3 2025.2 422.2 2017.4 428.0 2025.2 439.7 2023.2 447.5 2033.0 453.3 2034.9 466.9 2027.1 468.9 2019.3 455.3 2009.6 451.4 2001.8 443.6 1994.0 435.8 1988.2 426.1 1980.4 419.5 1972.6 420.2 1976.5 431.9 1981.6 443.6 1974.6 441.6 1966.8 431.9 1957.1 420.2 1947.3 416.3 1935.7 422.2 1922.0 426.1 1908.4 420.2 1904.5 404.7 1912.3 393.0 1910.4 387.2 1900.6 396.9 1890.9 383.3 1883.1 365.8 1877.3 346.3 1873.4 330.7 1883.1 334.6 1892.9 323.0 1896.8 295.7 1898.7 272.4 1900.6 252.9zM1892.9 433.9 1912.3 432.7 1927.9 437.7 1935.7 443.6 1937.6 459.1 1935.7 472.8 1925.9 482.5 1916.2 472.8 1910.4 455.3 1902.6 441.6zM1859.8 512.8 1863.7 523.3 1859.8 533.1 1863.7 540.9 1855.9 552.5 1842.3 564.2 1830.6 577.8 1815.0 593.4 1799.5 605.1 1787.8 614.8 1778.1 623.7 1776.1 618.7 1782.0 607.0 1793.6 595.3 1811.1 579.8 1824.8 564.2 1838.4 550.6 1848.1 537.0 1853.9 523.3zM1876.5 477.8 1882.0 480.5 1889.0 486.4 1883.1 488.3 1878.1 484.4zM1875.4 492.2 1879.2 494.2 1882.0 500.0 1878.1 500.0zM2042.7 470.8 2064.1 466.9 2075.8 472.8 2083.6 486.4 2087.4 505.8 2095.2 523.3 2083.6 523.3 2073.8 513.6 2064.1 498.1 2054.4 484.4zM2046.6 511.7 2064.1 513.6 2069.9 533.1 2075.8 552.5 2068.0 562.3 2062.1 544.7 2054.4 529.2zM2001.8 466.9 2009.6 470.8 2025.2 488.3 2031.0 498.1 2017.4 492.2 2005.7 486.4 2001.0 478.6zM1953.2 494.2 1966.8 500.0 1986.3 505.8 1996.0 513.6 1992.1 527.2 1980.4 535.0 1964.9 538.9 1955.1 548.6 1953.2 533.1 1957.1 513.6zM1990.2 533.1 2005.7 529.2 2011.6 537.0 2005.7 560.3 2001.8 579.8 1999.9 595.3 1992.1 599.2 1982.4 587.5 1972.6 575.9 1976.5 566.1 1986.3 560.3 1988.2 544.7zM2031.0 517.5 2029.1 533.1 2021.3 552.5 2013.5 570.0 2007.7 583.7 2005.7 575.9 2011.6 556.4 2019.3 538.9 2027.1 523.3zM2025.2 568.1 2038.8 558.4 2050.5 560.3 2048.5 572.0 2038.8 579.0 2029.1 575.9zM1951.2 373.5 1955.1 374.3 1955.9 389.1 1952.0 388.3zM1949.3 430.0 1957.1 431.9 1958.2 441.6 1951.2 442.8zM1955.9 466.9 1959.0 466.9 1959.0 482.5 1955.1 483.3zM1971.5 471.6 1979.3 472.8 1978.5 477.0 1972.3 475.5zM1994.8 445.5 2003.8 457.2 2001.8 461.1 1993.3 449.4zM2018.2 463.0 2021.3 465.0 2020.5 472.8 2017.4 471.6zM2045.4 501.2 2051.6 501.9 2050.9 507.8 2046.2 507.0zM2089.4 546.7 2093.3 548.6 2094.4 568.1 2090.6 566.1zM1953.2 677.0 1957.1 657.6 1964.9 642.0 1982.4 632.3 1994.0 624.5 2005.7 614.8 2013.5 614.0 2023.2 622.6 2021.3 636.2 2033.0 632.3 2040.7 624.5 2052.4 614.8 2060.2 607.0 2075.8 601.2 2083.6 589.5 2083.6 575.9 2095.2 573.9 2103.0 587.5 2110.8 595.3 2116.6 612.8 2118.6 630.3 2126.4 653.7 2128.3 677.0 2122.5 688.7 2116.6 700.4 2114.7 688.7 2106.9 673.2 2099.1 663.4 2093.3 669.3 2085.5 684.8 2083.6 700.4 2093.3 712.1 2087.4 727.6 2079.7 721.8 2064.1 714.0 2048.5 706.2 2038.8 692.6 2033.0 679.0 2036.9 665.4 2029.1 653.7 2017.4 645.1 2009.6 653.7 2001.8 661.5 1997.9 653.7 1988.2 657.6 1984.3 649.0 1974.6 653.7 1966.8 661.5 1961.0 673.2 1957.1 680.9zM1949.3 690.7 1961.0 686.8 1966.8 694.6 1957.1 698.4zM1916.2 714.0 1931.8 711.3 1931.8 719.8 1918.2 719.1zM2810.1 435.8 2812.1 432.7 2815.9 432.7 2817.9 435.8 2815.9 438.9 2812.1 438.9zM2426.8 657.6 2428.7 654.5 2432.6 654.5 2434.6 657.6 2432.6 660.7 2428.7 660.7zM3316.8 679.0 3318.5 676.2 3322.0 676.2 3323.8 679.0 3322.0 681.8 3318.5 681.8zM125.3 866.5 126.9 864.0 130.0 864.0 131.5 866.5 130.0 869.0 126.9 869.0zM956.2 730.7 969.8 765.4 985.3 780.9 1000.9 796.5 1016.5 802.3 1028.2 814.0 1037.9 829.6 1042.9 831.5 1047.6 851.0 1063.2 854.9 1078.7 864.6 1088.5 876.3 1090.4 886.0 1096.3 901.6 1102.1 919.1 1106.0 930.0 1117.7 936.6 1131.3 954.1 1144.9 969.6 1156.6 993.0 1166.3 1012.5 1168.3 1024.1 1183.8 1043.6 1199.4 1063.0 1215.0 1078.6 1224.7 1094.2 1242.2 1107.8 1257.8 1119.5 1273.3 1125.3 1285.0 1137.0 1296.7 1148.6 1308.3 1160.3 1306.4 1148.6 1312.2 1146.7 1320.0 1156.4 1329.8 1154.5 1333.6 1146.7 1341.4 1152.5 1349.2 1156.4 1353.1 1140.9 1353.1 1109.7 1354.3 1082.5 1358.9 1063.0 1358.2 1047.5 1347.3 1031.9 1327.8 1026.1 1312.2 1026.1 1316.1 1018.3 1304.5 1010.5 1300.6 993.0 1296.7 981.3 1279.2 977.4 1265.5 967.7 1261.6 958.0 1269.4 948.2 1267.5 942.4 1272.5 934.6 1265.5 924.9 1257.8 921.0 1238.3 930.7 1246.1 923.0 1244.1 909.3 1250.0 901.6 1240.2 897.7 1228.6 897.7 1224.7 889.9 1216.9 895.7 1215.0 886.0 1199.4 880.2 1187.7 872.4 1179.9 858.8 1172.1 854.9 1164.4 858.8 1152.7 849.0 1141.0 839.3 1131.3 835.4 1125.4 823.7 1109.9 810.1 1094.3 800.4 1082.6 792.6 1071.0 780.9 1059.3 765.4 1047.6 749.0 1039.8 745.1 1016.5 739.3 985.3 733.5 965.9 728.4zM1320.0 1010.5 1335.6 1000.8 1343.4 996.9 1355.0 996.1 1360.9 1010.5 1366.7 1026.1 1384.2 1035.8 1381.5 1055.3 1374.5 1051.4 1358.9 1039.7 1349.2 1024.1 1343.4 1018.3 1320.0 1018.3zM1417.3 1039.7 1429.0 1033.9 1440.7 1041.6 1440.7 1055.3 1430.9 1059.1 1419.3 1055.3zM1143.0 751.8 1154.6 763.4 1156.6 780.9 1164.4 794.6 1174.1 810.1 1181.9 825.7 1191.6 837.4 1207.2 849.0 1222.7 862.6 1242.2 876.3 1257.8 884.0 1269.4 887.9 1286.9 882.1 1290.8 870.4 1283.1 852.9 1275.3 839.3 1265.5 827.6 1260.9 814.0 1259.7 790.7 1260.9 771.2 1257.8 759.5 1253.9 751.8M1264.8 884.0 1271.4 878.2 1278.0 884.0 1275.3 889.9 1267.5 888.7zM1286.9 895.7 1294.7 893.8 1299.8 901.6 1294.7 906.6 1288.9 901.6zM1294.7 956.0 1302.5 953.3 1304.5 959.9 1298.6 963.0 1294.7 959.9zM1185.8 864.6 1193.5 859.9 1199.4 864.6 1198.6 871.6 1189.7 870.4zM1209.1 878.2 1222.7 877.0 1225.8 887.9 1216.9 886.0zM971.7 831.5 975.6 829.6 991.2 841.2 999.0 849.0 997.0 851.0 981.5 843.2 972.9 835.4zM1026.2 884.0 1034.0 880.9 1045.7 891.8 1054.6 903.5 1053.4 915.2 1049.6 917.1 1041.8 905.4 1032.0 893.8zM1081.9 977.4 1090.4 973.5 1096.3 985.2 1106.0 1000.8 1100.1 1006.6 1090.4 1000.8 1084.6 989.1zM1329.8 1187.5 1339.5 1186.8 1347.3 1179.8 1353.1 1168.1 1362.8 1162.3 1374.5 1164.2 1390.1 1162.3 1401.7 1161.1 1409.5 1164.2 1413.4 1171.2 1429.0 1172.0 1444.6 1175.9 1452.3 1187.5 1458.2 1194.6 1475.7 1195.3 1503.7 1197.3M1329.8 1187.5 1333.6 1193.4 1351.2 1195.3 1366.7 1199.2 1378.4 1203.1 1372.6 1210.9 1382.3 1216.7 1397.9 1220.6 1413.4 1222.6 1432.9 1228.4 1452.3 1232.3 1460.1 1226.5 1475.7 1227.2 1491.3 1229.6 1503.7 1230.3M1503.7 1197.3 1515.4 1195.3 1525.1 1189.5 1532.9 1179.8 1540.7 1179.8 1550.4 1189.5 1562.1 1187.5 1581.5 1193.4 1597.1 1197.3 1604.9 1205.1 1610.7 1212.8 1616.6 1216.7 1632.1 1222.6 1647.7 1226.5 1667.2 1228.4 1671.8 1249.8 1674.9 1269.3 1659.4 1261.5 1639.9 1255.6 1620.5 1251.7 1601.0 1253.7 1581.5 1249.8 1569.9 1253.7 1550.4 1247.9 1530.9 1242.0 1515.4 1236.2 1503.7 1230.3M1608.8 1203.1 1620.5 1199.2 1636.0 1197.3 1653.5 1198.4 1656.3 1205.1 1639.9 1210.9 1620.5 1208.9zM1675.7 1245.1 1690.5 1242.8 1706.1 1242.0 1715.8 1249.8 1717.0 1257.6 1706.1 1261.5 1702.2 1271.2 1694.4 1261.5 1682.7 1255.6zM1733.3 1253.7 1741.1 1249.0 1752.8 1249.0 1756.7 1257.6 1752.8 1273.2 1737.2 1275.1 1728.6 1273.2zM1704.1 1195.3 1713.9 1193.4 1715.8 1199.2 1706.1 1203.1zM1988.2 1347.1 1999.9 1339.3 2009.6 1334.2 2007.7 1341.2 1996.0 1350.2zM1503.7 872.4 1493.2 866.5 1491.3 860.7 1479.6 868.5 1469.8 887.9 1466.0 907.4 1467.9 926.8 1471.8 942.4 1475.7 958.0 1487.4 965.8 1495.1 977.4 1503.7 989.1M1503.7 989.1 1507.6 1008.6 1513.4 1028.0 1517.3 1049.4 1534.8 1053.3 1554.3 1051.4 1566.0 1047.5 1569.9 1043.6 1577.6 1070.8 1593.2 1066.9 1612.7 1061.1 1620.5 1055.3 1632.1 1061.1 1639.9 1059.1 1647.7 1066.9 1659.4 1065.0 1671.0 1070.8 1678.8 1082.5 1682.7 1096.1 1698.3 1090.3 1713.9 1082.5 1729.4 1074.7 1734.1 1063.0 1737.2 1059.1 1740.3 1051.4 1739.1 1039.7 1746.9 1035.8 1750.8 1024.1 1745.0 1008.6 1752.8 1000.8 1766.8 988.7M1734.1 1063.0 1739.1 1061.1 1743.0 1074.7 1740.3 1090.3 1736.4 1091.0 1734.1 1074.7zM1503.7 872.4 1523.2 874.3 1546.5 878.2 1552.3 852.9 1558.2 851.0 1566.0 833.5 1581.5 829.6 1602.9 827.6 1616.6 816.0 1632.1 798.4 1647.7 782.9 1655.5 765.4 1674.9 757.6 1690.5 751.8 1708.0 751.8M1708.0 751.8 1710.0 741.2 1721.6 731.5 1731.4 712.1 1741.1 700.4 1752.8 684.8 1758.6 679.0 1760.5 688.7 1768.3 679.0 1776.1 684.8 1782.0 692.6 1791.7 696.5 1793.6 716.0 1805.3 719.8 1807.2 727.6 1815.0 723.7 1834.5 733.5 1850.1 743.2 1852.0 751.8M1852.0 751.8 1826.7 753.7 1818.9 759.5 1826.7 771.2 1811.1 777.0 1793.6 779.0 1787.8 788.7M1787.3 790.1 1796.8 794.2 1798.2 801.0 1785.9 802.3 1776.4 807.8 1785.9 816.0 1783.2 821.4 1791.4 828.2 1799.5 841.8 1807.1 854.9 1800.9 863.6 1810.4 874.5 1821.3 885.4 1832.2 896.3 1841.7 904.4 1834.9 907.7 1821.3 909.1 1811.8 905.8 1807.7 900.3 1803.6 909.9 1796.8 918.0 1791.4 931.7 1788.6 945.3 1785.9 958.9 1780.5 972.5 1773.7 983.4 1766.9 988.8M2070.4 875.3 2075.1 878.6 2075.9 886.7 2071.3 897.6 2063.6 908.5 2054.1 918.0 2041.8 925.7 2025.5 928.4 2006.5 927.6 1990.1 924.0 1973.8 922.9 1954.7 924.8 1941.1 920.8 1927.5 922.7 1911.2 922.7 1898.9 924.8 1890.7 934.4 1886.7 948.0 1886.1 964.3 1892.1 973.8 1898.9 977.9 1903.0 984.7 1908.4 992.9 1923.4 991.5 1930.2 982.0 1941.1 973.8 1954.7 975.2 1962.9 969.8 1973.8 968.4 1987.4 967.0 1992.8 962.1 2002.4 960.8 2009.2 963.0 2011.1 969.8 2009.2 976.6 2001.0 973.8 1992.8 975.2 1984.7 980.7 1976.5 990.2 1965.6 998.3 1954.7 1005.2 1941.1 1010.6 1933.5 1008.7 1934.3 1016.0 1943.8 1021.5 1952.0 1032.4 1960.2 1046.0 1967.0 1055.5 1971.1 1061.8 1965.6 1067.8 1967.0 1078.7 1975.1 1085.5 1979.2 1095.0 1986.0 1097.2 1987.4 1104.5 1979.2 1107.2 1968.3 1108.6 1961.5 1114.0 1957.4 1120.9 1952.0 1122.8 1943.8 1121.7 1939.7 1111.3 1939.7 1097.7 1934.3 1089.5 1924.8 1082.7 1918.0 1070.5 1922.0 1058.2 1920.7 1046.0 1916.6 1039.2 1908.4 1039.2 1900.3 1044.6 1893.5 1052.8 1891.6 1058.2 1896.2 1065.0 1897.0 1089.5 1896.2 1105.9 1898.9 1116.8 1894.8 1127.7 1893.5 1141.3 1896.2 1149.4 1886.7 1151.6 1877.1 1153.5 1863.5 1150.8 1858.1 1141.3 1860.8 1130.4 1864.9 1116.8 1867.6 1103.2 1869.0 1092.3 1864.9 1081.4 1863.5 1070.5 1855.3 1071.3 1845.8 1070.5 1841.7 1059.6 1839.0 1047.4 1841.7 1036.5 1848.5 1024.2 1854.0 1010.6 1856.7 997.0 1858.1 986.1 1862.1 977.9 1867.6 968.4 1873.0 963.0 1874.4 969.8 1875.8 956.2 1875.2 946.6 1870.3 943.9 1875.8 937.1 1877.1 926.2 1879.8 916.7 1889.4 906.6 1894.8 908.5 1901.6 905.8 1908.4 903.1 1909.8 894.9 1915.2 890.8 1927.5 890.3 1934.3 892.2 1935.7 896.8 1946.6 899.0 1962.9 899.0 1976.5 901.7 1988.8 906.6 2001.0 903.9 2014.6 905.8 2028.2 905.8 2036.4 903.1 2044.6 896.3 2052.7 888.1 2060.9 879.9 2066.4 875.8zM1986.8 987.5 1992.8 983.9 1998.8 984.7 1996.9 992.9 1992.8 998.3 1987.4 998.3zM2001.6 990.2 2007.8 987.5 2012.7 990.2 2011.9 998.3 2007.8 997.0 2005.1 999.7 2001.6 995.6zM2044.6 1003.8 2060.9 1003.2 2077.2 1006.5 2069.1 1010.1 2059.5 1012.0 2052.7 1016.0 2047.3 1012.0zM2082.7 1007.3 2116.7 1007.1 2107.2 1010.1 2088.1 1013.3zM2102.3 1014.7 2104.5 1013.9 2107.2 1031.8 2104.5 1028.3zM2107.2 1058.2 2118.1 1055.5 2130.3 1053.6 2139.9 1058.2 2150.8 1063.7 2152.1 1071.9 2148.0 1080.0 2137.1 1085.5 2124.9 1083.6 2115.4 1075.9 2109.4 1066.4zM2178.5 1073.2 2178.0 1062.3 2182.1 1055.5 2190.2 1048.7 2202.5 1049.3 2216.1 1048.7 2227.0 1047.4 2237.9 1046.0 2251.5 1051.4 2267.8 1052.8 2276.0 1054.2 2281.4 1065.0 2286.9 1075.9 2284.2 1085.5 2276.0 1081.4 2265.1 1075.9 2251.5 1070.5 2237.9 1066.4 2236.5 1070.5 2224.3 1067.8 2213.4 1063.7 2202.5 1070.5 2191.6 1065.0 2184.8 1067.8zM2180.7 1078.7 2187.5 1073.2 2193.0 1073.2 2190.2 1080.8 2182.1 1083.6zM2157.6 995.6 2167.1 991.5 2180.7 994.8 2187.5 1001.1 2175.3 1005.2 2161.6 1005.2 2157.6 999.7zM2156.2 954.8 2163.0 952.9 2168.5 964.3 2175.3 969.8 2172.5 972.5 2163.0 970.3 2158.9 961.6zM2180.7 855.4 2182.1 860.9 2176.6 869.0 2179.3 877.2 2181.3 885.4 2178.0 894.9 2171.2 901.7 2167.1 905.8 2169.8 908.5 2178.0 904.4 2186.2 896.3 2190.2 888.1 2197.0 883.2 2203.9 883.2 2207.9 889.5 2207.4 899.0 2199.8 905.8 2192.1 911.2 2198.4 916.7 2205.2 923.5 2207.4 928.9 2212.0 931.1 2203.9 930.3 2195.7 923.5 2188.9 918.0 2184.8 920.8 2180.7 926.2 2179.3 938.5 2182.1 950.7 2187.5 961.6 2194.9 972.5 2191.6 973.8 2183.4 964.3 2176.6 953.4 2172.5 939.8 2169.8 926.2 2165.7 912.6 2160.3 903.1 2156.7 894.9 2158.9 882.6 2163.0 871.8 2169.8 862.2 2176.6 856.8zM2193.0 844.5 2201.1 839.9 2205.8 845.9 2204.7 856.8 2199.8 863.0 2193.0 861.4 2191.6 851.3zM2083.2 800.4 2086.0 801.0 2092.8 814.6 2090.9 814.0zM2247.4 1010.1 2259.7 1005.2 2270.6 1006.5 2271.1 1016.0 2261.0 1018.8 2252.9 1015.5zM2270.0 945.8 2281.4 942.0 2295.1 945.8 2296.4 955.6 2281.4 953.4 2273.3 950.7zM1760.0 1263.8 1766.9 1261.1 1777.7 1255.6 1788.6 1257.0 1799.5 1263.8 1813.1 1262.4 1805.0 1252.9 1799.5 1247.4 1805.0 1244.2 1814.5 1250.2 1825.4 1250.2 1832.2 1252.9 1839.0 1243.4 1845.8 1252.9 1848.5 1265.1 1840.4 1263.8 1839.0 1269.2 1822.7 1266.5 1815.9 1270.6 1802.2 1276.0 1787.3 1280.1 1775.0 1281.5 1766.9 1280.1 1758.7 1273.3zM1874.4 1259.7 1886.7 1252.9 1903.0 1249.6 1919.3 1252.9 1935.7 1261.1 1954.7 1257.8 1968.3 1259.7 1981.9 1252.9 1988.8 1243.4 1992.8 1250.2 1991.5 1259.7 1981.9 1266.5 1968.3 1270.6 1954.7 1269.2 1941.1 1273.3 1926.1 1277.4 1913.9 1274.7 1900.3 1271.9 1886.7 1270.6 1875.8 1270.6zM2007.8 1249.6 2013.3 1254.3 2021.4 1248.8 2022.8 1252.9 2016.0 1261.1 2006.5 1262.4zM2029.6 1252.9 2040.5 1249.6 2039.1 1261.1 2032.3 1258.3zM2048.7 1248.8 2069.1 1247.4 2071.8 1252.9 2062.3 1257.0 2050.0 1256.2zM2100.4 1232.5 2111.3 1228.9 2129.0 1222.9 2137.1 1228.4 2126.3 1236.6 2112.6 1240.6 2103.1 1242.0 2099.6 1236.6zM2017.3 1318.2 2018.7 1304.6 2025.5 1293.7 2039.1 1284.2 2055.5 1274.7 2074.5 1266.5 2093.6 1263.8 2109.9 1261.1 2131.7 1257.0 2146.7 1254.3 2152.1 1258.9 2148.0 1269.2 2131.7 1277.4 2112.6 1284.2 2093.6 1291.0 2077.2 1296.4 2071.8 1293.7 2066.4 1304.6 2059.5 1316.0 2050.0 1326.4 2036.4 1334.6 2022.8 1331.8zM1845.8 1299.2 1856.7 1292.4 1875.8 1291.0 1879.8 1288.3 1886.7 1296.4 1900.3 1306.0 1908.4 1314.1 1913.9 1320.9 1909.8 1327.8 1897.5 1328.6 1883.9 1323.7 1867.6 1316.0 1859.4 1312.8 1849.9 1307.3zM2201.1 1208.5 2205.8 1208.0 2206.6 1212.6 2202.5 1213.4zM2242.0 1235.7 2250.1 1235.2 2246.6 1242.5zM1990.7 1103.2 1995.6 1105.9 2000.5 1118.1 1996.9 1127.7 1999.6 1141.3 1984.7 1153.5 1980.6 1149.4 1981.9 1138.6 1986.0 1124.9 1987.9 1114.0zM1968.3 1118.1 1980.6 1114.0 1983.3 1127.7 1979.2 1141.3 1975.1 1142.6 1967.8 1140.7zM1949.8 1134.5 1954.7 1132.6 1959.6 1138.6 1957.4 1145.4 1953.4 1144.0zM1993.4 1089.5 1998.3 1089.0 2001.6 1095.0 1999.6 1100.4 1995.0 1097.7zM2707.0 1049.5 2694.8 1044.3 2680.8 1039.7 2666.8 1036.2 2663.3 1037.3 2662.1 1033.8 2652.8 1029.9 2643.5 1026.8 2629.5 1027.5 2615.4 1022.2 2601.4 1014.0 2587.4 1007.0 2573.4 1001.2 2559.4 997.7 2552.9 992.5 2540.7 1000.0 2527.9 1008.9 2526.7 1016.8 2517.4 1021.0 2505.7 1023.3 2498.7 1025.7 2494.1 1035.0 2487.1 1044.3 2480.0 1051.3 2473.0 1056.0 2467.2 1063.0 2459.0 1067.7 2450.9 1066.5 2443.9 1060.7 2439.2 1051.3 2435.7 1042.0 2432.2 1037.3 2426.4 1035.5 2424.0 1044.3 2419.3 1037.3 2415.8 1029.2 2412.8 1016.3 2411.9 1004.7 2415.1 995.3 2411.9 983.6 2407.7 969.6 2396.0 969.6 2384.3 969.6 2375.0 963.8 2365.7 956.8 2356.3 953.3 2345.8 953.3 2336.5 956.8 2326.0 965.0 2317.8 968.5 2306.1 970.8 2300.3 976.6 2295.6 986.0 2292.1 991.8 2298.0 994.9 2305.0 998.1 2306.1 994.2 2317.8 997.7 2326.0 1003.5 2330.6 1011.7 2335.3 1019.8 2343.5 1025.7 2349.3 1025.7 2358.7 1024.5 2377.3 1022.2 2391.3 1019.8 2403.0 1017.5 2401.8 1025.7 2398.3 1033.8 2391.3 1036.2 2377.3 1033.8 2368.0 1037.3 2356.3 1042.0 2344.6 1041.5 2335.3 1043.2 2330.6 1047.8 2333.0 1051.3 2344.6 1052.5 2354.0 1058.3 2359.8 1066.5 2362.9 1066.5 2363.8 1079.3 2366.8 1091.0 2370.3 1095.7 2383.2 1093.8 2390.2 1086.4 2396.0 1074.7 2399.5 1065.3 2402.3 1051.3 2403.0 1058.3 2399.5 1067.7 2400.7 1075.8 2407.7 1080.5 2412.3 1086.4 2419.3 1091.0 2421.7 1094.5 2423.6 1089.9 2434.5 1090.6 2436.9 1098.0 2442.7 1103.2 2449.7 1106.9 2466.0 1109.7 2480.0 1112.0 2494.1 1115.5 2508.1 1120.2 2520.9 1126.0 2533.7 1129.5 2545.4 1135.4 2557.1 1142.4 2565.3 1145.9 2569.9 1154.0 2573.9 1158.7 2574.6 1168.0 2579.3 1179.7 2586.3 1187.9 2585.1 1196.1 2583.9 1201.9 2579.3 1201.4 2587.4 1207.7 2595.6 1210.1 2590.9 1214.7 2597.2 1221.7 2596.8 1225.2 2587.4 1218.2 2578.1 1217.1 2568.8 1220.6 2561.8 1228.7 2555.9 1240.4 2551.2 1250.9 2552.4 1257.2 2566.4 1256.7 2582.8 1254.4 2592.1 1252.1 2594.0 1246.2 2596.8 1250.9 2601.4 1246.2 2613.1 1247.4 2624.8 1243.9 2633.0 1242.7 2641.1 1252.1 2652.8 1264.9 2662.1 1273.1 2673.8 1281.3 2683.1 1284.8 2692.5 1284.8 2699.5 1287.1 2707.0 1287.1M2269.9 945.1 2274.6 942.1 2282.1 941.6 2293.3 946.8 2303.8 952.1 2296.8 954.5 2288.6 956.8 2279.3 952.8 2271.1 949.8zM2282.1 977.8 2289.8 974.3 2293.8 977.8 2293.3 988.3 2286.3 988.3zM2459.5 966.1 2467.2 966.1 2475.4 969.6 2483.5 974.3 2490.6 980.1 2494.1 983.6 2483.5 985.5 2476.5 980.1 2468.4 973.1zM2466.0 1000.0 2473.0 999.5 2489.4 1002.8 2503.4 1004.7 2512.7 1006.5 2513.9 1010.5 2503.4 1011.7 2489.4 1008.9 2475.4 1004.7 2467.2 1002.3zM2371.5 1142.4 2375.0 1140.5 2376.2 1142.4 2372.7 1152.9 2369.9 1154.0zM2419.3 1155.2 2424.0 1145.9 2428.7 1144.7 2433.4 1147.0 2435.7 1156.4 2434.5 1165.7 2435.7 1173.9 2431.0 1179.7 2427.5 1185.6 2422.9 1196.1 2419.3 1200.7 2414.7 1201.2 2410.5 1196.1 2410.5 1189.1 2414.7 1182.1 2413.5 1175.1 2417.0 1168.0 2422.9 1161.0 2419.3 1158.7zM2316.2 1208.2 2321.3 1211.2 2320.1 1224.1 2314.3 1234.6 2308.5 1241.6 2302.6 1239.2 2300.3 1232.2 2302.6 1224.1 2308.5 1218.2 2313.1 1211.2zM2706.6 1049.5 2715.9 1053.9 2729.9 1059.8 2743.9 1063.7 2757.9 1066.8 2771.9 1072.6 2785.9 1078.4 2795.3 1081.5 2802.3 1081.9 2809.3 1088.9 2816.3 1095.9 2825.6 1102.9 2835.0 1108.8 2843.1 1114.6 2850.1 1122.8 2854.8 1131.0 2856.0 1140.3 2859.5 1146.8 2867.6 1150.8 2879.3 1155.5 2891.0 1160.1 2902.7 1163.2 2914.3 1164.8 2922.5 1168.3 2929.5 1175.3 2933.0 1182.3 2931.8 1191.6 2923.7 1192.8 2916.7 1195.1 2906.2 1196.3 2902.2 1199.8 2906.2 1208.0 2909.7 1217.3 2915.5 1224.3 2923.7 1231.3 2933.0 1238.3 2940.0 1243.0 2944.7 1248.8 2945.9 1257.0 2951.7 1264.0 2957.5 1271.0 2965.7 1281.5 2973.9 1280.3 2982.0 1279.2 2984.4 1285.0 2984.4 1293.2 2989.0 1299.0 2998.4 1300.2 3010.1 1302.5 3013.6 1304.9 3007.7 1308.4 3006.5 1313.0 3014.7 1317.7 3028.7 1322.4 3040.4 1324.7 3046.2 1326.3 3042.7 1329.4 3033.4 1330.5 3026.4 1332.9 3036.9 1334.0 3033.4 1339.9 3025.2 1342.2 3017.1 1339.9 3013.6 1336.4 3011.2 1331.7 2996.0 1329.4 2977.4 1325.9 2958.7 1323.5 2942.4 1321.9 2931.8 1318.9 2923.7 1310.7 2915.5 1302.5 2907.3 1295.5 2900.3 1289.7 2898.0 1282.7 2887.5 1280.3 2881.7 1272.2 2875.8 1261.7 2871.1 1252.3 2865.3 1246.5 2853.6 1241.8 2842.0 1238.3 2830.3 1233.7 2818.6 1228.5 2815.1 1224.3 2809.3 1225.5 2803.4 1222.0 2797.6 1227.8 2790.6 1230.2 2783.6 1227.8 2778.9 1224.3 2781.3 1232.5 2783.1 1240.2 2774.3 1241.8 2767.3 1244.2 2766.1 1248.8 2757.9 1252.3 2749.8 1254.7 2754.4 1260.5 2759.1 1268.7 2761.4 1276.8 2753.3 1281.5 2743.9 1287.3 2736.9 1289.2 2725.2 1286.2 2713.6 1286.2 2706.6 1286.9M2691.4 1427.9 2694.9 1415.7 2691.4 1414.6 2693.7 1404.1 2694.4 1394.7 2701.9 1390.1 2706.6 1373.7 2714.7 1359.7 2715.9 1352.7 2725.2 1348.0 2729.9 1342.2 2733.4 1344.5 2734.6 1355.0 2735.7 1369.0 2736.9 1383.0 2740.4 1387.7 2745.1 1390.1 2747.4 1401.7 2753.3 1413.4 2757.9 1425.1 2760.3 1427.9M2883.5 1014.7 2891.0 1016.6 2902.7 1015.4 2900.3 1022.4 2893.3 1022.4 2886.3 1024.8 2883.5 1020.1zM2994.4 989.7 2997.9 989.0 3002.6 997.9 3000.2 999.8 2994.9 993.2zM2900.8 1138.0 2905.0 1136.8 2909.0 1142.6 2905.5 1146.1 2902.0 1143.1zM2929.5 1148.5 2934.2 1147.3 2941.2 1155.5 2939.5 1159.0 2934.2 1155.5zM3031.8 1292.0 3039.2 1290.8 3046.2 1295.5 3048.6 1303.7 3040.4 1303.7 3033.4 1301.4zM3043.9 1308.4 3052.1 1314.2 3060.2 1314.2 3059.1 1320.0 3052.1 1319.6 3046.2 1313.0zM2949.4 1146.1 2952.9 1145.0 2965.7 1146.8 2982.0 1148.5 2996.0 1147.3 3007.7 1145.0 3011.2 1138.0 3013.6 1132.1 3018.2 1129.8 3014.7 1136.8 3014.7 1142.6 3020.6 1146.1 3028.7 1147.3 3038.1 1147.3 3046.2 1145.0 3054.4 1138.0 3061.4 1128.6 3070.7 1125.1 3076.6 1121.6 3075.4 1112.3 3071.9 1104.1 3074.2 1099.4 3082.9 1098.3 3088.1 1098.1 3095.4 1099.0 3100.6 1104.8 3102.7 1112.1 3100.6 1122.3 3093.9 1128.2 3091.0 1135.5 3093.0 1141.3 3088.1 1149.5 3082.9 1148.5 3075.4 1149.6 3071.9 1156.6 3066.1 1163.6 3054.4 1169.5 3040.4 1174.1 3024.1 1176.5 3010.1 1177.6 3001.9 1177.6 2993.7 1170.6 2987.9 1170.2 2982.0 1172.5 2972.7 1166.0 2961.0 1160.1 2952.9 1154.3zM3012.2 1031.8 3019.5 1030.4 3026.8 1031.0 3028.8 1039.1 3020.9 1041.5 3015.1 1037.7zM3043.4 1037.1 3054.5 1043.5 3069.1 1053.7 3079.3 1061.0 3086.6 1061.9 3095.4 1068.3 3104.1 1075.6 3112.9 1084.4 3123.1 1087.3 3127.5 1094.6 3131.9 1103.4 3128.9 1110.7 3124.6 1119.4 3118.7 1119.4 3116.4 1110.7 3112.9 1097.5 3108.5 1085.8 3102.7 1077.1 3092.4 1069.8 3085.1 1068.3 3074.9 1061.0 3061.8 1052.3 3050.1 1045.6 3043.4 1043.5zM3182.9 1125.3 3185.3 1124.4 3187.3 1139.8 3185.3 1140.7zM3189.4 1144.2 3199.0 1145.7 3206.3 1155.9 3216.5 1166.1 3225.3 1174.0 3234.0 1181.6 3236.1 1189.5 3231.1 1193.8 3223.8 1196.2 3216.5 1193.8 3210.7 1187.4 3207.8 1176.3 3200.5 1169.0 3193.2 1160.3 3189.4 1151.5zM3255.3 1186.5 3258.3 1185.7 3266.2 1193.3 3276.4 1198.2 3285.1 1204.9 3292.4 1208.4 3293.9 1213.7 3288.0 1214.9 3276.4 1209.9 3267.6 1202.6 3260.3 1193.8zM3256.5 1222.5 3260.3 1221.6 3266.2 1229.5 3264.7 1236.2 3259.4 1230.3zM3273.4 1233.3 3277.8 1232.4 3281.6 1240.5 3277.8 1244.1 3274.0 1239.1zM3283.7 1240.5 3292.4 1239.1 3298.3 1247.8 3304.1 1250.8 3306.1 1259.5 3301.2 1259.5 3295.3 1252.2 3288.0 1249.3 3283.7 1244.9zM3283.7 1257.5 3288.0 1256.6 3289.5 1262.4 3286.6 1263.9zM3308.5 1261.6 3313.7 1260.4 3315.8 1265.4 3311.4 1266.8zM3331.8 1221.6 3336.2 1221.6 3346.4 1228.3 3358.1 1234.7 3369.8 1240.5 3380.0 1247.8 3381.5 1256.6 3375.6 1255.1 3363.9 1248.7 3352.3 1242.0 3340.6 1234.7 3334.8 1227.4zM3414.2 1253.7 3418.0 1252.8 3422.3 1259.5 3426.7 1271.2 3432.6 1280.0 3436.9 1288.7 3445.7 1293.1 3447.2 1301.3 3442.8 1296.6 3434.0 1293.1 3426.7 1284.3 3420.9 1274.1 3416.5 1263.9zM3392.6 1277.0 3397.5 1275.6 3403.4 1280.8 3400.4 1283.8 3394.6 1281.4zM3371.2 1288.7 3375.6 1287.3 3384.4 1290.8 3396.1 1291.6 3404.8 1296.0 3413.6 1301.3 3420.0 1304.8 3418.8 1312.9 3410.7 1311.2 3399.0 1308.3 3387.3 1310.0 3378.5 1306.2 3372.7 1298.9zM3438.4 1325.8 3445.7 1324.6 3457.4 1329.6 3467.6 1334.0 3472.0 1341.3 3475.8 1345.0 3472.0 1348.6 3461.7 1345.0 3453.0 1339.8 3447.2 1332.5zM3379.1 1383.6 3387.3 1382.1 3394.6 1385.0 3396.1 1389.4 3387.3 1386.5zM3110.0 1277.0 3116.4 1281.4 3124.0 1284.9 3123.1 1289.6 3117.3 1287.8 3112.3 1281.4zM2071.4 1506.8 2073.1 1490.2 2091.3 1486.9 2093.0 1492.5 2102.9 1473.7 2101.2 1467.0 2106.2 1468.7 2108.5 1472.7 2116.2 1472.0 2131.1 1460.4 2141.0 1462.7 2154.3 1468.7 2167.5 1481.9 2179.1 1491.9 2184.1 1506.8M2186.7 1506.8 2194.0 1498.5 2207.3 1499.2 2220.5 1500.2 2227.1 1506.8M2238.7 1506.8 2243.0 1498.5 2235.4 1490.2 2228.8 1481.9 2233.8 1470.3 2242.0 1462.1 2247.0 1451.5 2258.6 1449.5 2265.2 1442.2 2263.6 1437.2 2258.6 1434.9 2260.9 1423.0 2266.9 1419.0 2275.2 1415.7 2276.8 1411.7 2285.1 1413.0 2288.4 1420.7 2290.1 1405.7 2300.0 1402.4 2301.7 1405.1 2313.3 1402.4 2326.5 1404.1 2339.8 1400.8 2349.7 1395.8 2351.4 1379.2 2348.1 1375.9 2341.4 1375.9 2331.5 1375.3 2329.8 1369.3 2321.6 1366.0 2318.2 1366.0 2324.9 1367.7 2328.2 1372.6 2329.8 1362.7 2333.2 1366.0 2336.5 1363.3 2344.7 1367.7 2353.0 1375.9 2358.0 1371.0 2363.0 1377.6 2369.6 1381.9 2386.2 1385.9 2392.8 1383.2 2394.4 1387.5 2409.4 1393.2 2425.9 1395.1 2430.9 1393.2 2435.9 1397.5 2447.5 1402.4 2459.0 1395.8 2472.3 1393.2 2474.0 1400.8 2477.3 1399.1 2478.9 1413.0 2485.6 1411.7 2488.9 1397.5 2493.8 1390.8 2498.1 1395.8 2498.8 1405.7 2505.4 1401.8 2512.1 1404.1 2508.7 1415.7 2501.5 1422.3 2500.5 1432.2 2493.8 1437.2 2487.2 1435.6 2485.6 1445.5 2482.2 1440.5 2476.3 1455.4 2480.6 1457.1 2477.3 1472.0 2472.3 1485.2 2467.3 1498.5 2464.0 1506.8M2265.2 1363.3 2273.5 1367.7 2283.5 1368.6 2293.4 1366.0 2303.3 1363.3 2307.3 1369.3 2305.0 1377.6 2296.7 1384.2 2290.1 1387.5 2280.1 1382.6 2271.9 1374.3zM2255.3 1384.2 2258.6 1372.6 2261.9 1369.3 2266.9 1377.6 2270.9 1385.2 2255.3 1385.9zM2496.2 1468.7 2498.8 1458.7 2502.8 1462.1 2504.8 1457.1 2510.4 1459.4 2512.1 1473.7 2505.4 1478.6 2498.8 1477.0zM2497.1 1372.6 2500.5 1359.4 2503.8 1357.7 2502.1 1366.0 2498.1 1374.3zM2691.4 1428.0 2688.3 1452.1 2685.6 1475.5 2686.7 1506.6M2760.3 1428.0 2765.4 1448.2 2771.2 1467.7 2777.0 1479.4 2784.8 1483.3 2796.5 1476.3 2802.3 1478.6 2810.1 1491.0 2819.8 1500.8 2825.7 1506.6M2134.5 768.7 2137.5 769.8 2139.0 785.6 2136.0 786.3zM1877.0 749.9 1881.5 746.5 1886.0 748.0 1883.4 751.8z" fill="none" stroke="#000" stroke-width="2.6" stroke-linejoin="round" stroke-linecap="round"/><g fill="#000"><circle cx="1653.5" cy="104.3" r="1.6"/><circle cx="2106.9" cy="567.3" r="1.6"/><circle cx="2831.5" cy="189.5" r="1.6"/><circle cx="2852.9" cy="258.8" r="1.6"/><circle cx="2847.9" cy="375.5" r="1.7"/><circle cx="2564.9" cy="580.9" r="1.6"/><circle cx="3154.1" cy="24.5" r="1.6"/><circle cx="3087.2" cy="672.0" r="1.6"/><circle cx="3145.6" cy="728.4" r="1.6"/><circle cx="3498.5" cy="739.3" r="1.7"/><circle cx="82.5" cy="504.7" r="1.6"/><circle cx="102.0" cy="500.0" r="1.6"/><circle cx="112.9" cy="507.8" r="1.6"/><circle cx="79.8" cy="518.7" r="1.6"/><circle cx="104.3" cy="517.5" r="1.6"/><circle cx="83.7" cy="530.0" r="1.6"/><circle cx="81.7" cy="533.1" r="1.6"/><circle cx="95.3" cy="535.0" r="1.6"/><circle cx="100.4" cy="542.8" r="1.6"/><circle cx="138.9" cy="533.1" r="1.6"/><circle cx="87.6" cy="560.3" r="1.6"/><circle cx="137.4" cy="560.3" r="1.6"/><circle cx="115.6" cy="628.4" r="1.6"/><circle cx="110.1" cy="675.1" r="1.6"/><circle cx="112.9" cy="679.0" r="1.6"/><circle cx="120.6" cy="680.9" r="1.6"/><circle cx="118.7" cy="688.7" r="1.6"/><circle cx="102.0" cy="698.4" r="1.6"/><circle cx="116.0" cy="700.4" r="1.6"/><circle cx="120.6" cy="704.3" r="1.6"/><circle cx="123.8" cy="706.2" r="1.6"/><circle cx="110.9" cy="716.0" r="1.6"/><circle cx="112.9" cy="721.8" r="1.6"/><circle cx="128.4" cy="716.7" r="1.6"/><circle cx="130.4" cy="727.6" r="1.6"/><circle cx="126.5" cy="733.5" r="1.6"/><circle cx="116.7" cy="741.2" r="1.6"/><circle cx="128.4" cy="735.4" r="1.6"/><circle cx="136.2" cy="736.6" r="1.6"/><circle cx="116.7" cy="749.0" r="1.6"/><circle cx="112.9" cy="755.6" r="1.6"/><circle cx="128.4" cy="753.7" r="1.6"/><circle cx="127.6" cy="767.3" r="1.6"/><circle cx="139.3" cy="773.2" r="1.6"/><circle cx="112.9" cy="779.0" r="1.6"/><circle cx="132.3" cy="782.9" r="1.6"/><circle cx="102.3" cy="789.9" r="1.6"/><circle cx="131.5" cy="790.7" r="1.6"/><circle cx="102.0" cy="799.2" r="1.6"/><circle cx="107.0" cy="808.2" r="1.6"/><circle cx="140.9" cy="810.1" r="1.6"/><circle cx="128.4" cy="817.1" r="1.6"/><circle cx="112.9" cy="823.7" r="1.6"/><circle cx="134.3" cy="829.6" r="1.6"/><circle cx="109.0" cy="838.1" r="1.6"/><circle cx="114.8" cy="835.4" r="1.6"/><circle cx="124.5" cy="849.0" r="1.6"/><circle cx="110.9" cy="852.9" r="1.6"/><circle cx="116.7" cy="857.6" r="1.6"/><circle cx="125.3" cy="909.3" r="1.6"/><circle cx="118.7" cy="909.3" r="1.6"/><circle cx="112.1" cy="923.0" r="1.6"/><circle cx="132.3" cy="923.0" r="1.6"/><circle cx="116.7" cy="930.7" r="1.6"/><circle cx="124.5" cy="931.5" r="1.6"/><circle cx="129.6" cy="951.4" r="1.6"/><circle cx="119.5" cy="963.8" r="1.6"/></g></g><g fill="none" stroke="#000"><rect x="298.3" y="1130.0" width="3571.3" height="1503.5" stroke-width="1.2"/><path d="M1050.2 2633.5v50M1050.2 1130.0v-50M2177.9 2633.5v50M2177.9 1130.0v-50M3305.7 2633.5v50M3305.7 1130.0v-50M298.3 2445.6h-50M3869.6 2445.6h50M298.3 2069.7h-50M3869.6 2069.7h50M298.3 1693.8h-50M3869.6 1693.8h50M298.3 1317.9h-50M3869.6 1317.9h50" stroke-width="1.4"/><path d="M298.3 2633.5v25M298.3 1130.0v-25M674.2 2633.5v25M674.2 1130.0v-25M1426.1 2633.5v25M1426.1 1130.0v-25M1802.0 2633.5v25M1802.0 1130.0v-25M2553.9 2633.5v25M2553.9 1130.0v-25M2929.8 2633.5v25M2929.8 1130.0v-25M3681.6 2633.5v25M3681.6 1130.0v-25M298.3 2595.9h-25M3869.6 2595.9h25M298.3 2520.7h-25M3869.6 2520.7h25M298.3 2370.4h-25M3869.6 2370.4h25M298.3 2295.2h-25M3869.6 2295.2h25M298.3 2220.0h-25M3869.6 2220.0h25M298.3 2144.9h-25M3869.6 2144.9h25M298.3 1994.5h-25M3869.6 1994.5h25M298.3 1919.3h-25M3869.6 1919.3h25M298.3 1844.2h-25M3869.6 1844.2h25M298.3 1769.0h-25M3869.6 1769.0h25M298.3 1618.6h-25M3869.6 1618.6h25M298.3 1543.5h-25M3869.6 1543.5h25M298.3 1468.3h-25M3869.6 1468.3h25M298.3 1393.1h-25M3869.6 1393.1h25M298.3 1242.8h-25M3869.6 1242.8h25M298.3 1167.6h-25M3869.6 1167.6h25" stroke-width="1.0" stroke="#444"/></g><rect x="767.4" y="2800.7" width="220.0" height="134.1" fill="#fff7fb"/><rect x="986.9" y="2800.7" width="220.0" height="134.1" fill="#f1ebf5"/><rect x="1206.4" y="2800.7" width="220.0" height="134.1" fill="#e0dded"/><rect x="1425.9" y="2800.7" width="220.0" height="134.1" fill="#c9cee4"/><rect x="1645.4" y="2800.7" width="220.0" height="134.1" fill="#a9bfdc"/><rect x="1864.9" y="2800.7" width="220.0" height="134.1" fill="#86b0d3"/><rect x="2084.4" y="2800.7" width="220.0" height="134.1" fill="#5ea0ca"/><rect x="2303.9" y="2800.7" width="220.0" height="134.1" fill="#328dbf"/><rect x="2523.4" y="2800.7" width="220.0" height="134.1" fill="#0d75b3"/><rect x="2742.9" y="2800.7" width="220.0" height="134.1" fill="#04649d"/><rect x="2962.4" y="2800.7" width="220.0" height="134.1" fill="#03517e"/><rect x="3181.9" y="2800.7" width="219.5" height="134.1" fill="#023858"/><path d="M986.9 2800.7V2934.8M1206.4 2800.7V2934.8M1425.9 2800.7V2934.8M1645.4 2800.7V2934.8M1864.9 2800.7V2934.8M2084.4 2800.7V2934.8M2303.9 2800.7V2934.8M2523.4 2800.7V2934.8M2742.9 2800.7V2934.8M2962.4 2800.7V2934.8M3181.9 2800.7V2934.8" stroke="#333" stroke-width="1.2" fill="none"/><rect x="767.4" y="2800.7" width="2634.0" height="134.1" fill="none" stroke="#555" stroke-width="1.2"/></svg><div class="t" style="left:2081.5px;top:779.0px;font-size:119.0px;font-weight:bold;transform:translateX(-50%) scaleX(0.9340);transform-origin:center center">Relative Humidity at 500hPa</div><div class="t" style="left:291.0px;top:960.5px;font-size:90.0px;transform:scaleX(0.9600);transform-origin:left center">Forecast Time (UTC): 2025-09-28_15.00.00</div><div class="t" style="left:1050.2px;top:2722.8px;font-size:73.0px;transform:translateX(-50%) scaleX(0.9500);transform-origin:center center">90E</div><div class="t" style="left:2177.9px;top:2722.8px;font-size:73.0px;transform:translateX(-50%) scaleX(0.9500);transform-origin:center center">120E</div><div class="t" style="left:3305.7px;top:2722.8px;font-size:73.0px;transform:translateX(-50%) scaleX(0.9500);transform-origin:center center">150E</div><div class="t" style="left:206.0px;top:1281.1px;font-size:73.0px;transform:translateX(-100%) scaleX(0.9500);transform-origin:right center">20N</div><div class="t" style="left:206.0px;top:1657.0px;font-size:73.0px;transform:translateX(-100%) scaleX(0.9500);transform-origin:right center">10N</div><div class="t" style="left:206.0px;top:2032.9px;font-size:73.0px;transform:translateX(-100%) scaleX(0.9500);transform-origin:right center">0</div><div class="t" style="left:206.0px;top:2408.8px;font-size:73.0px;transform:translateX(-100%) scaleX(0.9500);transform-origin:right center">10S</div><div class="t" style="left:986.9px;top:2963.4px;font-size:73.0px;transform:translateX(-50%) scaleX(0.9500);transform-origin:center center">0</div><div class="t" style="left:1206.4px;top:2963.4px;font-size:73.0px;transform:translateX(-50%) scaleX(0.9500);transform-origin:center center">10</div><div class="t" style="left:1425.9px;top:2963.4px;font-size:73.0px;transform:translateX(-50%) scaleX(0.9500);transform-origin:center center">20</div><div class="t" style="left:1645.4px;top:2963.4px;font-size:73.0px;transform:translateX(-50%) scaleX(0.9500);transform-origin:center center">30</div><div class="t" style="left:1864.9px;top:2963.4px;font-size:73.0px;transform:translateX(-50%) scaleX(0.9500);transform-origin:center center">40</div><div class="t" style="left:2084.4px;top:2963.4px;font-size:73.0px;transform:translateX(-50%) scaleX(0.9500);transform-origin:center center">50</div><div class="t" style="left:2303.9px;top:2963.4px;font-size:73.0px;transform:translateX(-50%) scaleX(0.9500);transform-origin:center center">60</div><div class="t" style="left:2523.4px;top:2963.4px;font-size:73.0px;transform:translateX(-50%) scaleX(0.9500);transform-origin:center center">70</div><div class="t" style="left:2742.9px;top:2963.4px;font-size:73.0px;transform:translateX(-50%) scaleX(0.9500);transform-origin:center center">80</div><div class="t" style="left:2962.4px;top:2963.4px;font-size:73.0px;transform:translateX(-50%) scaleX(0.9500);transform-origin:center center">90</div><div class="t" style="left:3181.9px;top:2963.4px;font-size:73.0px;transform:translateX(-50%) scaleX(0.9500);transform-origin:center center">100</div><div class="t" style="left:2084.0px;top:3077.3px;font-size:95.5px;transform:translateX(-50%) scaleX(0.9670);transform-origin:center center">Relative Humidity (percent)</div></body></html>
